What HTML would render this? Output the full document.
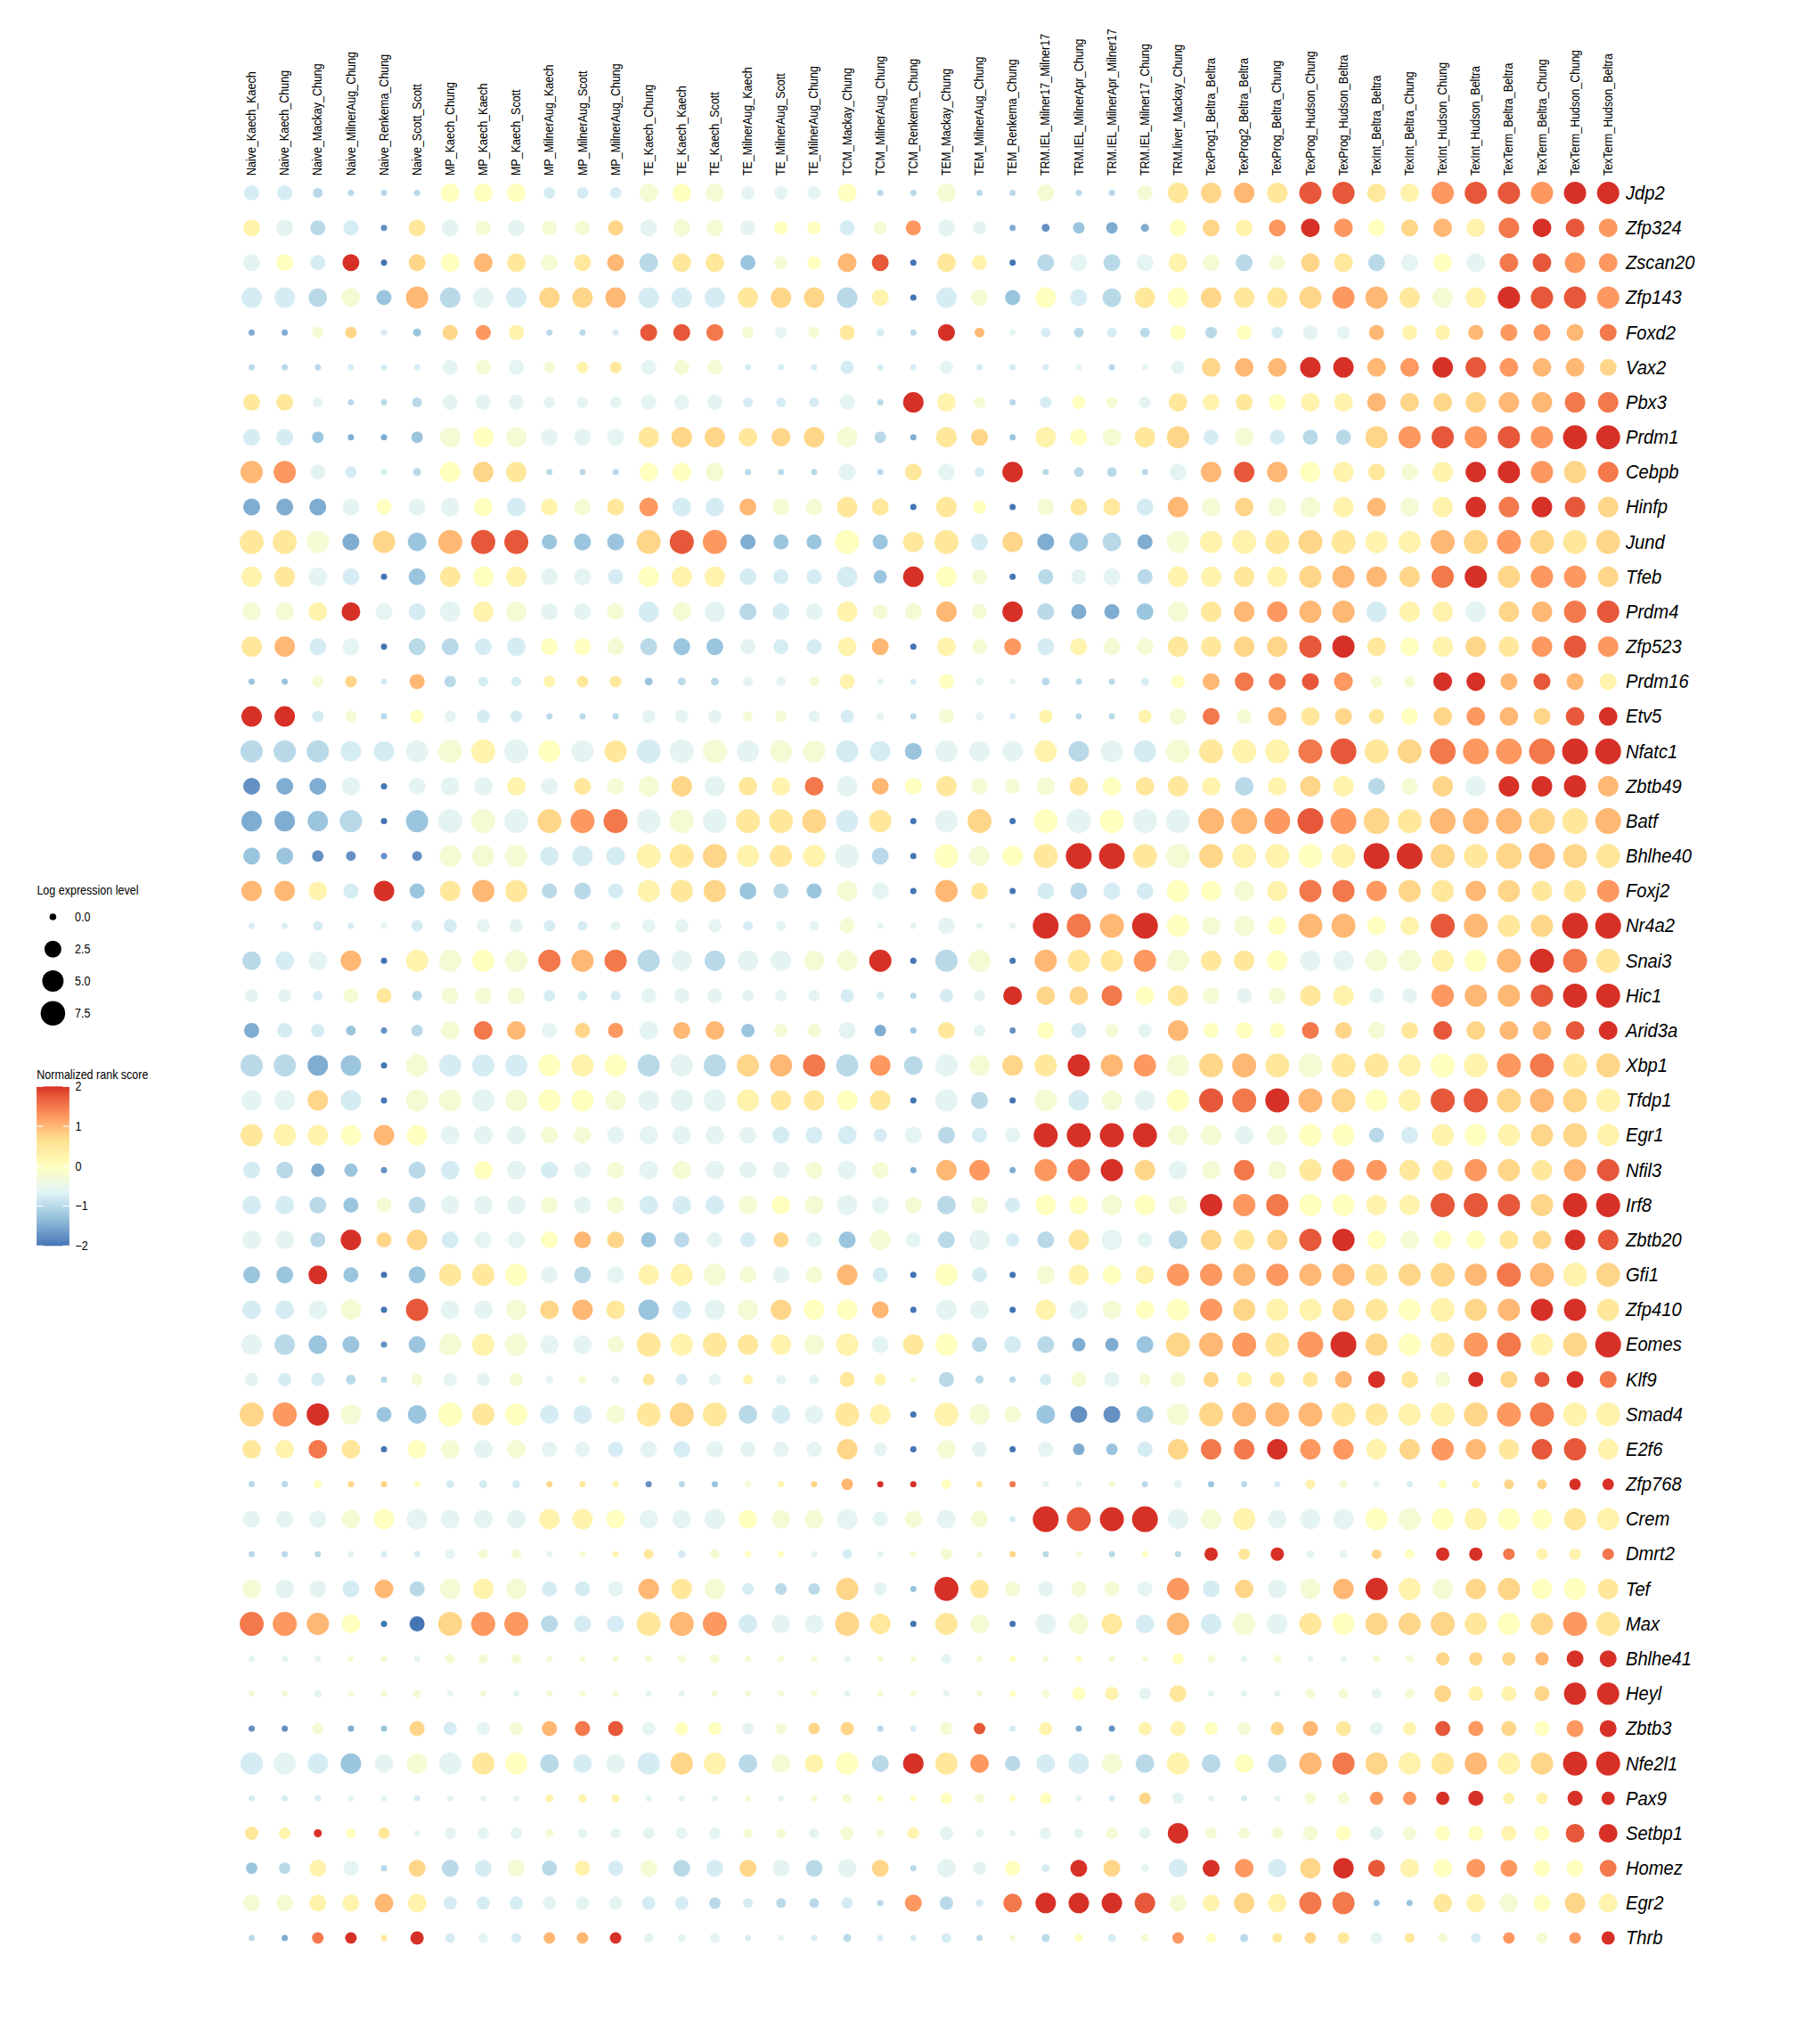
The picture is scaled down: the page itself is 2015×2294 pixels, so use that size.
<!DOCTYPE html><html><head><meta charset="utf-8"><style>html,body{margin:0;padding:0;background:#fff;overflow:hidden;}svg{display:block;}</style></head><body><svg width="2015" height="2294" viewBox="0 0 2015 2294">
<rect width="2015" height="2294" fill="#FFFFFF"/>
<g font-family="&quot;Liberation Sans&quot;, sans-serif" font-size="14" fill="#000">
<text transform="translate(287.10,197.1) rotate(-90) scale(0.895,1)">Naive_Kaech_Kaech</text>
<text transform="translate(324.24,197.1) rotate(-90) scale(0.895,1)">Naive_Kaech_Chung</text>
<text transform="translate(361.38,197.1) rotate(-90) scale(0.895,1)">Naive_Mackay_Chung</text>
<text transform="translate(398.52,197.1) rotate(-90) scale(0.895,1)">Naive_MilnerAug_Chung</text>
<text transform="translate(435.66,197.1) rotate(-90) scale(0.895,1)">Naive_Renkema_Chung</text>
<text transform="translate(472.80,197.1) rotate(-90) scale(0.895,1)">Naive_Scott_Scott</text>
<text transform="translate(509.94,197.1) rotate(-90) scale(0.895,1)">MP_Kaech_Chung</text>
<text transform="translate(547.08,197.1) rotate(-90) scale(0.895,1)">MP_Kaech_Kaech</text>
<text transform="translate(584.22,197.1) rotate(-90) scale(0.895,1)">MP_Kaech_Scott</text>
<text transform="translate(621.36,197.1) rotate(-90) scale(0.895,1)">MP_MilnerAug_Kaech</text>
<text transform="translate(658.50,197.1) rotate(-90) scale(0.895,1)">MP_MilnerAug_Scott</text>
<text transform="translate(695.64,197.1) rotate(-90) scale(0.895,1)">MP_MilnerAug_Chung</text>
<text transform="translate(732.78,197.1) rotate(-90) scale(0.895,1)">TE_Kaech_Chung</text>
<text transform="translate(769.92,197.1) rotate(-90) scale(0.895,1)">TE_Kaech_Kaech</text>
<text transform="translate(807.06,197.1) rotate(-90) scale(0.895,1)">TE_Kaech_Scott</text>
<text transform="translate(844.20,197.1) rotate(-90) scale(0.895,1)">TE_MilnerAug_Kaech</text>
<text transform="translate(881.34,197.1) rotate(-90) scale(0.895,1)">TE_MilnerAug_Scott</text>
<text transform="translate(918.48,197.1) rotate(-90) scale(0.895,1)">TE_MilnerAug_Chung</text>
<text transform="translate(955.62,197.1) rotate(-90) scale(0.895,1)">TCM_Mackay_Chung</text>
<text transform="translate(992.76,197.1) rotate(-90) scale(0.895,1)">TCM_MilnerAug_Chung</text>
<text transform="translate(1029.90,197.1) rotate(-90) scale(0.895,1)">TCM_Renkema_Chung</text>
<text transform="translate(1067.04,197.1) rotate(-90) scale(0.895,1)">TEM_Mackay_Chung</text>
<text transform="translate(1104.18,197.1) rotate(-90) scale(0.895,1)">TEM_MilnerAug_Chung</text>
<text transform="translate(1141.32,197.1) rotate(-90) scale(0.895,1)">TEM_Renkema_Chung</text>
<text transform="translate(1178.46,197.1) rotate(-90) scale(0.895,1)">TRM.IEL_Milner17_Milner17</text>
<text transform="translate(1215.60,197.1) rotate(-90) scale(0.895,1)">TRM.IEL_MilnerApr_Chung</text>
<text transform="translate(1252.74,197.1) rotate(-90) scale(0.895,1)">TRM.IEL_MilnerApr_Milner17</text>
<text transform="translate(1289.88,197.1) rotate(-90) scale(0.895,1)">TRM.IEL_Milner17_Chung</text>
<text transform="translate(1327.02,197.1) rotate(-90) scale(0.895,1)">TRM.liver_Mackay_Chung</text>
<text transform="translate(1364.16,197.1) rotate(-90) scale(0.895,1)">TexProg1_Beltra_Beltra</text>
<text transform="translate(1401.30,197.1) rotate(-90) scale(0.895,1)">TexProg2_Beltra_Beltra</text>
<text transform="translate(1438.44,197.1) rotate(-90) scale(0.895,1)">TexProg_Beltra_Chung</text>
<text transform="translate(1475.58,197.1) rotate(-90) scale(0.895,1)">TexProg_Hudson_Chung</text>
<text transform="translate(1512.72,197.1) rotate(-90) scale(0.895,1)">TexProg_Hudson_Beltra</text>
<text transform="translate(1549.86,197.1) rotate(-90) scale(0.895,1)">TexInt_Beltra_Beltra</text>
<text transform="translate(1587.00,197.1) rotate(-90) scale(0.895,1)">TexInt_Beltra_Chung</text>
<text transform="translate(1624.14,197.1) rotate(-90) scale(0.895,1)">TexInt_Hudson_Chung</text>
<text transform="translate(1661.28,197.1) rotate(-90) scale(0.895,1)">TexInt_Hudson_Beltra</text>
<text transform="translate(1698.42,197.1) rotate(-90) scale(0.895,1)">TexTerm_Beltra_Beltra</text>
<text transform="translate(1735.56,197.1) rotate(-90) scale(0.895,1)">TexTerm_Beltra_Chung</text>
<text transform="translate(1772.70,197.1) rotate(-90) scale(0.895,1)">TexTerm_Hudson_Chung</text>
<text transform="translate(1809.84,197.1) rotate(-90) scale(0.895,1)">TexTerm_Hudson_Beltra</text>
</g>
<circle cx="282.50" cy="216.50" r="8.50" fill="#D6ECF4"/>
<circle cx="319.64" cy="216.50" r="8.50" fill="#D6ECF4"/>
<circle cx="356.78" cy="216.50" r="5.50" fill="#B9D9E9"/>
<circle cx="393.92" cy="216.50" r="3.50" fill="#B9D9E9"/>
<circle cx="431.06" cy="216.50" r="3.50" fill="#B9D9E9"/>
<circle cx="468.20" cy="216.50" r="3.50" fill="#B9D9E9"/>
<circle cx="505.34" cy="216.50" r="10.50" fill="#FFFFBF"/>
<circle cx="542.48" cy="216.50" r="10.50" fill="#FFFFBF"/>
<circle cx="579.62" cy="216.50" r="10.50" fill="#FFFFBF"/>
<circle cx="616.76" cy="216.50" r="6.50" fill="#D6ECF4"/>
<circle cx="653.90" cy="216.50" r="6.50" fill="#D6ECF4"/>
<circle cx="691.04" cy="216.50" r="6.50" fill="#D6ECF4"/>
<circle cx="728.18" cy="216.50" r="10.50" fill="#F5FAD5"/>
<circle cx="765.32" cy="216.50" r="10.50" fill="#FFFFBF"/>
<circle cx="802.46" cy="216.50" r="10.50" fill="#F5FAD5"/>
<circle cx="839.60" cy="216.50" r="7.50" fill="#E4F4F2"/>
<circle cx="876.74" cy="216.50" r="7.50" fill="#E4F4F2"/>
<circle cx="913.88" cy="216.50" r="7.50" fill="#E4F4F2"/>
<circle cx="951.02" cy="216.50" r="10.50" fill="#FFFFBF"/>
<circle cx="988.16" cy="216.50" r="3.50" fill="#B9D9E9"/>
<circle cx="1025.30" cy="216.50" r="3.50" fill="#B9D9E9"/>
<circle cx="1062.44" cy="216.50" r="10.50" fill="#F5FAD5"/>
<circle cx="1099.58" cy="216.50" r="3.50" fill="#B9D9E9"/>
<circle cx="1136.72" cy="216.50" r="3.50" fill="#B9D9E9"/>
<circle cx="1173.86" cy="216.50" r="9.50" fill="#F5FAD5"/>
<circle cx="1211.00" cy="216.50" r="3.50" fill="#B9D9E9"/>
<circle cx="1248.14" cy="216.50" r="3.50" fill="#B9D9E9"/>
<circle cx="1285.28" cy="216.50" r="8.50" fill="#F5FAD5"/>
<circle cx="1322.42" cy="216.50" r="11.50" fill="#FFE89C"/>
<circle cx="1359.56" cy="216.50" r="11.50" fill="#FFD689"/>
<circle cx="1396.70" cy="216.50" r="11.50" fill="#FFB774"/>
<circle cx="1433.84" cy="216.50" r="11.50" fill="#FFE89C"/>
<circle cx="1470.98" cy="216.50" r="12.50" fill="#E65839"/>
<circle cx="1508.12" cy="216.50" r="12.50" fill="#E65839"/>
<circle cx="1545.26" cy="216.50" r="10.50" fill="#FFE89C"/>
<circle cx="1582.40" cy="216.50" r="10.50" fill="#FFF3AD"/>
<circle cx="1619.54" cy="216.50" r="12.50" fill="#FD9860"/>
<circle cx="1656.68" cy="216.50" r="12.50" fill="#E65839"/>
<circle cx="1693.82" cy="216.50" r="12.50" fill="#E65839"/>
<circle cx="1730.96" cy="216.50" r="12.50" fill="#FD9860"/>
<circle cx="1768.10" cy="216.50" r="12.50" fill="#D73027"/>
<circle cx="1805.24" cy="216.50" r="12.50" fill="#D73027"/>
<circle cx="282.50" cy="255.67" r="9.50" fill="#FFF3AD"/>
<circle cx="319.64" cy="255.67" r="9.50" fill="#E4F4F2"/>
<circle cx="356.78" cy="255.67" r="8.50" fill="#B9D9E9"/>
<circle cx="393.92" cy="255.67" r="8.50" fill="#D6ECF4"/>
<circle cx="431.06" cy="255.67" r="3.50" fill="#6490C3"/>
<circle cx="468.20" cy="255.67" r="9.50" fill="#FFE89C"/>
<circle cx="505.34" cy="255.67" r="9.50" fill="#E4F4F2"/>
<circle cx="542.48" cy="255.67" r="8.50" fill="#F5FAD5"/>
<circle cx="579.62" cy="255.67" r="9.50" fill="#E4F4F2"/>
<circle cx="616.76" cy="255.67" r="8.50" fill="#F5FAD5"/>
<circle cx="653.90" cy="255.67" r="8.50" fill="#F5FAD5"/>
<circle cx="691.04" cy="255.67" r="8.50" fill="#FFD689"/>
<circle cx="728.18" cy="255.67" r="9.50" fill="#E4F4F2"/>
<circle cx="765.32" cy="255.67" r="9.50" fill="#F5FAD5"/>
<circle cx="802.46" cy="255.67" r="9.50" fill="#F5FAD5"/>
<circle cx="839.60" cy="255.67" r="8.50" fill="#E4F4F2"/>
<circle cx="876.74" cy="255.67" r="7.50" fill="#FFFFBF"/>
<circle cx="913.88" cy="255.67" r="7.50" fill="#FFFFBF"/>
<circle cx="951.02" cy="255.67" r="8.50" fill="#D6ECF4"/>
<circle cx="988.16" cy="255.67" r="7.50" fill="#F5FAD5"/>
<circle cx="1025.30" cy="255.67" r="8.50" fill="#FD9860"/>
<circle cx="1062.44" cy="255.67" r="9.50" fill="#E4F4F2"/>
<circle cx="1099.58" cy="255.67" r="7.50" fill="#E4F4F2"/>
<circle cx="1136.72" cy="255.67" r="3.50" fill="#7FACD1"/>
<circle cx="1173.86" cy="255.67" r="4.50" fill="#6490C3"/>
<circle cx="1211.00" cy="255.67" r="6.50" fill="#9BC5DF"/>
<circle cx="1248.14" cy="255.67" r="6.50" fill="#7FACD1"/>
<circle cx="1285.28" cy="255.67" r="4.50" fill="#7FACD1"/>
<circle cx="1322.42" cy="255.67" r="9.50" fill="#FFFFBF"/>
<circle cx="1359.56" cy="255.67" r="9.50" fill="#FFD689"/>
<circle cx="1396.70" cy="255.67" r="9.50" fill="#FFF3AD"/>
<circle cx="1433.84" cy="255.67" r="9.50" fill="#FD9860"/>
<circle cx="1470.98" cy="255.67" r="10.50" fill="#D73027"/>
<circle cx="1508.12" cy="255.67" r="10.50" fill="#FD9860"/>
<circle cx="1545.26" cy="255.67" r="9.50" fill="#FFFFBF"/>
<circle cx="1582.40" cy="255.67" r="9.50" fill="#FFD689"/>
<circle cx="1619.54" cy="255.67" r="10.50" fill="#FFB774"/>
<circle cx="1656.68" cy="255.67" r="10.50" fill="#FFF3AD"/>
<circle cx="1693.82" cy="255.67" r="11.50" fill="#F3784C"/>
<circle cx="1730.96" cy="255.67" r="10.50" fill="#D73027"/>
<circle cx="1768.10" cy="255.67" r="10.50" fill="#E65839"/>
<circle cx="1805.24" cy="255.67" r="10.50" fill="#FD9860"/>
<circle cx="282.50" cy="294.84" r="9.50" fill="#E4F4F2"/>
<circle cx="319.64" cy="294.84" r="9.50" fill="#FFFFBF"/>
<circle cx="356.78" cy="294.84" r="8.50" fill="#D6ECF4"/>
<circle cx="393.92" cy="294.84" r="9.50" fill="#D73027"/>
<circle cx="431.06" cy="294.84" r="3.50" fill="#4575B4"/>
<circle cx="468.20" cy="294.84" r="9.50" fill="#FFD689"/>
<circle cx="505.34" cy="294.84" r="10.50" fill="#FFFFBF"/>
<circle cx="542.48" cy="294.84" r="10.50" fill="#FFB774"/>
<circle cx="579.62" cy="294.84" r="10.50" fill="#FFE89C"/>
<circle cx="616.76" cy="294.84" r="9.50" fill="#F5FAD5"/>
<circle cx="653.90" cy="294.84" r="9.50" fill="#FFE89C"/>
<circle cx="691.04" cy="294.84" r="9.50" fill="#FFB774"/>
<circle cx="728.18" cy="294.84" r="10.50" fill="#B9D9E9"/>
<circle cx="765.32" cy="294.84" r="10.50" fill="#FFE89C"/>
<circle cx="802.46" cy="294.84" r="10.50" fill="#FFE89C"/>
<circle cx="839.60" cy="294.84" r="8.50" fill="#9BC5DF"/>
<circle cx="876.74" cy="294.84" r="7.50" fill="#F5FAD5"/>
<circle cx="913.88" cy="294.84" r="7.50" fill="#FFFFBF"/>
<circle cx="951.02" cy="294.84" r="10.50" fill="#FFB774"/>
<circle cx="988.16" cy="294.84" r="9.50" fill="#E65839"/>
<circle cx="1025.30" cy="294.84" r="3.50" fill="#4575B4"/>
<circle cx="1062.44" cy="294.84" r="10.50" fill="#FFE89C"/>
<circle cx="1099.58" cy="294.84" r="8.50" fill="#FFF3AD"/>
<circle cx="1136.72" cy="294.84" r="3.50" fill="#4575B4"/>
<circle cx="1173.86" cy="294.84" r="9.50" fill="#B9D9E9"/>
<circle cx="1211.00" cy="294.84" r="9.50" fill="#E4F4F2"/>
<circle cx="1248.14" cy="294.84" r="9.50" fill="#B9D9E9"/>
<circle cx="1285.28" cy="294.84" r="9.50" fill="#E4F4F2"/>
<circle cx="1322.42" cy="294.84" r="10.50" fill="#FFF3AD"/>
<circle cx="1359.56" cy="294.84" r="9.50" fill="#F5FAD5"/>
<circle cx="1396.70" cy="294.84" r="9.50" fill="#B9D9E9"/>
<circle cx="1433.84" cy="294.84" r="8.50" fill="#F5FAD5"/>
<circle cx="1470.98" cy="294.84" r="10.50" fill="#FFD689"/>
<circle cx="1508.12" cy="294.84" r="10.50" fill="#FFE89C"/>
<circle cx="1545.26" cy="294.84" r="9.50" fill="#B9D9E9"/>
<circle cx="1582.40" cy="294.84" r="9.50" fill="#E4F4F2"/>
<circle cx="1619.54" cy="294.84" r="10.50" fill="#FFFFBF"/>
<circle cx="1656.68" cy="294.84" r="10.50" fill="#E4F4F2"/>
<circle cx="1693.82" cy="294.84" r="10.50" fill="#F3784C"/>
<circle cx="1730.96" cy="294.84" r="10.50" fill="#E65839"/>
<circle cx="1768.10" cy="294.84" r="11.50" fill="#FD9860"/>
<circle cx="1805.24" cy="294.84" r="10.50" fill="#FD9860"/>
<circle cx="282.50" cy="334.01" r="11.50" fill="#D6ECF4"/>
<circle cx="319.64" cy="334.01" r="11.50" fill="#D6ECF4"/>
<circle cx="356.78" cy="334.01" r="10.50" fill="#B9D9E9"/>
<circle cx="393.92" cy="334.01" r="10.50" fill="#F5FAD5"/>
<circle cx="431.06" cy="334.01" r="8.50" fill="#9BC5DF"/>
<circle cx="468.20" cy="334.01" r="12.50" fill="#FFB774"/>
<circle cx="505.34" cy="334.01" r="11.50" fill="#B9D9E9"/>
<circle cx="542.48" cy="334.01" r="11.50" fill="#E4F4F2"/>
<circle cx="579.62" cy="334.01" r="11.50" fill="#D6ECF4"/>
<circle cx="616.76" cy="334.01" r="11.50" fill="#FFD689"/>
<circle cx="653.90" cy="334.01" r="11.50" fill="#FFD689"/>
<circle cx="691.04" cy="334.01" r="11.50" fill="#FFB774"/>
<circle cx="728.18" cy="334.01" r="11.50" fill="#D6ECF4"/>
<circle cx="765.32" cy="334.01" r="11.50" fill="#D6ECF4"/>
<circle cx="802.46" cy="334.01" r="11.50" fill="#D6ECF4"/>
<circle cx="839.60" cy="334.01" r="11.50" fill="#FFE89C"/>
<circle cx="876.74" cy="334.01" r="11.50" fill="#FFD689"/>
<circle cx="913.88" cy="334.01" r="11.50" fill="#FFD689"/>
<circle cx="951.02" cy="334.01" r="11.50" fill="#B9D9E9"/>
<circle cx="988.16" cy="334.01" r="9.50" fill="#FFF3AD"/>
<circle cx="1025.30" cy="334.01" r="3.50" fill="#4575B4"/>
<circle cx="1062.44" cy="334.01" r="11.50" fill="#D6ECF4"/>
<circle cx="1099.58" cy="334.01" r="9.50" fill="#F5FAD5"/>
<circle cx="1136.72" cy="334.01" r="8.50" fill="#9BC5DF"/>
<circle cx="1173.86" cy="334.01" r="11.50" fill="#FFFFBF"/>
<circle cx="1211.00" cy="334.01" r="9.50" fill="#D6ECF4"/>
<circle cx="1248.14" cy="334.01" r="10.50" fill="#B9D9E9"/>
<circle cx="1285.28" cy="334.01" r="11.50" fill="#FFE89C"/>
<circle cx="1322.42" cy="334.01" r="11.50" fill="#FFFFBF"/>
<circle cx="1359.56" cy="334.01" r="11.50" fill="#FFD689"/>
<circle cx="1396.70" cy="334.01" r="11.50" fill="#FFE89C"/>
<circle cx="1433.84" cy="334.01" r="11.50" fill="#FFE89C"/>
<circle cx="1470.98" cy="334.01" r="12.50" fill="#FFD689"/>
<circle cx="1508.12" cy="334.01" r="12.50" fill="#FD9860"/>
<circle cx="1545.26" cy="334.01" r="12.50" fill="#FFB774"/>
<circle cx="1582.40" cy="334.01" r="11.50" fill="#FFE89C"/>
<circle cx="1619.54" cy="334.01" r="11.50" fill="#F5FAD5"/>
<circle cx="1656.68" cy="334.01" r="11.50" fill="#FFF3AD"/>
<circle cx="1693.82" cy="334.01" r="12.50" fill="#D73027"/>
<circle cx="1730.96" cy="334.01" r="12.50" fill="#E65839"/>
<circle cx="1768.10" cy="334.01" r="12.50" fill="#E65839"/>
<circle cx="1805.24" cy="334.01" r="12.50" fill="#FD9860"/>
<circle cx="282.50" cy="373.18" r="3.50" fill="#7FACD1"/>
<circle cx="319.64" cy="373.18" r="3.50" fill="#7FACD1"/>
<circle cx="356.78" cy="373.18" r="6.50" fill="#F5FAD5"/>
<circle cx="393.92" cy="373.18" r="6.50" fill="#FFD689"/>
<circle cx="431.06" cy="373.18" r="3.50" fill="#D6ECF4"/>
<circle cx="468.20" cy="373.18" r="4.50" fill="#9BC5DF"/>
<circle cx="505.34" cy="373.18" r="8.50" fill="#FFD689"/>
<circle cx="542.48" cy="373.18" r="8.50" fill="#FD9860"/>
<circle cx="579.62" cy="373.18" r="8.50" fill="#FFF3AD"/>
<circle cx="616.76" cy="373.18" r="3.50" fill="#B9D9E9"/>
<circle cx="653.90" cy="373.18" r="3.50" fill="#B9D9E9"/>
<circle cx="691.04" cy="373.18" r="3.50" fill="#D6ECF4"/>
<circle cx="728.18" cy="373.18" r="9.50" fill="#E65839"/>
<circle cx="765.32" cy="373.18" r="9.50" fill="#E65839"/>
<circle cx="802.46" cy="373.18" r="9.50" fill="#F3784C"/>
<circle cx="839.60" cy="373.18" r="6.50" fill="#F5FAD5"/>
<circle cx="876.74" cy="373.18" r="6.50" fill="#E4F4F2"/>
<circle cx="913.88" cy="373.18" r="6.50" fill="#F5FAD5"/>
<circle cx="951.02" cy="373.18" r="8.50" fill="#FFE89C"/>
<circle cx="988.16" cy="373.18" r="4.50" fill="#D6ECF4"/>
<circle cx="1025.30" cy="373.18" r="3.50" fill="#B9D9E9"/>
<circle cx="1062.44" cy="373.18" r="9.50" fill="#D73027"/>
<circle cx="1099.58" cy="373.18" r="5.50" fill="#FFB774"/>
<circle cx="1136.72" cy="373.18" r="3.50" fill="#E4F4F2"/>
<circle cx="1173.86" cy="373.18" r="5.50" fill="#D6ECF4"/>
<circle cx="1211.00" cy="373.18" r="5.50" fill="#B9D9E9"/>
<circle cx="1248.14" cy="373.18" r="5.50" fill="#D6ECF4"/>
<circle cx="1285.28" cy="373.18" r="5.50" fill="#B9D9E9"/>
<circle cx="1322.42" cy="373.18" r="8.50" fill="#FFFFBF"/>
<circle cx="1359.56" cy="373.18" r="6.50" fill="#B9D9E9"/>
<circle cx="1396.70" cy="373.18" r="8.50" fill="#FFFFBF"/>
<circle cx="1433.84" cy="373.18" r="6.50" fill="#D6ECF4"/>
<circle cx="1470.98" cy="373.18" r="8.50" fill="#E4F4F2"/>
<circle cx="1508.12" cy="373.18" r="7.50" fill="#E4F4F2"/>
<circle cx="1545.26" cy="373.18" r="8.50" fill="#FFB774"/>
<circle cx="1582.40" cy="373.18" r="8.50" fill="#FFF3AD"/>
<circle cx="1619.54" cy="373.18" r="8.50" fill="#FFF3AD"/>
<circle cx="1656.68" cy="373.18" r="8.50" fill="#FFB774"/>
<circle cx="1693.82" cy="373.18" r="9.50" fill="#FD9860"/>
<circle cx="1730.96" cy="373.18" r="9.50" fill="#FD9860"/>
<circle cx="1768.10" cy="373.18" r="9.50" fill="#FFB774"/>
<circle cx="1805.24" cy="373.18" r="9.50" fill="#F3784C"/>
<circle cx="282.50" cy="412.35" r="3.50" fill="#B9D9E9"/>
<circle cx="319.64" cy="412.35" r="3.50" fill="#B9D9E9"/>
<circle cx="356.78" cy="412.35" r="3.50" fill="#B9D9E9"/>
<circle cx="393.92" cy="412.35" r="3.50" fill="#D6ECF4"/>
<circle cx="431.06" cy="412.35" r="3.50" fill="#D6ECF4"/>
<circle cx="468.20" cy="412.35" r="3.50" fill="#D6ECF4"/>
<circle cx="505.34" cy="412.35" r="8.50" fill="#E4F4F2"/>
<circle cx="542.48" cy="412.35" r="8.50" fill="#F5FAD5"/>
<circle cx="579.62" cy="412.35" r="8.50" fill="#E4F4F2"/>
<circle cx="616.76" cy="412.35" r="6.50" fill="#F5FAD5"/>
<circle cx="653.90" cy="412.35" r="6.50" fill="#FFF3AD"/>
<circle cx="691.04" cy="412.35" r="6.50" fill="#FFE89C"/>
<circle cx="728.18" cy="412.35" r="8.50" fill="#E4F4F2"/>
<circle cx="765.32" cy="412.35" r="8.50" fill="#F5FAD5"/>
<circle cx="802.46" cy="412.35" r="8.50" fill="#F5FAD5"/>
<circle cx="839.60" cy="412.35" r="3.50" fill="#D6ECF4"/>
<circle cx="876.74" cy="412.35" r="3.50" fill="#D6ECF4"/>
<circle cx="913.88" cy="412.35" r="3.50" fill="#D6ECF4"/>
<circle cx="951.02" cy="412.35" r="7.50" fill="#D6ECF4"/>
<circle cx="988.16" cy="412.35" r="3.50" fill="#D6ECF4"/>
<circle cx="1025.30" cy="412.35" r="3.50" fill="#D6ECF4"/>
<circle cx="1062.44" cy="412.35" r="7.50" fill="#E4F4F2"/>
<circle cx="1099.58" cy="412.35" r="3.50" fill="#D6ECF4"/>
<circle cx="1136.72" cy="412.35" r="3.50" fill="#D6ECF4"/>
<circle cx="1173.86" cy="412.35" r="3.50" fill="#D6ECF4"/>
<circle cx="1211.00" cy="412.35" r="3.50" fill="#E4F4F2"/>
<circle cx="1248.14" cy="412.35" r="3.50" fill="#B9D9E9"/>
<circle cx="1285.28" cy="412.35" r="3.50" fill="#E4F4F2"/>
<circle cx="1322.42" cy="412.35" r="7.50" fill="#E4F4F2"/>
<circle cx="1359.56" cy="412.35" r="10.50" fill="#FFD689"/>
<circle cx="1396.70" cy="412.35" r="10.50" fill="#FFB774"/>
<circle cx="1433.84" cy="412.35" r="10.50" fill="#FFB774"/>
<circle cx="1470.98" cy="412.35" r="11.50" fill="#D73027"/>
<circle cx="1508.12" cy="412.35" r="11.50" fill="#D73027"/>
<circle cx="1545.26" cy="412.35" r="10.50" fill="#FFB774"/>
<circle cx="1582.40" cy="412.35" r="10.50" fill="#FD9860"/>
<circle cx="1619.54" cy="412.35" r="11.50" fill="#D73027"/>
<circle cx="1656.68" cy="412.35" r="11.50" fill="#E65839"/>
<circle cx="1693.82" cy="412.35" r="10.50" fill="#FD9860"/>
<circle cx="1730.96" cy="412.35" r="10.50" fill="#FFB774"/>
<circle cx="1768.10" cy="412.35" r="10.50" fill="#FFB774"/>
<circle cx="1805.24" cy="412.35" r="9.50" fill="#FFD689"/>
<circle cx="282.50" cy="451.52" r="9.50" fill="#FFE89C"/>
<circle cx="319.64" cy="451.52" r="9.50" fill="#FFE89C"/>
<circle cx="356.78" cy="451.52" r="5.50" fill="#E4F4F2"/>
<circle cx="393.92" cy="451.52" r="3.50" fill="#B9D9E9"/>
<circle cx="431.06" cy="451.52" r="3.50" fill="#B9D9E9"/>
<circle cx="468.20" cy="451.52" r="5.50" fill="#B9D9E9"/>
<circle cx="505.34" cy="451.52" r="8.50" fill="#E4F4F2"/>
<circle cx="542.48" cy="451.52" r="8.50" fill="#E4F4F2"/>
<circle cx="579.62" cy="451.52" r="8.50" fill="#E4F4F2"/>
<circle cx="616.76" cy="451.52" r="6.50" fill="#E4F4F2"/>
<circle cx="653.90" cy="451.52" r="6.50" fill="#E4F4F2"/>
<circle cx="691.04" cy="451.52" r="6.50" fill="#E4F4F2"/>
<circle cx="728.18" cy="451.52" r="8.50" fill="#E4F4F2"/>
<circle cx="765.32" cy="451.52" r="8.50" fill="#E4F4F2"/>
<circle cx="802.46" cy="451.52" r="8.50" fill="#E4F4F2"/>
<circle cx="839.60" cy="451.52" r="5.50" fill="#D6ECF4"/>
<circle cx="876.74" cy="451.52" r="5.50" fill="#D6ECF4"/>
<circle cx="913.88" cy="451.52" r="5.50" fill="#D6ECF4"/>
<circle cx="951.02" cy="451.52" r="8.50" fill="#E4F4F2"/>
<circle cx="988.16" cy="451.52" r="3.50" fill="#B9D9E9"/>
<circle cx="1025.30" cy="451.52" r="11.50" fill="#D73027"/>
<circle cx="1062.44" cy="451.52" r="10.50" fill="#FFF3AD"/>
<circle cx="1099.58" cy="451.52" r="6.50" fill="#F5FAD5"/>
<circle cx="1136.72" cy="451.52" r="3.50" fill="#B9D9E9"/>
<circle cx="1173.86" cy="451.52" r="6.50" fill="#D6ECF4"/>
<circle cx="1211.00" cy="451.52" r="7.50" fill="#FFFFBF"/>
<circle cx="1248.14" cy="451.52" r="6.50" fill="#F5FAD5"/>
<circle cx="1285.28" cy="451.52" r="6.50" fill="#E4F4F2"/>
<circle cx="1322.42" cy="451.52" r="10.50" fill="#FFE89C"/>
<circle cx="1359.56" cy="451.52" r="9.50" fill="#FFF3AD"/>
<circle cx="1396.70" cy="451.52" r="9.50" fill="#FFE89C"/>
<circle cx="1433.84" cy="451.52" r="9.50" fill="#FFFFBF"/>
<circle cx="1470.98" cy="451.52" r="10.50" fill="#FFF3AD"/>
<circle cx="1508.12" cy="451.52" r="10.50" fill="#FFF3AD"/>
<circle cx="1545.26" cy="451.52" r="10.50" fill="#FFB774"/>
<circle cx="1582.40" cy="451.52" r="10.50" fill="#FFD689"/>
<circle cx="1619.54" cy="451.52" r="10.50" fill="#FFD689"/>
<circle cx="1656.68" cy="451.52" r="11.50" fill="#FFD689"/>
<circle cx="1693.82" cy="451.52" r="11.50" fill="#FFB774"/>
<circle cx="1730.96" cy="451.52" r="11.50" fill="#FFB774"/>
<circle cx="1768.10" cy="451.52" r="11.50" fill="#F3784C"/>
<circle cx="1805.24" cy="451.52" r="11.50" fill="#F3784C"/>
<circle cx="282.50" cy="490.69" r="9.50" fill="#D6ECF4"/>
<circle cx="319.64" cy="490.69" r="9.50" fill="#D6ECF4"/>
<circle cx="356.78" cy="490.69" r="6.50" fill="#9BC5DF"/>
<circle cx="393.92" cy="490.69" r="3.50" fill="#7FACD1"/>
<circle cx="431.06" cy="490.69" r="3.50" fill="#7FACD1"/>
<circle cx="468.20" cy="490.69" r="6.50" fill="#9BC5DF"/>
<circle cx="505.34" cy="490.69" r="11.50" fill="#F5FAD5"/>
<circle cx="542.48" cy="490.69" r="11.50" fill="#FFFFBF"/>
<circle cx="579.62" cy="490.69" r="11.50" fill="#F5FAD5"/>
<circle cx="616.76" cy="490.69" r="9.50" fill="#E4F4F2"/>
<circle cx="653.90" cy="490.69" r="9.50" fill="#E4F4F2"/>
<circle cx="691.04" cy="490.69" r="9.50" fill="#E4F4F2"/>
<circle cx="728.18" cy="490.69" r="11.50" fill="#FFE89C"/>
<circle cx="765.32" cy="490.69" r="11.50" fill="#FFD689"/>
<circle cx="802.46" cy="490.69" r="11.50" fill="#FFD689"/>
<circle cx="839.60" cy="490.69" r="10.50" fill="#FFE89C"/>
<circle cx="876.74" cy="490.69" r="10.50" fill="#FFD689"/>
<circle cx="913.88" cy="490.69" r="11.50" fill="#FFD689"/>
<circle cx="951.02" cy="490.69" r="11.50" fill="#F5FAD5"/>
<circle cx="988.16" cy="490.69" r="6.50" fill="#B9D9E9"/>
<circle cx="1025.30" cy="490.69" r="3.50" fill="#7FACD1"/>
<circle cx="1062.44" cy="490.69" r="11.50" fill="#FFE89C"/>
<circle cx="1099.58" cy="490.69" r="9.50" fill="#FFD689"/>
<circle cx="1136.72" cy="490.69" r="3.50" fill="#9BC5DF"/>
<circle cx="1173.86" cy="490.69" r="11.50" fill="#FFF3AD"/>
<circle cx="1211.00" cy="490.69" r="9.50" fill="#FFFFBF"/>
<circle cx="1248.14" cy="490.69" r="10.50" fill="#F5FAD5"/>
<circle cx="1285.28" cy="490.69" r="11.50" fill="#FFE89C"/>
<circle cx="1322.42" cy="490.69" r="12.50" fill="#FFD689"/>
<circle cx="1359.56" cy="490.69" r="8.50" fill="#D6ECF4"/>
<circle cx="1396.70" cy="490.69" r="10.50" fill="#F5FAD5"/>
<circle cx="1433.84" cy="490.69" r="8.50" fill="#D6ECF4"/>
<circle cx="1470.98" cy="490.69" r="8.50" fill="#B9D9E9"/>
<circle cx="1508.12" cy="490.69" r="8.50" fill="#B9D9E9"/>
<circle cx="1545.26" cy="490.69" r="12.50" fill="#FFD689"/>
<circle cx="1582.40" cy="490.69" r="12.50" fill="#FD9860"/>
<circle cx="1619.54" cy="490.69" r="12.50" fill="#E65839"/>
<circle cx="1656.68" cy="490.69" r="12.50" fill="#FD9860"/>
<circle cx="1693.82" cy="490.69" r="12.50" fill="#E65839"/>
<circle cx="1730.96" cy="490.69" r="12.50" fill="#FD9860"/>
<circle cx="1768.10" cy="490.69" r="13.50" fill="#D73027"/>
<circle cx="1805.24" cy="490.69" r="13.50" fill="#D73027"/>
<circle cx="282.50" cy="529.86" r="12.50" fill="#FFB774"/>
<circle cx="319.64" cy="529.86" r="12.50" fill="#FD9860"/>
<circle cx="356.78" cy="529.86" r="8.50" fill="#E4F4F2"/>
<circle cx="393.92" cy="529.86" r="6.50" fill="#D6ECF4"/>
<circle cx="431.06" cy="529.86" r="3.50" fill="#D6ECF4"/>
<circle cx="468.20" cy="529.86" r="4.50" fill="#B9D9E9"/>
<circle cx="505.34" cy="529.86" r="11.50" fill="#FFFFBF"/>
<circle cx="542.48" cy="529.86" r="11.50" fill="#FFD689"/>
<circle cx="579.62" cy="529.86" r="11.50" fill="#FFE89C"/>
<circle cx="616.76" cy="529.86" r="3.50" fill="#B9D9E9"/>
<circle cx="653.90" cy="529.86" r="3.50" fill="#B9D9E9"/>
<circle cx="691.04" cy="529.86" r="3.50" fill="#B9D9E9"/>
<circle cx="728.18" cy="529.86" r="10.50" fill="#FFFFBF"/>
<circle cx="765.32" cy="529.86" r="10.50" fill="#FFFFBF"/>
<circle cx="802.46" cy="529.86" r="10.50" fill="#F5FAD5"/>
<circle cx="839.60" cy="529.86" r="3.50" fill="#B9D9E9"/>
<circle cx="876.74" cy="529.86" r="3.50" fill="#B9D9E9"/>
<circle cx="913.88" cy="529.86" r="3.50" fill="#B9D9E9"/>
<circle cx="951.02" cy="529.86" r="9.50" fill="#E4F4F2"/>
<circle cx="988.16" cy="529.86" r="3.50" fill="#B9D9E9"/>
<circle cx="1025.30" cy="529.86" r="9.50" fill="#FFE89C"/>
<circle cx="1062.44" cy="529.86" r="9.50" fill="#E4F4F2"/>
<circle cx="1099.58" cy="529.86" r="5.50" fill="#D6ECF4"/>
<circle cx="1136.72" cy="529.86" r="11.50" fill="#D73027"/>
<circle cx="1173.86" cy="529.86" r="3.50" fill="#B9D9E9"/>
<circle cx="1211.00" cy="529.86" r="5.50" fill="#B9D9E9"/>
<circle cx="1248.14" cy="529.86" r="5.50" fill="#B9D9E9"/>
<circle cx="1285.28" cy="529.86" r="3.50" fill="#B9D9E9"/>
<circle cx="1322.42" cy="529.86" r="9.50" fill="#E4F4F2"/>
<circle cx="1359.56" cy="529.86" r="11.50" fill="#FFB774"/>
<circle cx="1396.70" cy="529.86" r="11.50" fill="#E65839"/>
<circle cx="1433.84" cy="529.86" r="11.50" fill="#FFB774"/>
<circle cx="1470.98" cy="529.86" r="11.50" fill="#FFFFBF"/>
<circle cx="1508.12" cy="529.86" r="11.50" fill="#FFF3AD"/>
<circle cx="1545.26" cy="529.86" r="9.50" fill="#FFE89C"/>
<circle cx="1582.40" cy="529.86" r="9.50" fill="#F5FAD5"/>
<circle cx="1619.54" cy="529.86" r="11.50" fill="#FFF3AD"/>
<circle cx="1656.68" cy="529.86" r="11.50" fill="#D73027"/>
<circle cx="1693.82" cy="529.86" r="12.50" fill="#D73027"/>
<circle cx="1730.96" cy="529.86" r="12.50" fill="#FD9860"/>
<circle cx="1768.10" cy="529.86" r="12.50" fill="#FFD689"/>
<circle cx="1805.24" cy="529.86" r="11.50" fill="#F3784C"/>
<circle cx="282.50" cy="569.03" r="9.50" fill="#7FACD1"/>
<circle cx="319.64" cy="569.03" r="9.50" fill="#7FACD1"/>
<circle cx="356.78" cy="569.03" r="9.50" fill="#7FACD1"/>
<circle cx="393.92" cy="569.03" r="9.50" fill="#E4F4F2"/>
<circle cx="431.06" cy="569.03" r="8.50" fill="#FFFFBF"/>
<circle cx="468.20" cy="569.03" r="9.50" fill="#E4F4F2"/>
<circle cx="505.34" cy="569.03" r="10.50" fill="#E4F4F2"/>
<circle cx="542.48" cy="569.03" r="10.50" fill="#FFFFBF"/>
<circle cx="579.62" cy="569.03" r="10.50" fill="#D6ECF4"/>
<circle cx="616.76" cy="569.03" r="9.50" fill="#FFF3AD"/>
<circle cx="653.90" cy="569.03" r="9.50" fill="#F5FAD5"/>
<circle cx="691.04" cy="569.03" r="9.50" fill="#FFE89C"/>
<circle cx="728.18" cy="569.03" r="10.50" fill="#FD9860"/>
<circle cx="765.32" cy="569.03" r="10.50" fill="#D6ECF4"/>
<circle cx="802.46" cy="569.03" r="10.50" fill="#D6ECF4"/>
<circle cx="839.60" cy="569.03" r="9.50" fill="#FFB774"/>
<circle cx="876.74" cy="569.03" r="9.50" fill="#F5FAD5"/>
<circle cx="913.88" cy="569.03" r="9.50" fill="#F5FAD5"/>
<circle cx="951.02" cy="569.03" r="11.50" fill="#FFE89C"/>
<circle cx="988.16" cy="569.03" r="9.50" fill="#FFE89C"/>
<circle cx="1025.30" cy="569.03" r="3.50" fill="#4575B4"/>
<circle cx="1062.44" cy="569.03" r="11.50" fill="#FFE89C"/>
<circle cx="1099.58" cy="569.03" r="7.50" fill="#FFFFBF"/>
<circle cx="1136.72" cy="569.03" r="3.50" fill="#4575B4"/>
<circle cx="1173.86" cy="569.03" r="9.50" fill="#F5FAD5"/>
<circle cx="1211.00" cy="569.03" r="9.50" fill="#FFE89C"/>
<circle cx="1248.14" cy="569.03" r="9.50" fill="#FFE89C"/>
<circle cx="1285.28" cy="569.03" r="9.50" fill="#D6ECF4"/>
<circle cx="1322.42" cy="569.03" r="11.50" fill="#FFB774"/>
<circle cx="1359.56" cy="569.03" r="10.50" fill="#F5FAD5"/>
<circle cx="1396.70" cy="569.03" r="10.50" fill="#FFD689"/>
<circle cx="1433.84" cy="569.03" r="10.50" fill="#F5FAD5"/>
<circle cx="1470.98" cy="569.03" r="11.50" fill="#F5FAD5"/>
<circle cx="1508.12" cy="569.03" r="11.50" fill="#FFF3AD"/>
<circle cx="1545.26" cy="569.03" r="10.50" fill="#FFB774"/>
<circle cx="1582.40" cy="569.03" r="10.50" fill="#F5FAD5"/>
<circle cx="1619.54" cy="569.03" r="11.50" fill="#FFF3AD"/>
<circle cx="1656.68" cy="569.03" r="11.50" fill="#D73027"/>
<circle cx="1693.82" cy="569.03" r="11.50" fill="#F3784C"/>
<circle cx="1730.96" cy="569.03" r="11.50" fill="#D73027"/>
<circle cx="1768.10" cy="569.03" r="11.50" fill="#E65839"/>
<circle cx="1805.24" cy="569.03" r="11.50" fill="#FFD689"/>
<circle cx="282.50" cy="608.20" r="13.50" fill="#FFE89C"/>
<circle cx="319.64" cy="608.20" r="13.50" fill="#FFE89C"/>
<circle cx="356.78" cy="608.20" r="12.50" fill="#F5FAD5"/>
<circle cx="393.92" cy="608.20" r="9.50" fill="#7FACD1"/>
<circle cx="431.06" cy="608.20" r="12.50" fill="#FFD689"/>
<circle cx="468.20" cy="608.20" r="10.50" fill="#9BC5DF"/>
<circle cx="505.34" cy="608.20" r="13.50" fill="#FFB774"/>
<circle cx="542.48" cy="608.20" r="13.50" fill="#E65839"/>
<circle cx="579.62" cy="608.20" r="13.50" fill="#E65839"/>
<circle cx="616.76" cy="608.20" r="8.50" fill="#9BC5DF"/>
<circle cx="653.90" cy="608.20" r="9.50" fill="#9BC5DF"/>
<circle cx="691.04" cy="608.20" r="9.50" fill="#9BC5DF"/>
<circle cx="728.18" cy="608.20" r="13.50" fill="#FFD689"/>
<circle cx="765.32" cy="608.20" r="13.50" fill="#E65839"/>
<circle cx="802.46" cy="608.20" r="13.50" fill="#FD9860"/>
<circle cx="839.60" cy="608.20" r="8.50" fill="#7FACD1"/>
<circle cx="876.74" cy="608.20" r="8.50" fill="#9BC5DF"/>
<circle cx="913.88" cy="608.20" r="8.50" fill="#9BC5DF"/>
<circle cx="951.02" cy="608.20" r="13.50" fill="#FFFFBF"/>
<circle cx="988.16" cy="608.20" r="8.50" fill="#9BC5DF"/>
<circle cx="1025.30" cy="608.20" r="11.50" fill="#FFE89C"/>
<circle cx="1062.44" cy="608.20" r="13.50" fill="#FFE89C"/>
<circle cx="1099.58" cy="608.20" r="9.50" fill="#D6ECF4"/>
<circle cx="1136.72" cy="608.20" r="11.50" fill="#FFD689"/>
<circle cx="1173.86" cy="608.20" r="9.50" fill="#7FACD1"/>
<circle cx="1211.00" cy="608.20" r="10.50" fill="#9BC5DF"/>
<circle cx="1248.14" cy="608.20" r="10.50" fill="#B9D9E9"/>
<circle cx="1285.28" cy="608.20" r="8.50" fill="#7FACD1"/>
<circle cx="1322.42" cy="608.20" r="12.50" fill="#F5FAD5"/>
<circle cx="1359.56" cy="608.20" r="12.50" fill="#FFF3AD"/>
<circle cx="1396.70" cy="608.20" r="13.50" fill="#FFF3AD"/>
<circle cx="1433.84" cy="608.20" r="13.50" fill="#FFE89C"/>
<circle cx="1470.98" cy="608.20" r="13.50" fill="#FFD689"/>
<circle cx="1508.12" cy="608.20" r="13.50" fill="#FFE89C"/>
<circle cx="1545.26" cy="608.20" r="12.50" fill="#FFF3AD"/>
<circle cx="1582.40" cy="608.20" r="12.50" fill="#FFF3AD"/>
<circle cx="1619.54" cy="608.20" r="13.50" fill="#FFB774"/>
<circle cx="1656.68" cy="608.20" r="13.50" fill="#FFD689"/>
<circle cx="1693.82" cy="608.20" r="13.50" fill="#FD9860"/>
<circle cx="1730.96" cy="608.20" r="13.50" fill="#FFD689"/>
<circle cx="1768.10" cy="608.20" r="13.50" fill="#FFE89C"/>
<circle cx="1805.24" cy="608.20" r="13.50" fill="#FFD689"/>
<circle cx="282.50" cy="647.37" r="11.50" fill="#FFF3AD"/>
<circle cx="319.64" cy="647.37" r="11.50" fill="#FFE89C"/>
<circle cx="356.78" cy="647.37" r="10.50" fill="#E4F4F2"/>
<circle cx="393.92" cy="647.37" r="9.50" fill="#D6ECF4"/>
<circle cx="431.06" cy="647.37" r="3.50" fill="#4575B4"/>
<circle cx="468.20" cy="647.37" r="9.50" fill="#9BC5DF"/>
<circle cx="505.34" cy="647.37" r="11.50" fill="#FFE89C"/>
<circle cx="542.48" cy="647.37" r="11.50" fill="#FFFFBF"/>
<circle cx="579.62" cy="647.37" r="11.50" fill="#FFF3AD"/>
<circle cx="616.76" cy="647.37" r="9.50" fill="#E4F4F2"/>
<circle cx="653.90" cy="647.37" r="9.50" fill="#E4F4F2"/>
<circle cx="691.04" cy="647.37" r="8.50" fill="#D6ECF4"/>
<circle cx="728.18" cy="647.37" r="11.50" fill="#FFFFBF"/>
<circle cx="765.32" cy="647.37" r="11.50" fill="#FFF3AD"/>
<circle cx="802.46" cy="647.37" r="11.50" fill="#FFF3AD"/>
<circle cx="839.60" cy="647.37" r="9.50" fill="#D6ECF4"/>
<circle cx="876.74" cy="647.37" r="8.50" fill="#D6ECF4"/>
<circle cx="913.88" cy="647.37" r="8.50" fill="#D6ECF4"/>
<circle cx="951.02" cy="647.37" r="11.50" fill="#D6ECF4"/>
<circle cx="988.16" cy="647.37" r="7.50" fill="#9BC5DF"/>
<circle cx="1025.30" cy="647.37" r="11.50" fill="#D73027"/>
<circle cx="1062.44" cy="647.37" r="11.50" fill="#FFFFBF"/>
<circle cx="1099.58" cy="647.37" r="8.50" fill="#F5FAD5"/>
<circle cx="1136.72" cy="647.37" r="3.50" fill="#4575B4"/>
<circle cx="1173.86" cy="647.37" r="8.50" fill="#B9D9E9"/>
<circle cx="1211.00" cy="647.37" r="8.50" fill="#E4F4F2"/>
<circle cx="1248.14" cy="647.37" r="9.50" fill="#E4F4F2"/>
<circle cx="1285.28" cy="647.37" r="8.50" fill="#B9D9E9"/>
<circle cx="1322.42" cy="647.37" r="11.50" fill="#FFF3AD"/>
<circle cx="1359.56" cy="647.37" r="11.50" fill="#FFF3AD"/>
<circle cx="1396.70" cy="647.37" r="11.50" fill="#FFE89C"/>
<circle cx="1433.84" cy="647.37" r="11.50" fill="#FFF3AD"/>
<circle cx="1470.98" cy="647.37" r="12.50" fill="#FFD689"/>
<circle cx="1508.12" cy="647.37" r="12.50" fill="#FFB774"/>
<circle cx="1545.26" cy="647.37" r="11.50" fill="#FFB774"/>
<circle cx="1582.40" cy="647.37" r="11.50" fill="#FFD689"/>
<circle cx="1619.54" cy="647.37" r="12.50" fill="#F3784C"/>
<circle cx="1656.68" cy="647.37" r="12.50" fill="#D73027"/>
<circle cx="1693.82" cy="647.37" r="12.50" fill="#FFD689"/>
<circle cx="1730.96" cy="647.37" r="12.50" fill="#FD9860"/>
<circle cx="1768.10" cy="647.37" r="12.50" fill="#FD9860"/>
<circle cx="1805.24" cy="647.37" r="11.50" fill="#FFD689"/>
<circle cx="282.50" cy="686.54" r="10.50" fill="#F5FAD5"/>
<circle cx="319.64" cy="686.54" r="10.50" fill="#F5FAD5"/>
<circle cx="356.78" cy="686.54" r="10.50" fill="#FFF3AD"/>
<circle cx="393.92" cy="686.54" r="10.50" fill="#D73027"/>
<circle cx="431.06" cy="686.54" r="9.50" fill="#E4F4F2"/>
<circle cx="468.20" cy="686.54" r="9.50" fill="#D6ECF4"/>
<circle cx="505.34" cy="686.54" r="11.50" fill="#E4F4F2"/>
<circle cx="542.48" cy="686.54" r="11.50" fill="#FFF3AD"/>
<circle cx="579.62" cy="686.54" r="11.50" fill="#F5FAD5"/>
<circle cx="616.76" cy="686.54" r="9.50" fill="#E4F4F2"/>
<circle cx="653.90" cy="686.54" r="9.50" fill="#E4F4F2"/>
<circle cx="691.04" cy="686.54" r="9.50" fill="#F5FAD5"/>
<circle cx="728.18" cy="686.54" r="11.50" fill="#D6ECF4"/>
<circle cx="765.32" cy="686.54" r="10.50" fill="#F5FAD5"/>
<circle cx="802.46" cy="686.54" r="11.50" fill="#E4F4F2"/>
<circle cx="839.60" cy="686.54" r="9.50" fill="#B9D9E9"/>
<circle cx="876.74" cy="686.54" r="9.50" fill="#D6ECF4"/>
<circle cx="913.88" cy="686.54" r="9.50" fill="#E4F4F2"/>
<circle cx="951.02" cy="686.54" r="11.50" fill="#FFF3AD"/>
<circle cx="988.16" cy="686.54" r="8.50" fill="#F5FAD5"/>
<circle cx="1025.30" cy="686.54" r="9.50" fill="#F5FAD5"/>
<circle cx="1062.44" cy="686.54" r="11.50" fill="#FFB774"/>
<circle cx="1099.58" cy="686.54" r="8.50" fill="#F5FAD5"/>
<circle cx="1136.72" cy="686.54" r="11.50" fill="#D73027"/>
<circle cx="1173.86" cy="686.54" r="9.50" fill="#B9D9E9"/>
<circle cx="1211.00" cy="686.54" r="8.50" fill="#7FACD1"/>
<circle cx="1248.14" cy="686.54" r="8.50" fill="#7FACD1"/>
<circle cx="1285.28" cy="686.54" r="9.50" fill="#9BC5DF"/>
<circle cx="1322.42" cy="686.54" r="11.50" fill="#F5FAD5"/>
<circle cx="1359.56" cy="686.54" r="11.50" fill="#FFE89C"/>
<circle cx="1396.70" cy="686.54" r="11.50" fill="#FFB774"/>
<circle cx="1433.84" cy="686.54" r="11.50" fill="#FD9860"/>
<circle cx="1470.98" cy="686.54" r="12.50" fill="#FFB774"/>
<circle cx="1508.12" cy="686.54" r="12.50" fill="#FFB774"/>
<circle cx="1545.26" cy="686.54" r="11.50" fill="#D6ECF4"/>
<circle cx="1582.40" cy="686.54" r="11.50" fill="#FFF3AD"/>
<circle cx="1619.54" cy="686.54" r="11.50" fill="#FFF3AD"/>
<circle cx="1656.68" cy="686.54" r="11.50" fill="#E4F4F2"/>
<circle cx="1693.82" cy="686.54" r="11.50" fill="#FFD689"/>
<circle cx="1730.96" cy="686.54" r="11.50" fill="#FFB774"/>
<circle cx="1768.10" cy="686.54" r="12.50" fill="#F3784C"/>
<circle cx="1805.24" cy="686.54" r="12.50" fill="#E65839"/>
<circle cx="282.50" cy="725.71" r="11.50" fill="#FFE89C"/>
<circle cx="319.64" cy="725.71" r="11.50" fill="#FFB774"/>
<circle cx="356.78" cy="725.71" r="9.50" fill="#D6ECF4"/>
<circle cx="393.92" cy="725.71" r="9.50" fill="#E4F4F2"/>
<circle cx="431.06" cy="725.71" r="3.50" fill="#4575B4"/>
<circle cx="468.20" cy="725.71" r="9.50" fill="#B9D9E9"/>
<circle cx="505.34" cy="725.71" r="9.50" fill="#B9D9E9"/>
<circle cx="542.48" cy="725.71" r="9.50" fill="#D6ECF4"/>
<circle cx="579.62" cy="725.71" r="10.50" fill="#D6ECF4"/>
<circle cx="616.76" cy="725.71" r="9.50" fill="#FFFFBF"/>
<circle cx="653.90" cy="725.71" r="9.50" fill="#FFFFBF"/>
<circle cx="691.04" cy="725.71" r="9.50" fill="#F5FAD5"/>
<circle cx="728.18" cy="725.71" r="9.50" fill="#B9D9E9"/>
<circle cx="765.32" cy="725.71" r="9.50" fill="#9BC5DF"/>
<circle cx="802.46" cy="725.71" r="9.50" fill="#9BC5DF"/>
<circle cx="839.60" cy="725.71" r="8.50" fill="#E4F4F2"/>
<circle cx="876.74" cy="725.71" r="8.50" fill="#D6ECF4"/>
<circle cx="913.88" cy="725.71" r="8.50" fill="#D6ECF4"/>
<circle cx="951.02" cy="725.71" r="10.50" fill="#FFF3AD"/>
<circle cx="988.16" cy="725.71" r="9.50" fill="#FFB774"/>
<circle cx="1025.30" cy="725.71" r="3.50" fill="#4575B4"/>
<circle cx="1062.44" cy="725.71" r="10.50" fill="#FFF3AD"/>
<circle cx="1099.58" cy="725.71" r="8.50" fill="#F5FAD5"/>
<circle cx="1136.72" cy="725.71" r="9.50" fill="#FD9860"/>
<circle cx="1173.86" cy="725.71" r="9.50" fill="#D6ECF4"/>
<circle cx="1211.00" cy="725.71" r="9.50" fill="#FFF3AD"/>
<circle cx="1248.14" cy="725.71" r="9.50" fill="#F5FAD5"/>
<circle cx="1285.28" cy="725.71" r="9.50" fill="#F5FAD5"/>
<circle cx="1322.42" cy="725.71" r="11.50" fill="#FFE89C"/>
<circle cx="1359.56" cy="725.71" r="11.50" fill="#FFE89C"/>
<circle cx="1396.70" cy="725.71" r="11.50" fill="#FFD689"/>
<circle cx="1433.84" cy="725.71" r="11.50" fill="#FFD689"/>
<circle cx="1470.98" cy="725.71" r="12.50" fill="#E65839"/>
<circle cx="1508.12" cy="725.71" r="12.50" fill="#D73027"/>
<circle cx="1545.26" cy="725.71" r="10.50" fill="#FFE89C"/>
<circle cx="1582.40" cy="725.71" r="10.50" fill="#FFFFBF"/>
<circle cx="1619.54" cy="725.71" r="11.50" fill="#FFF3AD"/>
<circle cx="1656.68" cy="725.71" r="11.50" fill="#FFD689"/>
<circle cx="1693.82" cy="725.71" r="11.50" fill="#FFE89C"/>
<circle cx="1730.96" cy="725.71" r="11.50" fill="#FD9860"/>
<circle cx="1768.10" cy="725.71" r="12.50" fill="#E65839"/>
<circle cx="1805.24" cy="725.71" r="11.50" fill="#FD9860"/>
<circle cx="282.50" cy="764.88" r="3.50" fill="#9BC5DF"/>
<circle cx="319.64" cy="764.88" r="3.50" fill="#9BC5DF"/>
<circle cx="356.78" cy="764.88" r="6.50" fill="#F5FAD5"/>
<circle cx="393.92" cy="764.88" r="6.50" fill="#FFD689"/>
<circle cx="431.06" cy="764.88" r="3.50" fill="#D6ECF4"/>
<circle cx="468.20" cy="764.88" r="8.50" fill="#FFB774"/>
<circle cx="505.34" cy="764.88" r="6.50" fill="#B9D9E9"/>
<circle cx="542.48" cy="764.88" r="5.50" fill="#D6ECF4"/>
<circle cx="579.62" cy="764.88" r="5.50" fill="#D6ECF4"/>
<circle cx="616.76" cy="764.88" r="6.50" fill="#FFF3AD"/>
<circle cx="653.90" cy="764.88" r="6.50" fill="#FFE89C"/>
<circle cx="691.04" cy="764.88" r="6.50" fill="#FFE89C"/>
<circle cx="728.18" cy="764.88" r="4.50" fill="#9BC5DF"/>
<circle cx="765.32" cy="764.88" r="4.50" fill="#B9D9E9"/>
<circle cx="802.46" cy="764.88" r="4.50" fill="#B9D9E9"/>
<circle cx="839.60" cy="764.88" r="5.50" fill="#E4F4F2"/>
<circle cx="876.74" cy="764.88" r="5.50" fill="#E4F4F2"/>
<circle cx="913.88" cy="764.88" r="5.50" fill="#F5FAD5"/>
<circle cx="951.02" cy="764.88" r="8.50" fill="#FFF3AD"/>
<circle cx="988.16" cy="764.88" r="3.50" fill="#E4F4F2"/>
<circle cx="1025.30" cy="764.88" r="3.50" fill="#D6ECF4"/>
<circle cx="1062.44" cy="764.88" r="8.50" fill="#FFFFBF"/>
<circle cx="1099.58" cy="764.88" r="4.50" fill="#E4F4F2"/>
<circle cx="1136.72" cy="764.88" r="3.50" fill="#E4F4F2"/>
<circle cx="1173.86" cy="764.88" r="4.50" fill="#B9D9E9"/>
<circle cx="1211.00" cy="764.88" r="3.50" fill="#B9D9E9"/>
<circle cx="1248.14" cy="764.88" r="3.50" fill="#B9D9E9"/>
<circle cx="1285.28" cy="764.88" r="4.50" fill="#D6ECF4"/>
<circle cx="1322.42" cy="764.88" r="7.50" fill="#FFFFBF"/>
<circle cx="1359.56" cy="764.88" r="9.50" fill="#FFB774"/>
<circle cx="1396.70" cy="764.88" r="10.50" fill="#F3784C"/>
<circle cx="1433.84" cy="764.88" r="9.50" fill="#F3784C"/>
<circle cx="1470.98" cy="764.88" r="9.50" fill="#E65839"/>
<circle cx="1508.12" cy="764.88" r="10.50" fill="#FD9860"/>
<circle cx="1545.26" cy="764.88" r="6.50" fill="#F5FAD5"/>
<circle cx="1582.40" cy="764.88" r="6.50" fill="#F5FAD5"/>
<circle cx="1619.54" cy="764.88" r="10.50" fill="#D73027"/>
<circle cx="1656.68" cy="764.88" r="10.50" fill="#D73027"/>
<circle cx="1693.82" cy="764.88" r="9.50" fill="#FFB774"/>
<circle cx="1730.96" cy="764.88" r="9.50" fill="#E65839"/>
<circle cx="1768.10" cy="764.88" r="9.50" fill="#FFB774"/>
<circle cx="1805.24" cy="764.88" r="9.50" fill="#FFF3AD"/>
<circle cx="282.50" cy="804.05" r="11.50" fill="#D73027"/>
<circle cx="319.64" cy="804.05" r="11.50" fill="#D73027"/>
<circle cx="356.78" cy="804.05" r="6.50" fill="#D6ECF4"/>
<circle cx="393.92" cy="804.05" r="6.50" fill="#F5FAD5"/>
<circle cx="431.06" cy="804.05" r="3.50" fill="#B9D9E9"/>
<circle cx="468.20" cy="804.05" r="7.50" fill="#FFFFBF"/>
<circle cx="505.34" cy="804.05" r="6.50" fill="#E4F4F2"/>
<circle cx="542.48" cy="804.05" r="7.50" fill="#D6ECF4"/>
<circle cx="579.62" cy="804.05" r="6.50" fill="#D6ECF4"/>
<circle cx="616.76" cy="804.05" r="3.50" fill="#B9D9E9"/>
<circle cx="653.90" cy="804.05" r="3.50" fill="#B9D9E9"/>
<circle cx="691.04" cy="804.05" r="3.50" fill="#B9D9E9"/>
<circle cx="728.18" cy="804.05" r="7.50" fill="#E4F4F2"/>
<circle cx="765.32" cy="804.05" r="7.50" fill="#E4F4F2"/>
<circle cx="802.46" cy="804.05" r="7.50" fill="#E4F4F2"/>
<circle cx="839.60" cy="804.05" r="5.50" fill="#F5FAD5"/>
<circle cx="876.74" cy="804.05" r="6.50" fill="#F5FAD5"/>
<circle cx="913.88" cy="804.05" r="6.50" fill="#E4F4F2"/>
<circle cx="951.02" cy="804.05" r="7.50" fill="#D6ECF4"/>
<circle cx="988.16" cy="804.05" r="4.50" fill="#E4F4F2"/>
<circle cx="1025.30" cy="804.05" r="3.50" fill="#B9D9E9"/>
<circle cx="1062.44" cy="804.05" r="8.50" fill="#F5FAD5"/>
<circle cx="1099.58" cy="804.05" r="4.50" fill="#E4F4F2"/>
<circle cx="1136.72" cy="804.05" r="3.50" fill="#D6ECF4"/>
<circle cx="1173.86" cy="804.05" r="7.50" fill="#FFF3AD"/>
<circle cx="1211.00" cy="804.05" r="3.50" fill="#B9D9E9"/>
<circle cx="1248.14" cy="804.05" r="3.50" fill="#B9D9E9"/>
<circle cx="1285.28" cy="804.05" r="7.50" fill="#FFF3AD"/>
<circle cx="1322.42" cy="804.05" r="9.50" fill="#F5FAD5"/>
<circle cx="1359.56" cy="804.05" r="9.50" fill="#F3784C"/>
<circle cx="1396.70" cy="804.05" r="8.50" fill="#F5FAD5"/>
<circle cx="1433.84" cy="804.05" r="10.50" fill="#FFB774"/>
<circle cx="1470.98" cy="804.05" r="10.50" fill="#FFE89C"/>
<circle cx="1508.12" cy="804.05" r="9.50" fill="#FFD689"/>
<circle cx="1545.26" cy="804.05" r="8.50" fill="#FFE89C"/>
<circle cx="1582.40" cy="804.05" r="9.50" fill="#FFFFBF"/>
<circle cx="1619.54" cy="804.05" r="10.50" fill="#FFD689"/>
<circle cx="1656.68" cy="804.05" r="10.50" fill="#FD9860"/>
<circle cx="1693.82" cy="804.05" r="10.50" fill="#FFB774"/>
<circle cx="1730.96" cy="804.05" r="9.50" fill="#FFD689"/>
<circle cx="1768.10" cy="804.05" r="10.50" fill="#E65839"/>
<circle cx="1805.24" cy="804.05" r="10.50" fill="#D73027"/>
<circle cx="282.50" cy="843.22" r="12.50" fill="#B9D9E9"/>
<circle cx="319.64" cy="843.22" r="12.50" fill="#B9D9E9"/>
<circle cx="356.78" cy="843.22" r="12.50" fill="#B9D9E9"/>
<circle cx="393.92" cy="843.22" r="11.50" fill="#D6ECF4"/>
<circle cx="431.06" cy="843.22" r="11.50" fill="#D6ECF4"/>
<circle cx="468.20" cy="843.22" r="12.50" fill="#E4F4F2"/>
<circle cx="505.34" cy="843.22" r="13.50" fill="#F5FAD5"/>
<circle cx="542.48" cy="843.22" r="13.50" fill="#FFF3AD"/>
<circle cx="579.62" cy="843.22" r="13.50" fill="#E4F4F2"/>
<circle cx="616.76" cy="843.22" r="12.50" fill="#FFFFBF"/>
<circle cx="653.90" cy="843.22" r="12.50" fill="#E4F4F2"/>
<circle cx="691.04" cy="843.22" r="12.50" fill="#FFE89C"/>
<circle cx="728.18" cy="843.22" r="13.50" fill="#D6ECF4"/>
<circle cx="765.32" cy="843.22" r="13.50" fill="#E4F4F2"/>
<circle cx="802.46" cy="843.22" r="13.50" fill="#F5FAD5"/>
<circle cx="839.60" cy="843.22" r="12.50" fill="#E4F4F2"/>
<circle cx="876.74" cy="843.22" r="12.50" fill="#F5FAD5"/>
<circle cx="913.88" cy="843.22" r="12.50" fill="#F5FAD5"/>
<circle cx="951.02" cy="843.22" r="12.50" fill="#D6ECF4"/>
<circle cx="988.16" cy="843.22" r="11.50" fill="#D6ECF4"/>
<circle cx="1025.30" cy="843.22" r="9.50" fill="#9BC5DF"/>
<circle cx="1062.44" cy="843.22" r="12.50" fill="#E4F4F2"/>
<circle cx="1099.58" cy="843.22" r="11.50" fill="#E4F4F2"/>
<circle cx="1136.72" cy="843.22" r="11.50" fill="#E4F4F2"/>
<circle cx="1173.86" cy="843.22" r="12.50" fill="#FFF3AD"/>
<circle cx="1211.00" cy="843.22" r="11.50" fill="#B9D9E9"/>
<circle cx="1248.14" cy="843.22" r="12.50" fill="#E4F4F2"/>
<circle cx="1285.28" cy="843.22" r="12.50" fill="#D6ECF4"/>
<circle cx="1322.42" cy="843.22" r="13.50" fill="#F5FAD5"/>
<circle cx="1359.56" cy="843.22" r="13.50" fill="#FFE89C"/>
<circle cx="1396.70" cy="843.22" r="13.50" fill="#FFF3AD"/>
<circle cx="1433.84" cy="843.22" r="13.50" fill="#FFF3AD"/>
<circle cx="1470.98" cy="843.22" r="13.50" fill="#F3784C"/>
<circle cx="1508.12" cy="843.22" r="14.50" fill="#E65839"/>
<circle cx="1545.26" cy="843.22" r="13.50" fill="#FFE89C"/>
<circle cx="1582.40" cy="843.22" r="13.50" fill="#FFD689"/>
<circle cx="1619.54" cy="843.22" r="14.50" fill="#F3784C"/>
<circle cx="1656.68" cy="843.22" r="14.50" fill="#FD9860"/>
<circle cx="1693.82" cy="843.22" r="14.50" fill="#FD9860"/>
<circle cx="1730.96" cy="843.22" r="14.50" fill="#F3784C"/>
<circle cx="1768.10" cy="843.22" r="14.50" fill="#D73027"/>
<circle cx="1805.24" cy="843.22" r="14.50" fill="#D73027"/>
<circle cx="282.50" cy="882.39" r="9.50" fill="#6490C3"/>
<circle cx="319.64" cy="882.39" r="9.50" fill="#7FACD1"/>
<circle cx="356.78" cy="882.39" r="9.50" fill="#7FACD1"/>
<circle cx="393.92" cy="882.39" r="10.50" fill="#E4F4F2"/>
<circle cx="431.06" cy="882.39" r="3.50" fill="#4575B4"/>
<circle cx="468.20" cy="882.39" r="9.50" fill="#E4F4F2"/>
<circle cx="505.34" cy="882.39" r="10.50" fill="#E4F4F2"/>
<circle cx="542.48" cy="882.39" r="10.50" fill="#E4F4F2"/>
<circle cx="579.62" cy="882.39" r="10.50" fill="#FFF3AD"/>
<circle cx="616.76" cy="882.39" r="9.50" fill="#E4F4F2"/>
<circle cx="653.90" cy="882.39" r="9.50" fill="#FFE89C"/>
<circle cx="691.04" cy="882.39" r="9.50" fill="#F5FAD5"/>
<circle cx="728.18" cy="882.39" r="11.50" fill="#F5FAD5"/>
<circle cx="765.32" cy="882.39" r="11.50" fill="#FFD689"/>
<circle cx="802.46" cy="882.39" r="11.50" fill="#E4F4F2"/>
<circle cx="839.60" cy="882.39" r="10.50" fill="#FFE89C"/>
<circle cx="876.74" cy="882.39" r="10.50" fill="#FFF3AD"/>
<circle cx="913.88" cy="882.39" r="10.50" fill="#F3784C"/>
<circle cx="951.02" cy="882.39" r="11.50" fill="#E4F4F2"/>
<circle cx="988.16" cy="882.39" r="9.50" fill="#FFB774"/>
<circle cx="1025.30" cy="882.39" r="9.50" fill="#FFFFBF"/>
<circle cx="1062.44" cy="882.39" r="11.50" fill="#FFE89C"/>
<circle cx="1099.58" cy="882.39" r="9.50" fill="#F5FAD5"/>
<circle cx="1136.72" cy="882.39" r="8.50" fill="#F5FAD5"/>
<circle cx="1173.86" cy="882.39" r="10.50" fill="#F5FAD5"/>
<circle cx="1211.00" cy="882.39" r="10.50" fill="#FFE89C"/>
<circle cx="1248.14" cy="882.39" r="10.50" fill="#FFFFBF"/>
<circle cx="1285.28" cy="882.39" r="10.50" fill="#FFE89C"/>
<circle cx="1322.42" cy="882.39" r="11.50" fill="#FFE89C"/>
<circle cx="1359.56" cy="882.39" r="10.50" fill="#FFF3AD"/>
<circle cx="1396.70" cy="882.39" r="10.50" fill="#B9D9E9"/>
<circle cx="1433.84" cy="882.39" r="10.50" fill="#FFF3AD"/>
<circle cx="1470.98" cy="882.39" r="11.50" fill="#FFD689"/>
<circle cx="1508.12" cy="882.39" r="11.50" fill="#FFF3AD"/>
<circle cx="1545.26" cy="882.39" r="9.50" fill="#B9D9E9"/>
<circle cx="1582.40" cy="882.39" r="9.50" fill="#F5FAD5"/>
<circle cx="1619.54" cy="882.39" r="11.50" fill="#FFD689"/>
<circle cx="1656.68" cy="882.39" r="11.50" fill="#E4F4F2"/>
<circle cx="1693.82" cy="882.39" r="11.50" fill="#D73027"/>
<circle cx="1730.96" cy="882.39" r="11.50" fill="#D73027"/>
<circle cx="1768.10" cy="882.39" r="12.50" fill="#D73027"/>
<circle cx="1805.24" cy="882.39" r="11.50" fill="#FFB774"/>
<circle cx="282.50" cy="921.56" r="11.50" fill="#7FACD1"/>
<circle cx="319.64" cy="921.56" r="11.50" fill="#7FACD1"/>
<circle cx="356.78" cy="921.56" r="11.50" fill="#9BC5DF"/>
<circle cx="393.92" cy="921.56" r="12.50" fill="#B9D9E9"/>
<circle cx="431.06" cy="921.56" r="3.50" fill="#4575B4"/>
<circle cx="468.20" cy="921.56" r="12.50" fill="#9BC5DF"/>
<circle cx="505.34" cy="921.56" r="13.50" fill="#E4F4F2"/>
<circle cx="542.48" cy="921.56" r="13.50" fill="#F5FAD5"/>
<circle cx="579.62" cy="921.56" r="13.50" fill="#E4F4F2"/>
<circle cx="616.76" cy="921.56" r="13.50" fill="#FFD689"/>
<circle cx="653.90" cy="921.56" r="13.50" fill="#FD9860"/>
<circle cx="691.04" cy="921.56" r="13.50" fill="#F3784C"/>
<circle cx="728.18" cy="921.56" r="13.50" fill="#E4F4F2"/>
<circle cx="765.32" cy="921.56" r="13.50" fill="#F5FAD5"/>
<circle cx="802.46" cy="921.56" r="13.50" fill="#E4F4F2"/>
<circle cx="839.60" cy="921.56" r="13.50" fill="#FFE89C"/>
<circle cx="876.74" cy="921.56" r="13.50" fill="#FFE89C"/>
<circle cx="913.88" cy="921.56" r="13.50" fill="#FFD689"/>
<circle cx="951.02" cy="921.56" r="12.50" fill="#D6ECF4"/>
<circle cx="988.16" cy="921.56" r="12.50" fill="#FFE89C"/>
<circle cx="1025.30" cy="921.56" r="3.50" fill="#4575B4"/>
<circle cx="1062.44" cy="921.56" r="12.50" fill="#E4F4F2"/>
<circle cx="1099.58" cy="921.56" r="13.50" fill="#FFD689"/>
<circle cx="1136.72" cy="921.56" r="3.50" fill="#4575B4"/>
<circle cx="1173.86" cy="921.56" r="13.50" fill="#FFFFBF"/>
<circle cx="1211.00" cy="921.56" r="13.50" fill="#E4F4F2"/>
<circle cx="1248.14" cy="921.56" r="13.50" fill="#FFFFBF"/>
<circle cx="1285.28" cy="921.56" r="13.50" fill="#E4F4F2"/>
<circle cx="1322.42" cy="921.56" r="13.50" fill="#E4F4F2"/>
<circle cx="1359.56" cy="921.56" r="14.50" fill="#FFB774"/>
<circle cx="1396.70" cy="921.56" r="14.50" fill="#FFB774"/>
<circle cx="1433.84" cy="921.56" r="14.50" fill="#FD9860"/>
<circle cx="1470.98" cy="921.56" r="14.50" fill="#E65839"/>
<circle cx="1508.12" cy="921.56" r="14.50" fill="#FD9860"/>
<circle cx="1545.26" cy="921.56" r="14.50" fill="#FFD689"/>
<circle cx="1582.40" cy="921.56" r="13.50" fill="#FFE89C"/>
<circle cx="1619.54" cy="921.56" r="14.50" fill="#FFB774"/>
<circle cx="1656.68" cy="921.56" r="14.50" fill="#FFB774"/>
<circle cx="1693.82" cy="921.56" r="14.50" fill="#FFB774"/>
<circle cx="1730.96" cy="921.56" r="14.50" fill="#FFD689"/>
<circle cx="1768.10" cy="921.56" r="14.50" fill="#FFE89C"/>
<circle cx="1805.24" cy="921.56" r="14.50" fill="#FFB774"/>
<circle cx="282.50" cy="960.73" r="9.50" fill="#9BC5DF"/>
<circle cx="319.64" cy="960.73" r="9.50" fill="#9BC5DF"/>
<circle cx="356.78" cy="960.73" r="6.50" fill="#6490C3"/>
<circle cx="393.92" cy="960.73" r="5.50" fill="#6490C3"/>
<circle cx="431.06" cy="960.73" r="3.50" fill="#6490C3"/>
<circle cx="468.20" cy="960.73" r="5.50" fill="#6490C3"/>
<circle cx="505.34" cy="960.73" r="12.50" fill="#F5FAD5"/>
<circle cx="542.48" cy="960.73" r="12.50" fill="#F5FAD5"/>
<circle cx="579.62" cy="960.73" r="12.50" fill="#F5FAD5"/>
<circle cx="616.76" cy="960.73" r="10.50" fill="#D6ECF4"/>
<circle cx="653.90" cy="960.73" r="11.50" fill="#D6ECF4"/>
<circle cx="691.04" cy="960.73" r="10.50" fill="#D6ECF4"/>
<circle cx="728.18" cy="960.73" r="13.50" fill="#FFF3AD"/>
<circle cx="765.32" cy="960.73" r="13.50" fill="#FFE89C"/>
<circle cx="802.46" cy="960.73" r="13.50" fill="#FFD689"/>
<circle cx="839.60" cy="960.73" r="12.50" fill="#FFF3AD"/>
<circle cx="876.74" cy="960.73" r="12.50" fill="#FFE89C"/>
<circle cx="913.88" cy="960.73" r="12.50" fill="#FFF3AD"/>
<circle cx="951.02" cy="960.73" r="13.50" fill="#E4F4F2"/>
<circle cx="988.16" cy="960.73" r="9.50" fill="#B9D9E9"/>
<circle cx="1025.30" cy="960.73" r="3.50" fill="#4575B4"/>
<circle cx="1062.44" cy="960.73" r="13.50" fill="#FFFFBF"/>
<circle cx="1099.58" cy="960.73" r="11.50" fill="#F5FAD5"/>
<circle cx="1136.72" cy="960.73" r="11.50" fill="#FFFFBF"/>
<circle cx="1173.86" cy="960.73" r="13.50" fill="#FFE89C"/>
<circle cx="1211.00" cy="960.73" r="14.50" fill="#D73027"/>
<circle cx="1248.14" cy="960.73" r="14.50" fill="#D73027"/>
<circle cx="1285.28" cy="960.73" r="13.50" fill="#FFE89C"/>
<circle cx="1322.42" cy="960.73" r="13.50" fill="#F5FAD5"/>
<circle cx="1359.56" cy="960.73" r="13.50" fill="#FFD689"/>
<circle cx="1396.70" cy="960.73" r="13.50" fill="#FFF3AD"/>
<circle cx="1433.84" cy="960.73" r="13.50" fill="#FFF3AD"/>
<circle cx="1470.98" cy="960.73" r="13.50" fill="#FFFFBF"/>
<circle cx="1508.12" cy="960.73" r="13.50" fill="#FFF3AD"/>
<circle cx="1545.26" cy="960.73" r="14.50" fill="#D73027"/>
<circle cx="1582.40" cy="960.73" r="14.50" fill="#D73027"/>
<circle cx="1619.54" cy="960.73" r="13.50" fill="#FFD689"/>
<circle cx="1656.68" cy="960.73" r="13.50" fill="#FFE89C"/>
<circle cx="1693.82" cy="960.73" r="14.50" fill="#FFD689"/>
<circle cx="1730.96" cy="960.73" r="14.50" fill="#FFB774"/>
<circle cx="1768.10" cy="960.73" r="13.50" fill="#FFD689"/>
<circle cx="1805.24" cy="960.73" r="13.50" fill="#FFE89C"/>
<circle cx="282.50" cy="999.90" r="11.50" fill="#FFB774"/>
<circle cx="319.64" cy="999.90" r="11.50" fill="#FFB774"/>
<circle cx="356.78" cy="999.90" r="10.50" fill="#FFF3AD"/>
<circle cx="393.92" cy="999.90" r="8.50" fill="#D6ECF4"/>
<circle cx="431.06" cy="999.90" r="11.50" fill="#D73027"/>
<circle cx="468.20" cy="999.90" r="8.50" fill="#9BC5DF"/>
<circle cx="505.34" cy="999.90" r="11.50" fill="#FFE89C"/>
<circle cx="542.48" cy="999.90" r="12.50" fill="#FFB774"/>
<circle cx="579.62" cy="999.90" r="12.50" fill="#FFE89C"/>
<circle cx="616.76" cy="999.90" r="8.50" fill="#B9D9E9"/>
<circle cx="653.90" cy="999.90" r="9.50" fill="#B9D9E9"/>
<circle cx="691.04" cy="999.90" r="8.50" fill="#D6ECF4"/>
<circle cx="728.18" cy="999.90" r="12.50" fill="#FFF3AD"/>
<circle cx="765.32" cy="999.90" r="12.50" fill="#FFE89C"/>
<circle cx="802.46" cy="999.90" r="12.50" fill="#FFD689"/>
<circle cx="839.60" cy="999.90" r="9.50" fill="#9BC5DF"/>
<circle cx="876.74" cy="999.90" r="8.50" fill="#B9D9E9"/>
<circle cx="913.88" cy="999.90" r="8.50" fill="#9BC5DF"/>
<circle cx="951.02" cy="999.90" r="11.50" fill="#F5FAD5"/>
<circle cx="988.16" cy="999.90" r="9.50" fill="#E4F4F2"/>
<circle cx="1025.30" cy="999.90" r="3.50" fill="#4575B4"/>
<circle cx="1062.44" cy="999.90" r="12.50" fill="#FFB774"/>
<circle cx="1099.58" cy="999.90" r="9.50" fill="#FFE89C"/>
<circle cx="1136.72" cy="999.90" r="3.50" fill="#4575B4"/>
<circle cx="1173.86" cy="999.90" r="9.50" fill="#D6ECF4"/>
<circle cx="1211.00" cy="999.90" r="9.50" fill="#B9D9E9"/>
<circle cx="1248.14" cy="999.90" r="9.50" fill="#D6ECF4"/>
<circle cx="1285.28" cy="999.90" r="9.50" fill="#D6ECF4"/>
<circle cx="1322.42" cy="999.90" r="12.50" fill="#FFFFBF"/>
<circle cx="1359.56" cy="999.90" r="11.50" fill="#FFFFBF"/>
<circle cx="1396.70" cy="999.90" r="11.50" fill="#F5FAD5"/>
<circle cx="1433.84" cy="999.90" r="11.50" fill="#FFF3AD"/>
<circle cx="1470.98" cy="999.90" r="12.50" fill="#F3784C"/>
<circle cx="1508.12" cy="999.90" r="12.50" fill="#F3784C"/>
<circle cx="1545.26" cy="999.90" r="11.50" fill="#FD9860"/>
<circle cx="1582.40" cy="999.90" r="12.50" fill="#FFD689"/>
<circle cx="1619.54" cy="999.90" r="12.50" fill="#FFE89C"/>
<circle cx="1656.68" cy="999.90" r="11.50" fill="#FFB774"/>
<circle cx="1693.82" cy="999.90" r="12.50" fill="#FFD689"/>
<circle cx="1730.96" cy="999.90" r="11.50" fill="#FFE89C"/>
<circle cx="1768.10" cy="999.90" r="12.50" fill="#FFE89C"/>
<circle cx="1805.24" cy="999.90" r="12.50" fill="#FD9860"/>
<circle cx="282.50" cy="1039.07" r="3.50" fill="#D6ECF4"/>
<circle cx="319.64" cy="1039.07" r="3.50" fill="#D6ECF4"/>
<circle cx="356.78" cy="1039.07" r="5.50" fill="#D6ECF4"/>
<circle cx="393.92" cy="1039.07" r="3.50" fill="#D6ECF4"/>
<circle cx="431.06" cy="1039.07" r="3.50" fill="#E4F4F2"/>
<circle cx="468.20" cy="1039.07" r="6.50" fill="#D6ECF4"/>
<circle cx="505.34" cy="1039.07" r="7.50" fill="#D6ECF4"/>
<circle cx="542.48" cy="1039.07" r="7.50" fill="#E4F4F2"/>
<circle cx="579.62" cy="1039.07" r="7.50" fill="#E4F4F2"/>
<circle cx="616.76" cy="1039.07" r="6.50" fill="#D6ECF4"/>
<circle cx="653.90" cy="1039.07" r="5.50" fill="#D6ECF4"/>
<circle cx="691.04" cy="1039.07" r="5.50" fill="#E4F4F2"/>
<circle cx="728.18" cy="1039.07" r="7.50" fill="#E4F4F2"/>
<circle cx="765.32" cy="1039.07" r="7.50" fill="#E4F4F2"/>
<circle cx="802.46" cy="1039.07" r="7.50" fill="#E4F4F2"/>
<circle cx="839.60" cy="1039.07" r="5.50" fill="#D6ECF4"/>
<circle cx="876.74" cy="1039.07" r="5.50" fill="#E4F4F2"/>
<circle cx="913.88" cy="1039.07" r="5.50" fill="#E4F4F2"/>
<circle cx="951.02" cy="1039.07" r="8.50" fill="#F5FAD5"/>
<circle cx="988.16" cy="1039.07" r="3.50" fill="#E4F4F2"/>
<circle cx="1025.30" cy="1039.07" r="3.50" fill="#E4F4F2"/>
<circle cx="1062.44" cy="1039.07" r="9.50" fill="#E4F4F2"/>
<circle cx="1099.58" cy="1039.07" r="3.50" fill="#E4F4F2"/>
<circle cx="1136.72" cy="1039.07" r="3.50" fill="#E4F4F2"/>
<circle cx="1173.86" cy="1039.07" r="14.50" fill="#D73027"/>
<circle cx="1211.00" cy="1039.07" r="13.50" fill="#F3784C"/>
<circle cx="1248.14" cy="1039.07" r="13.50" fill="#FFB774"/>
<circle cx="1285.28" cy="1039.07" r="14.50" fill="#D73027"/>
<circle cx="1322.42" cy="1039.07" r="12.50" fill="#FFFFBF"/>
<circle cx="1359.56" cy="1039.07" r="10.50" fill="#F5FAD5"/>
<circle cx="1396.70" cy="1039.07" r="11.50" fill="#F5FAD5"/>
<circle cx="1433.84" cy="1039.07" r="10.50" fill="#FFFFBF"/>
<circle cx="1470.98" cy="1039.07" r="13.50" fill="#FFB774"/>
<circle cx="1508.12" cy="1039.07" r="13.50" fill="#FFB774"/>
<circle cx="1545.26" cy="1039.07" r="10.50" fill="#FFFFBF"/>
<circle cx="1582.40" cy="1039.07" r="10.50" fill="#FFF3AD"/>
<circle cx="1619.54" cy="1039.07" r="13.50" fill="#E65839"/>
<circle cx="1656.68" cy="1039.07" r="13.50" fill="#FFB774"/>
<circle cx="1693.82" cy="1039.07" r="12.50" fill="#FFE89C"/>
<circle cx="1730.96" cy="1039.07" r="12.50" fill="#FFD689"/>
<circle cx="1768.10" cy="1039.07" r="14.50" fill="#D73027"/>
<circle cx="1805.24" cy="1039.07" r="14.50" fill="#D73027"/>
<circle cx="282.50" cy="1078.24" r="10.50" fill="#B9D9E9"/>
<circle cx="319.64" cy="1078.24" r="10.50" fill="#D6ECF4"/>
<circle cx="356.78" cy="1078.24" r="10.50" fill="#E4F4F2"/>
<circle cx="393.92" cy="1078.24" r="11.50" fill="#FFB774"/>
<circle cx="431.06" cy="1078.24" r="3.50" fill="#4575B4"/>
<circle cx="468.20" cy="1078.24" r="12.50" fill="#FFF3AD"/>
<circle cx="505.34" cy="1078.24" r="12.50" fill="#F5FAD5"/>
<circle cx="542.48" cy="1078.24" r="12.50" fill="#FFFFBF"/>
<circle cx="579.62" cy="1078.24" r="12.50" fill="#F5FAD5"/>
<circle cx="616.76" cy="1078.24" r="12.50" fill="#F3784C"/>
<circle cx="653.90" cy="1078.24" r="12.50" fill="#FFB774"/>
<circle cx="691.04" cy="1078.24" r="12.50" fill="#F3784C"/>
<circle cx="728.18" cy="1078.24" r="12.50" fill="#B9D9E9"/>
<circle cx="765.32" cy="1078.24" r="11.50" fill="#E4F4F2"/>
<circle cx="802.46" cy="1078.24" r="11.50" fill="#B9D9E9"/>
<circle cx="839.60" cy="1078.24" r="11.50" fill="#E4F4F2"/>
<circle cx="876.74" cy="1078.24" r="11.50" fill="#E4F4F2"/>
<circle cx="913.88" cy="1078.24" r="11.50" fill="#F5FAD5"/>
<circle cx="951.02" cy="1078.24" r="11.50" fill="#F5FAD5"/>
<circle cx="988.16" cy="1078.24" r="12.50" fill="#D73027"/>
<circle cx="1025.30" cy="1078.24" r="3.50" fill="#4575B4"/>
<circle cx="1062.44" cy="1078.24" r="12.50" fill="#B9D9E9"/>
<circle cx="1099.58" cy="1078.24" r="12.50" fill="#F5FAD5"/>
<circle cx="1136.72" cy="1078.24" r="3.50" fill="#4575B4"/>
<circle cx="1173.86" cy="1078.24" r="12.50" fill="#FFB774"/>
<circle cx="1211.00" cy="1078.24" r="12.50" fill="#FFE89C"/>
<circle cx="1248.14" cy="1078.24" r="12.50" fill="#FFE89C"/>
<circle cx="1285.28" cy="1078.24" r="12.50" fill="#FD9860"/>
<circle cx="1322.42" cy="1078.24" r="12.50" fill="#F5FAD5"/>
<circle cx="1359.56" cy="1078.24" r="11.50" fill="#FFE89C"/>
<circle cx="1396.70" cy="1078.24" r="11.50" fill="#FFE89C"/>
<circle cx="1433.84" cy="1078.24" r="11.50" fill="#FFFFBF"/>
<circle cx="1470.98" cy="1078.24" r="11.50" fill="#E4F4F2"/>
<circle cx="1508.12" cy="1078.24" r="11.50" fill="#E4F4F2"/>
<circle cx="1545.26" cy="1078.24" r="12.50" fill="#F5FAD5"/>
<circle cx="1582.40" cy="1078.24" r="12.50" fill="#F5FAD5"/>
<circle cx="1619.54" cy="1078.24" r="12.50" fill="#FFF3AD"/>
<circle cx="1656.68" cy="1078.24" r="12.50" fill="#FFFFBF"/>
<circle cx="1693.82" cy="1078.24" r="13.50" fill="#FFB774"/>
<circle cx="1730.96" cy="1078.24" r="13.50" fill="#D73027"/>
<circle cx="1768.10" cy="1078.24" r="13.50" fill="#F3784C"/>
<circle cx="1805.24" cy="1078.24" r="13.50" fill="#FFE89C"/>
<circle cx="282.50" cy="1117.41" r="7.50" fill="#E4F4F2"/>
<circle cx="319.64" cy="1117.41" r="7.50" fill="#E4F4F2"/>
<circle cx="356.78" cy="1117.41" r="5.50" fill="#D6ECF4"/>
<circle cx="393.92" cy="1117.41" r="8.50" fill="#F5FAD5"/>
<circle cx="431.06" cy="1117.41" r="8.50" fill="#FFE89C"/>
<circle cx="468.20" cy="1117.41" r="5.50" fill="#B9D9E9"/>
<circle cx="505.34" cy="1117.41" r="9.50" fill="#F5FAD5"/>
<circle cx="542.48" cy="1117.41" r="9.50" fill="#F5FAD5"/>
<circle cx="579.62" cy="1117.41" r="9.50" fill="#F5FAD5"/>
<circle cx="616.76" cy="1117.41" r="6.50" fill="#D6ECF4"/>
<circle cx="653.90" cy="1117.41" r="5.50" fill="#D6ECF4"/>
<circle cx="691.04" cy="1117.41" r="5.50" fill="#D6ECF4"/>
<circle cx="728.18" cy="1117.41" r="8.50" fill="#E4F4F2"/>
<circle cx="765.32" cy="1117.41" r="8.50" fill="#E4F4F2"/>
<circle cx="802.46" cy="1117.41" r="8.50" fill="#E4F4F2"/>
<circle cx="839.60" cy="1117.41" r="6.50" fill="#E4F4F2"/>
<circle cx="876.74" cy="1117.41" r="6.50" fill="#E4F4F2"/>
<circle cx="913.88" cy="1117.41" r="6.50" fill="#E4F4F2"/>
<circle cx="951.02" cy="1117.41" r="7.50" fill="#D6ECF4"/>
<circle cx="988.16" cy="1117.41" r="4.50" fill="#D6ECF4"/>
<circle cx="1025.30" cy="1117.41" r="3.50" fill="#B9D9E9"/>
<circle cx="1062.44" cy="1117.41" r="7.50" fill="#D6ECF4"/>
<circle cx="1099.58" cy="1117.41" r="6.50" fill="#E4F4F2"/>
<circle cx="1136.72" cy="1117.41" r="10.50" fill="#D73027"/>
<circle cx="1173.86" cy="1117.41" r="10.50" fill="#FFD689"/>
<circle cx="1211.00" cy="1117.41" r="10.50" fill="#FFD689"/>
<circle cx="1248.14" cy="1117.41" r="11.50" fill="#F3784C"/>
<circle cx="1285.28" cy="1117.41" r="10.50" fill="#FFFFBF"/>
<circle cx="1322.42" cy="1117.41" r="11.50" fill="#FFE89C"/>
<circle cx="1359.56" cy="1117.41" r="9.50" fill="#F5FAD5"/>
<circle cx="1396.70" cy="1117.41" r="8.50" fill="#E4F4F2"/>
<circle cx="1433.84" cy="1117.41" r="9.50" fill="#F5FAD5"/>
<circle cx="1470.98" cy="1117.41" r="11.50" fill="#FFE89C"/>
<circle cx="1508.12" cy="1117.41" r="11.50" fill="#FFF3AD"/>
<circle cx="1545.26" cy="1117.41" r="8.50" fill="#E4F4F2"/>
<circle cx="1582.40" cy="1117.41" r="8.50" fill="#E4F4F2"/>
<circle cx="1619.54" cy="1117.41" r="12.50" fill="#FD9860"/>
<circle cx="1656.68" cy="1117.41" r="12.50" fill="#FFB774"/>
<circle cx="1693.82" cy="1117.41" r="12.50" fill="#FFB774"/>
<circle cx="1730.96" cy="1117.41" r="12.50" fill="#E65839"/>
<circle cx="1768.10" cy="1117.41" r="13.50" fill="#D73027"/>
<circle cx="1805.24" cy="1117.41" r="13.50" fill="#D73027"/>
<circle cx="282.50" cy="1156.58" r="8.50" fill="#7FACD1"/>
<circle cx="319.64" cy="1156.58" r="8.50" fill="#D6ECF4"/>
<circle cx="356.78" cy="1156.58" r="7.50" fill="#D6ECF4"/>
<circle cx="393.92" cy="1156.58" r="5.50" fill="#9BC5DF"/>
<circle cx="431.06" cy="1156.58" r="3.50" fill="#6490C3"/>
<circle cx="468.20" cy="1156.58" r="6.50" fill="#B9D9E9"/>
<circle cx="505.34" cy="1156.58" r="10.50" fill="#F5FAD5"/>
<circle cx="542.48" cy="1156.58" r="10.50" fill="#F3784C"/>
<circle cx="579.62" cy="1156.58" r="10.50" fill="#FFB774"/>
<circle cx="616.76" cy="1156.58" r="8.50" fill="#E4F4F2"/>
<circle cx="653.90" cy="1156.58" r="8.50" fill="#FFD689"/>
<circle cx="691.04" cy="1156.58" r="8.50" fill="#FD9860"/>
<circle cx="728.18" cy="1156.58" r="10.50" fill="#E4F4F2"/>
<circle cx="765.32" cy="1156.58" r="9.50" fill="#FFB774"/>
<circle cx="802.46" cy="1156.58" r="10.50" fill="#FFB774"/>
<circle cx="839.60" cy="1156.58" r="7.50" fill="#9BC5DF"/>
<circle cx="876.74" cy="1156.58" r="7.50" fill="#F5FAD5"/>
<circle cx="913.88" cy="1156.58" r="7.50" fill="#F5FAD5"/>
<circle cx="951.02" cy="1156.58" r="9.50" fill="#E4F4F2"/>
<circle cx="988.16" cy="1156.58" r="6.50" fill="#7FACD1"/>
<circle cx="1025.30" cy="1156.58" r="3.50" fill="#9BC5DF"/>
<circle cx="1062.44" cy="1156.58" r="9.50" fill="#FFE89C"/>
<circle cx="1099.58" cy="1156.58" r="6.50" fill="#E4F4F2"/>
<circle cx="1136.72" cy="1156.58" r="3.50" fill="#6490C3"/>
<circle cx="1173.86" cy="1156.58" r="9.50" fill="#FFFFBF"/>
<circle cx="1211.00" cy="1156.58" r="8.50" fill="#D6ECF4"/>
<circle cx="1248.14" cy="1156.58" r="7.50" fill="#F5FAD5"/>
<circle cx="1285.28" cy="1156.58" r="7.50" fill="#E4F4F2"/>
<circle cx="1322.42" cy="1156.58" r="11.50" fill="#FFB774"/>
<circle cx="1359.56" cy="1156.58" r="8.50" fill="#FFFFBF"/>
<circle cx="1396.70" cy="1156.58" r="9.50" fill="#FFFFBF"/>
<circle cx="1433.84" cy="1156.58" r="8.50" fill="#FFFFBF"/>
<circle cx="1470.98" cy="1156.58" r="9.50" fill="#F3784C"/>
<circle cx="1508.12" cy="1156.58" r="9.50" fill="#FFD689"/>
<circle cx="1545.26" cy="1156.58" r="9.50" fill="#F5FAD5"/>
<circle cx="1582.40" cy="1156.58" r="9.50" fill="#FFE89C"/>
<circle cx="1619.54" cy="1156.58" r="10.50" fill="#E65839"/>
<circle cx="1656.68" cy="1156.58" r="10.50" fill="#FFD689"/>
<circle cx="1693.82" cy="1156.58" r="10.50" fill="#FFB774"/>
<circle cx="1730.96" cy="1156.58" r="10.50" fill="#FFB774"/>
<circle cx="1768.10" cy="1156.58" r="10.50" fill="#E65839"/>
<circle cx="1805.24" cy="1156.58" r="10.50" fill="#D73027"/>
<circle cx="282.50" cy="1195.75" r="12.50" fill="#B9D9E9"/>
<circle cx="319.64" cy="1195.75" r="12.50" fill="#B9D9E9"/>
<circle cx="356.78" cy="1195.75" r="11.50" fill="#7FACD1"/>
<circle cx="393.92" cy="1195.75" r="11.50" fill="#9BC5DF"/>
<circle cx="431.06" cy="1195.75" r="3.50" fill="#4575B4"/>
<circle cx="468.20" cy="1195.75" r="12.50" fill="#F5FAD5"/>
<circle cx="505.34" cy="1195.75" r="12.50" fill="#D6ECF4"/>
<circle cx="542.48" cy="1195.75" r="12.50" fill="#D6ECF4"/>
<circle cx="579.62" cy="1195.75" r="12.50" fill="#D6ECF4"/>
<circle cx="616.76" cy="1195.75" r="12.50" fill="#FFFFBF"/>
<circle cx="653.90" cy="1195.75" r="12.50" fill="#FFF3AD"/>
<circle cx="691.04" cy="1195.75" r="12.50" fill="#FFFFBF"/>
<circle cx="728.18" cy="1195.75" r="12.50" fill="#B9D9E9"/>
<circle cx="765.32" cy="1195.75" r="12.50" fill="#E4F4F2"/>
<circle cx="802.46" cy="1195.75" r="12.50" fill="#B9D9E9"/>
<circle cx="839.60" cy="1195.75" r="12.50" fill="#FFD689"/>
<circle cx="876.74" cy="1195.75" r="12.50" fill="#FFB774"/>
<circle cx="913.88" cy="1195.75" r="12.50" fill="#F3784C"/>
<circle cx="951.02" cy="1195.75" r="12.50" fill="#B9D9E9"/>
<circle cx="988.16" cy="1195.75" r="11.50" fill="#FD9860"/>
<circle cx="1025.30" cy="1195.75" r="10.50" fill="#B9D9E9"/>
<circle cx="1062.44" cy="1195.75" r="12.50" fill="#E4F4F2"/>
<circle cx="1099.58" cy="1195.75" r="11.50" fill="#F5FAD5"/>
<circle cx="1136.72" cy="1195.75" r="11.50" fill="#FFD689"/>
<circle cx="1173.86" cy="1195.75" r="12.50" fill="#FFE89C"/>
<circle cx="1211.00" cy="1195.75" r="12.50" fill="#D73027"/>
<circle cx="1248.14" cy="1195.75" r="12.50" fill="#FFB774"/>
<circle cx="1285.28" cy="1195.75" r="12.50" fill="#FD9860"/>
<circle cx="1322.42" cy="1195.75" r="12.50" fill="#F5FAD5"/>
<circle cx="1359.56" cy="1195.75" r="13.50" fill="#FFD689"/>
<circle cx="1396.70" cy="1195.75" r="13.50" fill="#FFB774"/>
<circle cx="1433.84" cy="1195.75" r="13.50" fill="#FFE89C"/>
<circle cx="1470.98" cy="1195.75" r="13.50" fill="#F5FAD5"/>
<circle cx="1508.12" cy="1195.75" r="13.50" fill="#FFE89C"/>
<circle cx="1545.26" cy="1195.75" r="13.50" fill="#FFE89C"/>
<circle cx="1582.40" cy="1195.75" r="12.50" fill="#FFF3AD"/>
<circle cx="1619.54" cy="1195.75" r="13.50" fill="#FFFFBF"/>
<circle cx="1656.68" cy="1195.75" r="13.50" fill="#FFF3AD"/>
<circle cx="1693.82" cy="1195.75" r="13.50" fill="#FD9860"/>
<circle cx="1730.96" cy="1195.75" r="13.50" fill="#F3784C"/>
<circle cx="1768.10" cy="1195.75" r="13.50" fill="#FFE89C"/>
<circle cx="1805.24" cy="1195.75" r="13.50" fill="#FFD689"/>
<circle cx="282.50" cy="1234.92" r="11.50" fill="#E4F4F2"/>
<circle cx="319.64" cy="1234.92" r="11.50" fill="#E4F4F2"/>
<circle cx="356.78" cy="1234.92" r="11.50" fill="#FFD689"/>
<circle cx="393.92" cy="1234.92" r="11.50" fill="#D6ECF4"/>
<circle cx="431.06" cy="1234.92" r="3.50" fill="#4575B4"/>
<circle cx="468.20" cy="1234.92" r="12.50" fill="#F5FAD5"/>
<circle cx="505.34" cy="1234.92" r="12.50" fill="#F5FAD5"/>
<circle cx="542.48" cy="1234.92" r="12.50" fill="#E4F4F2"/>
<circle cx="579.62" cy="1234.92" r="12.50" fill="#F5FAD5"/>
<circle cx="616.76" cy="1234.92" r="12.50" fill="#FFFFBF"/>
<circle cx="653.90" cy="1234.92" r="12.50" fill="#FFFFBF"/>
<circle cx="691.04" cy="1234.92" r="11.50" fill="#F5FAD5"/>
<circle cx="728.18" cy="1234.92" r="11.50" fill="#E4F4F2"/>
<circle cx="765.32" cy="1234.92" r="12.50" fill="#E4F4F2"/>
<circle cx="802.46" cy="1234.92" r="12.50" fill="#E4F4F2"/>
<circle cx="839.60" cy="1234.92" r="12.50" fill="#FFF3AD"/>
<circle cx="876.74" cy="1234.92" r="11.50" fill="#FFE89C"/>
<circle cx="913.88" cy="1234.92" r="11.50" fill="#FFE89C"/>
<circle cx="951.02" cy="1234.92" r="11.50" fill="#FFFFBF"/>
<circle cx="988.16" cy="1234.92" r="11.50" fill="#FFE89C"/>
<circle cx="1025.30" cy="1234.92" r="3.50" fill="#4575B4"/>
<circle cx="1062.44" cy="1234.92" r="12.50" fill="#E4F4F2"/>
<circle cx="1099.58" cy="1234.92" r="9.50" fill="#B9D9E9"/>
<circle cx="1136.72" cy="1234.92" r="3.50" fill="#4575B4"/>
<circle cx="1173.86" cy="1234.92" r="12.50" fill="#F5FAD5"/>
<circle cx="1211.00" cy="1234.92" r="11.50" fill="#D6ECF4"/>
<circle cx="1248.14" cy="1234.92" r="11.50" fill="#F5FAD5"/>
<circle cx="1285.28" cy="1234.92" r="11.50" fill="#E4F4F2"/>
<circle cx="1322.42" cy="1234.92" r="12.50" fill="#FFFFBF"/>
<circle cx="1359.56" cy="1234.92" r="13.50" fill="#E65839"/>
<circle cx="1396.70" cy="1234.92" r="13.50" fill="#F3784C"/>
<circle cx="1433.84" cy="1234.92" r="13.50" fill="#D73027"/>
<circle cx="1470.98" cy="1234.92" r="13.50" fill="#FFB774"/>
<circle cx="1508.12" cy="1234.92" r="13.50" fill="#FFD689"/>
<circle cx="1545.26" cy="1234.92" r="12.50" fill="#FFFFBF"/>
<circle cx="1582.40" cy="1234.92" r="12.50" fill="#FFF3AD"/>
<circle cx="1619.54" cy="1234.92" r="13.50" fill="#E65839"/>
<circle cx="1656.68" cy="1234.92" r="13.50" fill="#E65839"/>
<circle cx="1693.82" cy="1234.92" r="13.50" fill="#FFD689"/>
<circle cx="1730.96" cy="1234.92" r="13.50" fill="#FFB774"/>
<circle cx="1768.10" cy="1234.92" r="13.50" fill="#FFD689"/>
<circle cx="1805.24" cy="1234.92" r="13.50" fill="#FFF3AD"/>
<circle cx="282.50" cy="1274.09" r="12.50" fill="#FFE89C"/>
<circle cx="319.64" cy="1274.09" r="12.50" fill="#FFF3AD"/>
<circle cx="356.78" cy="1274.09" r="11.50" fill="#FFF3AD"/>
<circle cx="393.92" cy="1274.09" r="11.50" fill="#FFFFBF"/>
<circle cx="431.06" cy="1274.09" r="11.50" fill="#FFB774"/>
<circle cx="468.20" cy="1274.09" r="11.50" fill="#FFFFBF"/>
<circle cx="505.34" cy="1274.09" r="10.50" fill="#E4F4F2"/>
<circle cx="542.48" cy="1274.09" r="10.50" fill="#E4F4F2"/>
<circle cx="579.62" cy="1274.09" r="10.50" fill="#E4F4F2"/>
<circle cx="616.76" cy="1274.09" r="9.50" fill="#F5FAD5"/>
<circle cx="653.90" cy="1274.09" r="9.50" fill="#F5FAD5"/>
<circle cx="691.04" cy="1274.09" r="9.50" fill="#E4F4F2"/>
<circle cx="728.18" cy="1274.09" r="10.50" fill="#E4F4F2"/>
<circle cx="765.32" cy="1274.09" r="10.50" fill="#E4F4F2"/>
<circle cx="802.46" cy="1274.09" r="10.50" fill="#E4F4F2"/>
<circle cx="839.60" cy="1274.09" r="9.50" fill="#E4F4F2"/>
<circle cx="876.74" cy="1274.09" r="9.50" fill="#D6ECF4"/>
<circle cx="913.88" cy="1274.09" r="9.50" fill="#D6ECF4"/>
<circle cx="951.02" cy="1274.09" r="10.50" fill="#D6ECF4"/>
<circle cx="988.16" cy="1274.09" r="7.50" fill="#D6ECF4"/>
<circle cx="1025.30" cy="1274.09" r="9.50" fill="#E4F4F2"/>
<circle cx="1062.44" cy="1274.09" r="9.50" fill="#B9D9E9"/>
<circle cx="1099.58" cy="1274.09" r="8.50" fill="#D6ECF4"/>
<circle cx="1136.72" cy="1274.09" r="8.50" fill="#E4F4F2"/>
<circle cx="1173.86" cy="1274.09" r="13.50" fill="#D73027"/>
<circle cx="1211.00" cy="1274.09" r="13.50" fill="#D73027"/>
<circle cx="1248.14" cy="1274.09" r="13.50" fill="#D73027"/>
<circle cx="1285.28" cy="1274.09" r="13.50" fill="#D73027"/>
<circle cx="1322.42" cy="1274.09" r="11.50" fill="#F5FAD5"/>
<circle cx="1359.56" cy="1274.09" r="11.50" fill="#F5FAD5"/>
<circle cx="1396.70" cy="1274.09" r="10.50" fill="#E4F4F2"/>
<circle cx="1433.84" cy="1274.09" r="11.50" fill="#F5FAD5"/>
<circle cx="1470.98" cy="1274.09" r="12.50" fill="#FFFFBF"/>
<circle cx="1508.12" cy="1274.09" r="12.50" fill="#FFFFBF"/>
<circle cx="1545.26" cy="1274.09" r="8.50" fill="#B9D9E9"/>
<circle cx="1582.40" cy="1274.09" r="9.50" fill="#D6ECF4"/>
<circle cx="1619.54" cy="1274.09" r="12.50" fill="#FFF3AD"/>
<circle cx="1656.68" cy="1274.09" r="12.50" fill="#FFFFBF"/>
<circle cx="1693.82" cy="1274.09" r="12.50" fill="#FFF3AD"/>
<circle cx="1730.96" cy="1274.09" r="12.50" fill="#FFD689"/>
<circle cx="1768.10" cy="1274.09" r="13.50" fill="#FFD689"/>
<circle cx="1805.24" cy="1274.09" r="12.50" fill="#FFF3AD"/>
<circle cx="282.50" cy="1313.26" r="9.50" fill="#D6ECF4"/>
<circle cx="319.64" cy="1313.26" r="9.50" fill="#B9D9E9"/>
<circle cx="356.78" cy="1313.26" r="7.50" fill="#7FACD1"/>
<circle cx="393.92" cy="1313.26" r="7.50" fill="#9BC5DF"/>
<circle cx="431.06" cy="1313.26" r="3.50" fill="#6490C3"/>
<circle cx="468.20" cy="1313.26" r="9.50" fill="#B9D9E9"/>
<circle cx="505.34" cy="1313.26" r="10.50" fill="#D6ECF4"/>
<circle cx="542.48" cy="1313.26" r="10.50" fill="#FFFFBF"/>
<circle cx="579.62" cy="1313.26" r="10.50" fill="#E4F4F2"/>
<circle cx="616.76" cy="1313.26" r="9.50" fill="#D6ECF4"/>
<circle cx="653.90" cy="1313.26" r="9.50" fill="#E4F4F2"/>
<circle cx="691.04" cy="1313.26" r="9.50" fill="#F5FAD5"/>
<circle cx="728.18" cy="1313.26" r="10.50" fill="#E4F4F2"/>
<circle cx="765.32" cy="1313.26" r="10.50" fill="#F5FAD5"/>
<circle cx="802.46" cy="1313.26" r="10.50" fill="#E4F4F2"/>
<circle cx="839.60" cy="1313.26" r="9.50" fill="#E4F4F2"/>
<circle cx="876.74" cy="1313.26" r="9.50" fill="#E4F4F2"/>
<circle cx="913.88" cy="1313.26" r="9.50" fill="#F5FAD5"/>
<circle cx="951.02" cy="1313.26" r="10.50" fill="#E4F4F2"/>
<circle cx="988.16" cy="1313.26" r="9.50" fill="#F5FAD5"/>
<circle cx="1025.30" cy="1313.26" r="3.50" fill="#7FACD1"/>
<circle cx="1062.44" cy="1313.26" r="11.50" fill="#FFB774"/>
<circle cx="1099.58" cy="1313.26" r="11.50" fill="#FD9860"/>
<circle cx="1136.72" cy="1313.26" r="3.50" fill="#7FACD1"/>
<circle cx="1173.86" cy="1313.26" r="12.50" fill="#FD9860"/>
<circle cx="1211.00" cy="1313.26" r="12.50" fill="#F3784C"/>
<circle cx="1248.14" cy="1313.26" r="12.50" fill="#D73027"/>
<circle cx="1285.28" cy="1313.26" r="11.50" fill="#FFD689"/>
<circle cx="1322.42" cy="1313.26" r="10.50" fill="#E4F4F2"/>
<circle cx="1359.56" cy="1313.26" r="10.50" fill="#F5FAD5"/>
<circle cx="1396.70" cy="1313.26" r="11.50" fill="#F3784C"/>
<circle cx="1433.84" cy="1313.26" r="10.50" fill="#F5FAD5"/>
<circle cx="1470.98" cy="1313.26" r="12.50" fill="#FFE89C"/>
<circle cx="1508.12" cy="1313.26" r="12.50" fill="#FD9860"/>
<circle cx="1545.26" cy="1313.26" r="11.50" fill="#FD9860"/>
<circle cx="1582.40" cy="1313.26" r="11.50" fill="#FFE89C"/>
<circle cx="1619.54" cy="1313.26" r="11.50" fill="#FFE89C"/>
<circle cx="1656.68" cy="1313.26" r="12.50" fill="#FD9860"/>
<circle cx="1693.82" cy="1313.26" r="12.50" fill="#FFD689"/>
<circle cx="1730.96" cy="1313.26" r="11.50" fill="#FFE89C"/>
<circle cx="1768.10" cy="1313.26" r="12.50" fill="#FFB774"/>
<circle cx="1805.24" cy="1313.26" r="12.50" fill="#E65839"/>
<circle cx="282.50" cy="1352.43" r="10.50" fill="#D6ECF4"/>
<circle cx="319.64" cy="1352.43" r="10.50" fill="#D6ECF4"/>
<circle cx="356.78" cy="1352.43" r="9.50" fill="#B9D9E9"/>
<circle cx="393.92" cy="1352.43" r="8.50" fill="#9BC5DF"/>
<circle cx="431.06" cy="1352.43" r="8.50" fill="#F5FAD5"/>
<circle cx="468.20" cy="1352.43" r="9.50" fill="#B9D9E9"/>
<circle cx="505.34" cy="1352.43" r="10.50" fill="#E4F4F2"/>
<circle cx="542.48" cy="1352.43" r="10.50" fill="#E4F4F2"/>
<circle cx="579.62" cy="1352.43" r="10.50" fill="#E4F4F2"/>
<circle cx="616.76" cy="1352.43" r="9.50" fill="#F5FAD5"/>
<circle cx="653.90" cy="1352.43" r="9.50" fill="#E4F4F2"/>
<circle cx="691.04" cy="1352.43" r="9.50" fill="#F5FAD5"/>
<circle cx="728.18" cy="1352.43" r="10.50" fill="#D6ECF4"/>
<circle cx="765.32" cy="1352.43" r="10.50" fill="#D6ECF4"/>
<circle cx="802.46" cy="1352.43" r="10.50" fill="#D6ECF4"/>
<circle cx="839.60" cy="1352.43" r="10.50" fill="#F5FAD5"/>
<circle cx="876.74" cy="1352.43" r="10.50" fill="#FFFFBF"/>
<circle cx="913.88" cy="1352.43" r="10.50" fill="#F5FAD5"/>
<circle cx="951.02" cy="1352.43" r="11.50" fill="#E4F4F2"/>
<circle cx="988.16" cy="1352.43" r="9.50" fill="#E4F4F2"/>
<circle cx="1025.30" cy="1352.43" r="9.50" fill="#F5FAD5"/>
<circle cx="1062.44" cy="1352.43" r="10.50" fill="#B9D9E9"/>
<circle cx="1099.58" cy="1352.43" r="9.50" fill="#F5FAD5"/>
<circle cx="1136.72" cy="1352.43" r="8.50" fill="#D6ECF4"/>
<circle cx="1173.86" cy="1352.43" r="11.50" fill="#FFFFBF"/>
<circle cx="1211.00" cy="1352.43" r="10.50" fill="#FFFFBF"/>
<circle cx="1248.14" cy="1352.43" r="11.50" fill="#F5FAD5"/>
<circle cx="1285.28" cy="1352.43" r="11.50" fill="#FFFFBF"/>
<circle cx="1322.42" cy="1352.43" r="10.50" fill="#F5FAD5"/>
<circle cx="1359.56" cy="1352.43" r="12.50" fill="#D73027"/>
<circle cx="1396.70" cy="1352.43" r="12.50" fill="#FD9860"/>
<circle cx="1433.84" cy="1352.43" r="12.50" fill="#F3784C"/>
<circle cx="1470.98" cy="1352.43" r="12.50" fill="#FFFFBF"/>
<circle cx="1508.12" cy="1352.43" r="12.50" fill="#FFFFBF"/>
<circle cx="1545.26" cy="1352.43" r="11.50" fill="#FFF3AD"/>
<circle cx="1582.40" cy="1352.43" r="11.50" fill="#FFF3AD"/>
<circle cx="1619.54" cy="1352.43" r="13.50" fill="#E65839"/>
<circle cx="1656.68" cy="1352.43" r="13.50" fill="#E65839"/>
<circle cx="1693.82" cy="1352.43" r="12.50" fill="#E65839"/>
<circle cx="1730.96" cy="1352.43" r="12.50" fill="#FFD689"/>
<circle cx="1768.10" cy="1352.43" r="13.50" fill="#D73027"/>
<circle cx="1805.24" cy="1352.43" r="13.50" fill="#D73027"/>
<circle cx="282.50" cy="1391.60" r="10.50" fill="#E4F4F2"/>
<circle cx="319.64" cy="1391.60" r="10.50" fill="#E4F4F2"/>
<circle cx="356.78" cy="1391.60" r="8.50" fill="#B9D9E9"/>
<circle cx="393.92" cy="1391.60" r="11.50" fill="#D73027"/>
<circle cx="431.06" cy="1391.60" r="8.50" fill="#FFD689"/>
<circle cx="468.20" cy="1391.60" r="11.50" fill="#FFD689"/>
<circle cx="505.34" cy="1391.60" r="9.50" fill="#D6ECF4"/>
<circle cx="542.48" cy="1391.60" r="9.50" fill="#E4F4F2"/>
<circle cx="579.62" cy="1391.60" r="9.50" fill="#E4F4F2"/>
<circle cx="616.76" cy="1391.60" r="9.50" fill="#FFFFBF"/>
<circle cx="653.90" cy="1391.60" r="9.50" fill="#FFB774"/>
<circle cx="691.04" cy="1391.60" r="9.50" fill="#FFD689"/>
<circle cx="728.18" cy="1391.60" r="8.50" fill="#9BC5DF"/>
<circle cx="765.32" cy="1391.60" r="8.50" fill="#B9D9E9"/>
<circle cx="802.46" cy="1391.60" r="8.50" fill="#E4F4F2"/>
<circle cx="839.60" cy="1391.60" r="8.50" fill="#D6ECF4"/>
<circle cx="876.74" cy="1391.60" r="8.50" fill="#FFD689"/>
<circle cx="913.88" cy="1391.60" r="8.50" fill="#E4F4F2"/>
<circle cx="951.02" cy="1391.60" r="9.50" fill="#9BC5DF"/>
<circle cx="988.16" cy="1391.60" r="11.50" fill="#F5FAD5"/>
<circle cx="1025.30" cy="1391.60" r="8.50" fill="#E4F4F2"/>
<circle cx="1062.44" cy="1391.60" r="9.50" fill="#B9D9E9"/>
<circle cx="1099.58" cy="1391.60" r="11.50" fill="#E4F4F2"/>
<circle cx="1136.72" cy="1391.60" r="7.50" fill="#D6ECF4"/>
<circle cx="1173.86" cy="1391.60" r="9.50" fill="#B9D9E9"/>
<circle cx="1211.00" cy="1391.60" r="11.50" fill="#FFE89C"/>
<circle cx="1248.14" cy="1391.60" r="11.50" fill="#E4F4F2"/>
<circle cx="1285.28" cy="1391.60" r="8.50" fill="#E4F4F2"/>
<circle cx="1322.42" cy="1391.60" r="10.50" fill="#B9D9E9"/>
<circle cx="1359.56" cy="1391.60" r="11.50" fill="#FFD689"/>
<circle cx="1396.70" cy="1391.60" r="11.50" fill="#FFE89C"/>
<circle cx="1433.84" cy="1391.60" r="11.50" fill="#FFD689"/>
<circle cx="1470.98" cy="1391.60" r="12.50" fill="#E65839"/>
<circle cx="1508.12" cy="1391.60" r="12.50" fill="#D73027"/>
<circle cx="1545.26" cy="1391.60" r="10.50" fill="#FFFFBF"/>
<circle cx="1582.40" cy="1391.60" r="10.50" fill="#F5FAD5"/>
<circle cx="1619.54" cy="1391.60" r="10.50" fill="#FFFFBF"/>
<circle cx="1656.68" cy="1391.60" r="10.50" fill="#FFFFBF"/>
<circle cx="1693.82" cy="1391.60" r="10.50" fill="#FFE89C"/>
<circle cx="1730.96" cy="1391.60" r="10.50" fill="#FFD689"/>
<circle cx="1768.10" cy="1391.60" r="11.50" fill="#D73027"/>
<circle cx="1805.24" cy="1391.60" r="11.50" fill="#E65839"/>
<circle cx="282.50" cy="1430.77" r="9.50" fill="#9BC5DF"/>
<circle cx="319.64" cy="1430.77" r="9.50" fill="#9BC5DF"/>
<circle cx="356.78" cy="1430.77" r="10.50" fill="#D73027"/>
<circle cx="393.92" cy="1430.77" r="8.50" fill="#9BC5DF"/>
<circle cx="431.06" cy="1430.77" r="3.50" fill="#4575B4"/>
<circle cx="468.20" cy="1430.77" r="9.50" fill="#9BC5DF"/>
<circle cx="505.34" cy="1430.77" r="12.50" fill="#FFE89C"/>
<circle cx="542.48" cy="1430.77" r="12.50" fill="#FFE89C"/>
<circle cx="579.62" cy="1430.77" r="12.50" fill="#FFFFBF"/>
<circle cx="616.76" cy="1430.77" r="9.50" fill="#E4F4F2"/>
<circle cx="653.90" cy="1430.77" r="9.50" fill="#B9D9E9"/>
<circle cx="691.04" cy="1430.77" r="9.50" fill="#E4F4F2"/>
<circle cx="728.18" cy="1430.77" r="11.50" fill="#FFF3AD"/>
<circle cx="765.32" cy="1430.77" r="12.50" fill="#FFF3AD"/>
<circle cx="802.46" cy="1430.77" r="12.50" fill="#F5FAD5"/>
<circle cx="839.60" cy="1430.77" r="9.50" fill="#F5FAD5"/>
<circle cx="876.74" cy="1430.77" r="9.50" fill="#E4F4F2"/>
<circle cx="913.88" cy="1430.77" r="9.50" fill="#F5FAD5"/>
<circle cx="951.02" cy="1430.77" r="11.50" fill="#FFB774"/>
<circle cx="988.16" cy="1430.77" r="8.50" fill="#D6ECF4"/>
<circle cx="1025.30" cy="1430.77" r="3.50" fill="#4575B4"/>
<circle cx="1062.44" cy="1430.77" r="12.50" fill="#FFFFBF"/>
<circle cx="1099.58" cy="1430.77" r="8.50" fill="#D6ECF4"/>
<circle cx="1136.72" cy="1430.77" r="3.50" fill="#4575B4"/>
<circle cx="1173.86" cy="1430.77" r="10.50" fill="#F5FAD5"/>
<circle cx="1211.00" cy="1430.77" r="11.50" fill="#FFF3AD"/>
<circle cx="1248.14" cy="1430.77" r="10.50" fill="#FFFFBF"/>
<circle cx="1285.28" cy="1430.77" r="10.50" fill="#FFF3AD"/>
<circle cx="1322.42" cy="1430.77" r="12.50" fill="#FD9860"/>
<circle cx="1359.56" cy="1430.77" r="12.50" fill="#FD9860"/>
<circle cx="1396.70" cy="1430.77" r="12.50" fill="#FFB774"/>
<circle cx="1433.84" cy="1430.77" r="12.50" fill="#FD9860"/>
<circle cx="1470.98" cy="1430.77" r="12.50" fill="#FFB774"/>
<circle cx="1508.12" cy="1430.77" r="12.50" fill="#FFB774"/>
<circle cx="1545.26" cy="1430.77" r="12.50" fill="#FFE89C"/>
<circle cx="1582.40" cy="1430.77" r="12.50" fill="#FFD689"/>
<circle cx="1619.54" cy="1430.77" r="13.50" fill="#FFD689"/>
<circle cx="1656.68" cy="1430.77" r="12.50" fill="#FFB774"/>
<circle cx="1693.82" cy="1430.77" r="13.50" fill="#F3784C"/>
<circle cx="1730.96" cy="1430.77" r="13.50" fill="#FFB774"/>
<circle cx="1768.10" cy="1430.77" r="13.50" fill="#FFF3AD"/>
<circle cx="1805.24" cy="1430.77" r="13.50" fill="#FFD689"/>
<circle cx="282.50" cy="1469.94" r="10.50" fill="#D6ECF4"/>
<circle cx="319.64" cy="1469.94" r="10.50" fill="#D6ECF4"/>
<circle cx="356.78" cy="1469.94" r="10.50" fill="#E4F4F2"/>
<circle cx="393.92" cy="1469.94" r="11.50" fill="#F5FAD5"/>
<circle cx="431.06" cy="1469.94" r="3.50" fill="#4575B4"/>
<circle cx="468.20" cy="1469.94" r="12.50" fill="#E65839"/>
<circle cx="505.34" cy="1469.94" r="10.50" fill="#E4F4F2"/>
<circle cx="542.48" cy="1469.94" r="10.50" fill="#E4F4F2"/>
<circle cx="579.62" cy="1469.94" r="11.50" fill="#F5FAD5"/>
<circle cx="616.76" cy="1469.94" r="10.50" fill="#FFD689"/>
<circle cx="653.90" cy="1469.94" r="11.50" fill="#FFB774"/>
<circle cx="691.04" cy="1469.94" r="10.50" fill="#FFE89C"/>
<circle cx="728.18" cy="1469.94" r="11.50" fill="#9BC5DF"/>
<circle cx="765.32" cy="1469.94" r="10.50" fill="#D6ECF4"/>
<circle cx="802.46" cy="1469.94" r="11.50" fill="#E4F4F2"/>
<circle cx="839.60" cy="1469.94" r="11.50" fill="#F5FAD5"/>
<circle cx="876.74" cy="1469.94" r="11.50" fill="#FFD689"/>
<circle cx="913.88" cy="1469.94" r="11.50" fill="#FFFFBF"/>
<circle cx="951.02" cy="1469.94" r="11.50" fill="#FFFFBF"/>
<circle cx="988.16" cy="1469.94" r="9.50" fill="#FFB774"/>
<circle cx="1025.30" cy="1469.94" r="3.50" fill="#4575B4"/>
<circle cx="1062.44" cy="1469.94" r="11.50" fill="#E4F4F2"/>
<circle cx="1099.58" cy="1469.94" r="10.50" fill="#E4F4F2"/>
<circle cx="1136.72" cy="1469.94" r="3.50" fill="#4575B4"/>
<circle cx="1173.86" cy="1469.94" r="11.50" fill="#FFF3AD"/>
<circle cx="1211.00" cy="1469.94" r="10.50" fill="#E4F4F2"/>
<circle cx="1248.14" cy="1469.94" r="10.50" fill="#F5FAD5"/>
<circle cx="1285.28" cy="1469.94" r="10.50" fill="#FFFFBF"/>
<circle cx="1322.42" cy="1469.94" r="12.50" fill="#FFFFBF"/>
<circle cx="1359.56" cy="1469.94" r="12.50" fill="#FD9860"/>
<circle cx="1396.70" cy="1469.94" r="12.50" fill="#FFD689"/>
<circle cx="1433.84" cy="1469.94" r="12.50" fill="#FFF3AD"/>
<circle cx="1470.98" cy="1469.94" r="12.50" fill="#FFF3AD"/>
<circle cx="1508.12" cy="1469.94" r="12.50" fill="#FFD689"/>
<circle cx="1545.26" cy="1469.94" r="12.50" fill="#FFE89C"/>
<circle cx="1582.40" cy="1469.94" r="12.50" fill="#FFFFBF"/>
<circle cx="1619.54" cy="1469.94" r="13.50" fill="#FFF3AD"/>
<circle cx="1656.68" cy="1469.94" r="12.50" fill="#FFD689"/>
<circle cx="1693.82" cy="1469.94" r="12.50" fill="#FFB774"/>
<circle cx="1730.96" cy="1469.94" r="12.50" fill="#D73027"/>
<circle cx="1768.10" cy="1469.94" r="12.50" fill="#D73027"/>
<circle cx="1805.24" cy="1469.94" r="12.50" fill="#FFE89C"/>
<circle cx="282.50" cy="1509.11" r="11.50" fill="#E4F4F2"/>
<circle cx="319.64" cy="1509.11" r="11.50" fill="#B9D9E9"/>
<circle cx="356.78" cy="1509.11" r="10.50" fill="#9BC5DF"/>
<circle cx="393.92" cy="1509.11" r="9.50" fill="#9BC5DF"/>
<circle cx="431.06" cy="1509.11" r="3.50" fill="#6490C3"/>
<circle cx="468.20" cy="1509.11" r="9.50" fill="#9BC5DF"/>
<circle cx="505.34" cy="1509.11" r="12.50" fill="#F5FAD5"/>
<circle cx="542.48" cy="1509.11" r="12.50" fill="#FFF3AD"/>
<circle cx="579.62" cy="1509.11" r="12.50" fill="#F5FAD5"/>
<circle cx="616.76" cy="1509.11" r="10.50" fill="#E4F4F2"/>
<circle cx="653.90" cy="1509.11" r="10.50" fill="#E4F4F2"/>
<circle cx="691.04" cy="1509.11" r="9.50" fill="#F5FAD5"/>
<circle cx="728.18" cy="1509.11" r="13.50" fill="#FFE89C"/>
<circle cx="765.32" cy="1509.11" r="12.50" fill="#FFF3AD"/>
<circle cx="802.46" cy="1509.11" r="13.50" fill="#FFE89C"/>
<circle cx="839.60" cy="1509.11" r="11.50" fill="#FFE89C"/>
<circle cx="876.74" cy="1509.11" r="11.50" fill="#FFF3AD"/>
<circle cx="913.88" cy="1509.11" r="11.50" fill="#F5FAD5"/>
<circle cx="951.02" cy="1509.11" r="12.50" fill="#FFF3AD"/>
<circle cx="988.16" cy="1509.11" r="9.50" fill="#E4F4F2"/>
<circle cx="1025.30" cy="1509.11" r="11.50" fill="#FFE89C"/>
<circle cx="1062.44" cy="1509.11" r="12.50" fill="#FFFFBF"/>
<circle cx="1099.58" cy="1509.11" r="8.50" fill="#B9D9E9"/>
<circle cx="1136.72" cy="1509.11" r="9.50" fill="#D6ECF4"/>
<circle cx="1173.86" cy="1509.11" r="9.50" fill="#B9D9E9"/>
<circle cx="1211.00" cy="1509.11" r="7.50" fill="#7FACD1"/>
<circle cx="1248.14" cy="1509.11" r="7.50" fill="#7FACD1"/>
<circle cx="1285.28" cy="1509.11" r="9.50" fill="#9BC5DF"/>
<circle cx="1322.42" cy="1509.11" r="13.50" fill="#FFD689"/>
<circle cx="1359.56" cy="1509.11" r="13.50" fill="#FFB774"/>
<circle cx="1396.70" cy="1509.11" r="13.50" fill="#FD9860"/>
<circle cx="1433.84" cy="1509.11" r="13.50" fill="#FFE89C"/>
<circle cx="1470.98" cy="1509.11" r="14.50" fill="#FD9860"/>
<circle cx="1508.12" cy="1509.11" r="14.50" fill="#D73027"/>
<circle cx="1545.26" cy="1509.11" r="12.50" fill="#FFD689"/>
<circle cx="1582.40" cy="1509.11" r="12.50" fill="#FFFFBF"/>
<circle cx="1619.54" cy="1509.11" r="13.50" fill="#FFE89C"/>
<circle cx="1656.68" cy="1509.11" r="13.50" fill="#FD9860"/>
<circle cx="1693.82" cy="1509.11" r="13.50" fill="#F3784C"/>
<circle cx="1730.96" cy="1509.11" r="12.50" fill="#FFF3AD"/>
<circle cx="1768.10" cy="1509.11" r="13.50" fill="#FFD689"/>
<circle cx="1805.24" cy="1509.11" r="14.50" fill="#D73027"/>
<circle cx="282.50" cy="1548.28" r="7.50" fill="#E4F4F2"/>
<circle cx="319.64" cy="1548.28" r="7.50" fill="#D6ECF4"/>
<circle cx="356.78" cy="1548.28" r="7.50" fill="#D6ECF4"/>
<circle cx="393.92" cy="1548.28" r="5.50" fill="#B9D9E9"/>
<circle cx="431.06" cy="1548.28" r="3.50" fill="#B9D9E9"/>
<circle cx="468.20" cy="1548.28" r="6.50" fill="#F5FAD5"/>
<circle cx="505.34" cy="1548.28" r="7.50" fill="#E4F4F2"/>
<circle cx="542.48" cy="1548.28" r="7.50" fill="#E4F4F2"/>
<circle cx="579.62" cy="1548.28" r="7.50" fill="#F5FAD5"/>
<circle cx="616.76" cy="1548.28" r="4.50" fill="#E4F4F2"/>
<circle cx="653.90" cy="1548.28" r="4.50" fill="#F5FAD5"/>
<circle cx="691.04" cy="1548.28" r="4.50" fill="#E4F4F2"/>
<circle cx="728.18" cy="1548.28" r="6.50" fill="#FFE89C"/>
<circle cx="765.32" cy="1548.28" r="6.50" fill="#D6ECF4"/>
<circle cx="802.46" cy="1548.28" r="6.50" fill="#E4F4F2"/>
<circle cx="839.60" cy="1548.28" r="5.50" fill="#FFF3AD"/>
<circle cx="876.74" cy="1548.28" r="5.50" fill="#E4F4F2"/>
<circle cx="913.88" cy="1548.28" r="5.50" fill="#E4F4F2"/>
<circle cx="951.02" cy="1548.28" r="8.50" fill="#FFE89C"/>
<circle cx="988.16" cy="1548.28" r="6.50" fill="#FFF3AD"/>
<circle cx="1025.30" cy="1548.28" r="3.50" fill="#F5FAD5"/>
<circle cx="1062.44" cy="1548.28" r="8.50" fill="#B9D9E9"/>
<circle cx="1099.58" cy="1548.28" r="4.50" fill="#B9D9E9"/>
<circle cx="1136.72" cy="1548.28" r="3.50" fill="#B9D9E9"/>
<circle cx="1173.86" cy="1548.28" r="6.50" fill="#D6ECF4"/>
<circle cx="1211.00" cy="1548.28" r="8.50" fill="#F5FAD5"/>
<circle cx="1248.14" cy="1548.28" r="8.50" fill="#E4F4F2"/>
<circle cx="1285.28" cy="1548.28" r="6.50" fill="#F5FAD5"/>
<circle cx="1322.42" cy="1548.28" r="8.50" fill="#F5FAD5"/>
<circle cx="1359.56" cy="1548.28" r="8.50" fill="#FFD689"/>
<circle cx="1396.70" cy="1548.28" r="8.50" fill="#FFF3AD"/>
<circle cx="1433.84" cy="1548.28" r="8.50" fill="#FFE89C"/>
<circle cx="1470.98" cy="1548.28" r="8.50" fill="#FFE89C"/>
<circle cx="1508.12" cy="1548.28" r="9.50" fill="#FFB774"/>
<circle cx="1545.26" cy="1548.28" r="9.50" fill="#D73027"/>
<circle cx="1582.40" cy="1548.28" r="9.50" fill="#FFE89C"/>
<circle cx="1619.54" cy="1548.28" r="8.50" fill="#F5FAD5"/>
<circle cx="1656.68" cy="1548.28" r="8.50" fill="#D73027"/>
<circle cx="1693.82" cy="1548.28" r="9.50" fill="#FFD689"/>
<circle cx="1730.96" cy="1548.28" r="8.50" fill="#E65839"/>
<circle cx="1768.10" cy="1548.28" r="9.50" fill="#D73027"/>
<circle cx="1805.24" cy="1548.28" r="9.50" fill="#F3784C"/>
<circle cx="282.50" cy="1587.45" r="13.50" fill="#FFD689"/>
<circle cx="319.64" cy="1587.45" r="13.50" fill="#FD9860"/>
<circle cx="356.78" cy="1587.45" r="12.50" fill="#D73027"/>
<circle cx="393.92" cy="1587.45" r="11.50" fill="#F5FAD5"/>
<circle cx="431.06" cy="1587.45" r="8.50" fill="#9BC5DF"/>
<circle cx="468.20" cy="1587.45" r="10.50" fill="#9BC5DF"/>
<circle cx="505.34" cy="1587.45" r="13.50" fill="#FFFFBF"/>
<circle cx="542.48" cy="1587.45" r="12.50" fill="#FFE89C"/>
<circle cx="579.62" cy="1587.45" r="12.50" fill="#FFFFBF"/>
<circle cx="616.76" cy="1587.45" r="10.50" fill="#D6ECF4"/>
<circle cx="653.90" cy="1587.45" r="10.50" fill="#D6ECF4"/>
<circle cx="691.04" cy="1587.45" r="10.50" fill="#F5FAD5"/>
<circle cx="728.18" cy="1587.45" r="13.50" fill="#FFE89C"/>
<circle cx="765.32" cy="1587.45" r="13.50" fill="#FFD689"/>
<circle cx="802.46" cy="1587.45" r="13.50" fill="#FFE89C"/>
<circle cx="839.60" cy="1587.45" r="10.50" fill="#B9D9E9"/>
<circle cx="876.74" cy="1587.45" r="10.50" fill="#D6ECF4"/>
<circle cx="913.88" cy="1587.45" r="10.50" fill="#E4F4F2"/>
<circle cx="951.02" cy="1587.45" r="13.50" fill="#FFE89C"/>
<circle cx="988.16" cy="1587.45" r="11.50" fill="#FFF3AD"/>
<circle cx="1025.30" cy="1587.45" r="3.50" fill="#4575B4"/>
<circle cx="1062.44" cy="1587.45" r="13.50" fill="#FFF3AD"/>
<circle cx="1099.58" cy="1587.45" r="11.50" fill="#F5FAD5"/>
<circle cx="1136.72" cy="1587.45" r="9.50" fill="#F5FAD5"/>
<circle cx="1173.86" cy="1587.45" r="10.50" fill="#9BC5DF"/>
<circle cx="1211.00" cy="1587.45" r="9.50" fill="#6490C3"/>
<circle cx="1248.14" cy="1587.45" r="9.50" fill="#6490C3"/>
<circle cx="1285.28" cy="1587.45" r="9.50" fill="#9BC5DF"/>
<circle cx="1322.42" cy="1587.45" r="12.50" fill="#F5FAD5"/>
<circle cx="1359.56" cy="1587.45" r="13.50" fill="#FFD689"/>
<circle cx="1396.70" cy="1587.45" r="13.50" fill="#FFB774"/>
<circle cx="1433.84" cy="1587.45" r="13.50" fill="#FFB774"/>
<circle cx="1470.98" cy="1587.45" r="13.50" fill="#FFB774"/>
<circle cx="1508.12" cy="1587.45" r="13.50" fill="#FFE89C"/>
<circle cx="1545.26" cy="1587.45" r="12.50" fill="#FFE89C"/>
<circle cx="1582.40" cy="1587.45" r="12.50" fill="#FFF3AD"/>
<circle cx="1619.54" cy="1587.45" r="13.50" fill="#FFF3AD"/>
<circle cx="1656.68" cy="1587.45" r="13.50" fill="#FFD689"/>
<circle cx="1693.82" cy="1587.45" r="13.50" fill="#FD9860"/>
<circle cx="1730.96" cy="1587.45" r="13.50" fill="#F3784C"/>
<circle cx="1768.10" cy="1587.45" r="13.50" fill="#FFF3AD"/>
<circle cx="1805.24" cy="1587.45" r="13.50" fill="#FFF3AD"/>
<circle cx="282.50" cy="1626.62" r="10.50" fill="#FFE89C"/>
<circle cx="319.64" cy="1626.62" r="10.50" fill="#FFF3AD"/>
<circle cx="356.78" cy="1626.62" r="10.50" fill="#F3784C"/>
<circle cx="393.92" cy="1626.62" r="10.50" fill="#FFE89C"/>
<circle cx="431.06" cy="1626.62" r="3.50" fill="#4575B4"/>
<circle cx="468.20" cy="1626.62" r="10.50" fill="#FFFFBF"/>
<circle cx="505.34" cy="1626.62" r="10.50" fill="#F5FAD5"/>
<circle cx="542.48" cy="1626.62" r="10.50" fill="#E4F4F2"/>
<circle cx="579.62" cy="1626.62" r="10.50" fill="#F5FAD5"/>
<circle cx="616.76" cy="1626.62" r="8.50" fill="#E4F4F2"/>
<circle cx="653.90" cy="1626.62" r="8.50" fill="#E4F4F2"/>
<circle cx="691.04" cy="1626.62" r="8.50" fill="#D6ECF4"/>
<circle cx="728.18" cy="1626.62" r="9.50" fill="#E4F4F2"/>
<circle cx="765.32" cy="1626.62" r="9.50" fill="#D6ECF4"/>
<circle cx="802.46" cy="1626.62" r="9.50" fill="#E4F4F2"/>
<circle cx="839.60" cy="1626.62" r="8.50" fill="#E4F4F2"/>
<circle cx="876.74" cy="1626.62" r="8.50" fill="#E4F4F2"/>
<circle cx="913.88" cy="1626.62" r="8.50" fill="#E4F4F2"/>
<circle cx="951.02" cy="1626.62" r="11.50" fill="#FFD689"/>
<circle cx="988.16" cy="1626.62" r="7.50" fill="#E4F4F2"/>
<circle cx="1025.30" cy="1626.62" r="3.50" fill="#4575B4"/>
<circle cx="1062.44" cy="1626.62" r="10.50" fill="#F5FAD5"/>
<circle cx="1099.58" cy="1626.62" r="8.50" fill="#E4F4F2"/>
<circle cx="1136.72" cy="1626.62" r="3.50" fill="#4575B4"/>
<circle cx="1173.86" cy="1626.62" r="8.50" fill="#E4F4F2"/>
<circle cx="1211.00" cy="1626.62" r="6.50" fill="#7FACD1"/>
<circle cx="1248.14" cy="1626.62" r="6.50" fill="#9BC5DF"/>
<circle cx="1285.28" cy="1626.62" r="8.50" fill="#D6ECF4"/>
<circle cx="1322.42" cy="1626.62" r="11.50" fill="#FFD689"/>
<circle cx="1359.56" cy="1626.62" r="11.50" fill="#F3784C"/>
<circle cx="1396.70" cy="1626.62" r="11.50" fill="#F3784C"/>
<circle cx="1433.84" cy="1626.62" r="11.50" fill="#D73027"/>
<circle cx="1470.98" cy="1626.62" r="11.50" fill="#FD9860"/>
<circle cx="1508.12" cy="1626.62" r="11.50" fill="#FD9860"/>
<circle cx="1545.26" cy="1626.62" r="11.50" fill="#FFF3AD"/>
<circle cx="1582.40" cy="1626.62" r="11.50" fill="#FFD689"/>
<circle cx="1619.54" cy="1626.62" r="12.50" fill="#FD9860"/>
<circle cx="1656.68" cy="1626.62" r="11.50" fill="#FFB774"/>
<circle cx="1693.82" cy="1626.62" r="11.50" fill="#FFE89C"/>
<circle cx="1730.96" cy="1626.62" r="11.50" fill="#E65839"/>
<circle cx="1768.10" cy="1626.62" r="12.50" fill="#E65839"/>
<circle cx="1805.24" cy="1626.62" r="11.50" fill="#FFF3AD"/>
<circle cx="282.50" cy="1665.79" r="3.50" fill="#B9D9E9"/>
<circle cx="319.64" cy="1665.79" r="3.50" fill="#B9D9E9"/>
<circle cx="356.78" cy="1665.79" r="4.50" fill="#FFFFBF"/>
<circle cx="393.92" cy="1665.79" r="3.50" fill="#FFD689"/>
<circle cx="431.06" cy="1665.79" r="3.50" fill="#FFD689"/>
<circle cx="468.20" cy="1665.79" r="3.50" fill="#FFFFBF"/>
<circle cx="505.34" cy="1665.79" r="4.50" fill="#D6ECF4"/>
<circle cx="542.48" cy="1665.79" r="4.50" fill="#D6ECF4"/>
<circle cx="579.62" cy="1665.79" r="4.50" fill="#D6ECF4"/>
<circle cx="616.76" cy="1665.79" r="3.50" fill="#FFD689"/>
<circle cx="653.90" cy="1665.79" r="3.50" fill="#FFE89C"/>
<circle cx="691.04" cy="1665.79" r="3.50" fill="#FFF3AD"/>
<circle cx="728.18" cy="1665.79" r="3.50" fill="#6490C3"/>
<circle cx="765.32" cy="1665.79" r="3.50" fill="#B9D9E9"/>
<circle cx="802.46" cy="1665.79" r="3.50" fill="#9BC5DF"/>
<circle cx="839.60" cy="1665.79" r="3.50" fill="#F5FAD5"/>
<circle cx="876.74" cy="1665.79" r="3.50" fill="#FFF3AD"/>
<circle cx="913.88" cy="1665.79" r="3.50" fill="#FFD689"/>
<circle cx="951.02" cy="1665.79" r="6.50" fill="#FFB774"/>
<circle cx="988.16" cy="1665.79" r="3.50" fill="#D73027"/>
<circle cx="1025.30" cy="1665.79" r="3.50" fill="#D73027"/>
<circle cx="1062.44" cy="1665.79" r="5.50" fill="#FFFFBF"/>
<circle cx="1099.58" cy="1665.79" r="3.50" fill="#FFE89C"/>
<circle cx="1136.72" cy="1665.79" r="3.50" fill="#F3784C"/>
<circle cx="1173.86" cy="1665.79" r="3.50" fill="#E4F4F2"/>
<circle cx="1211.00" cy="1665.79" r="3.50" fill="#E4F4F2"/>
<circle cx="1248.14" cy="1665.79" r="3.50" fill="#F5FAD5"/>
<circle cx="1285.28" cy="1665.79" r="3.50" fill="#B9D9E9"/>
<circle cx="1322.42" cy="1665.79" r="4.50" fill="#E4F4F2"/>
<circle cx="1359.56" cy="1665.79" r="3.50" fill="#9BC5DF"/>
<circle cx="1396.70" cy="1665.79" r="3.50" fill="#B9D9E9"/>
<circle cx="1433.84" cy="1665.79" r="3.50" fill="#D6ECF4"/>
<circle cx="1470.98" cy="1665.79" r="5.50" fill="#FFF3AD"/>
<circle cx="1508.12" cy="1665.79" r="4.50" fill="#F5FAD5"/>
<circle cx="1545.26" cy="1665.79" r="3.50" fill="#E4F4F2"/>
<circle cx="1582.40" cy="1665.79" r="3.50" fill="#D6ECF4"/>
<circle cx="1619.54" cy="1665.79" r="4.50" fill="#FFFFBF"/>
<circle cx="1656.68" cy="1665.79" r="4.50" fill="#FFF3AD"/>
<circle cx="1693.82" cy="1665.79" r="5.50" fill="#FFD689"/>
<circle cx="1730.96" cy="1665.79" r="5.50" fill="#FFD689"/>
<circle cx="1768.10" cy="1665.79" r="6.50" fill="#D73027"/>
<circle cx="1805.24" cy="1665.79" r="6.50" fill="#D73027"/>
<circle cx="282.50" cy="1704.96" r="9.50" fill="#E4F4F2"/>
<circle cx="319.64" cy="1704.96" r="9.50" fill="#E4F4F2"/>
<circle cx="356.78" cy="1704.96" r="9.50" fill="#E4F4F2"/>
<circle cx="393.92" cy="1704.96" r="10.50" fill="#F5FAD5"/>
<circle cx="431.06" cy="1704.96" r="11.50" fill="#FFFFBF"/>
<circle cx="468.20" cy="1704.96" r="11.50" fill="#E4F4F2"/>
<circle cx="505.34" cy="1704.96" r="10.50" fill="#E4F4F2"/>
<circle cx="542.48" cy="1704.96" r="10.50" fill="#E4F4F2"/>
<circle cx="579.62" cy="1704.96" r="10.50" fill="#E4F4F2"/>
<circle cx="616.76" cy="1704.96" r="11.50" fill="#FFF3AD"/>
<circle cx="653.90" cy="1704.96" r="11.50" fill="#FFF3AD"/>
<circle cx="691.04" cy="1704.96" r="10.50" fill="#FFFFBF"/>
<circle cx="728.18" cy="1704.96" r="10.50" fill="#E4F4F2"/>
<circle cx="765.32" cy="1704.96" r="10.50" fill="#E4F4F2"/>
<circle cx="802.46" cy="1704.96" r="11.50" fill="#E4F4F2"/>
<circle cx="839.60" cy="1704.96" r="10.50" fill="#FFFFBF"/>
<circle cx="876.74" cy="1704.96" r="10.50" fill="#F5FAD5"/>
<circle cx="913.88" cy="1704.96" r="10.50" fill="#F5FAD5"/>
<circle cx="951.02" cy="1704.96" r="11.50" fill="#E4F4F2"/>
<circle cx="988.16" cy="1704.96" r="8.50" fill="#E4F4F2"/>
<circle cx="1025.30" cy="1704.96" r="9.50" fill="#F5FAD5"/>
<circle cx="1062.44" cy="1704.96" r="10.50" fill="#E4F4F2"/>
<circle cx="1099.58" cy="1704.96" r="9.50" fill="#F5FAD5"/>
<circle cx="1136.72" cy="1704.96" r="3.50" fill="#D6ECF4"/>
<circle cx="1173.86" cy="1704.96" r="14.50" fill="#D73027"/>
<circle cx="1211.00" cy="1704.96" r="13.50" fill="#E65839"/>
<circle cx="1248.14" cy="1704.96" r="13.50" fill="#D73027"/>
<circle cx="1285.28" cy="1704.96" r="14.50" fill="#D73027"/>
<circle cx="1322.42" cy="1704.96" r="11.50" fill="#E4F4F2"/>
<circle cx="1359.56" cy="1704.96" r="11.50" fill="#F5FAD5"/>
<circle cx="1396.70" cy="1704.96" r="12.50" fill="#FFF3AD"/>
<circle cx="1433.84" cy="1704.96" r="10.50" fill="#E4F4F2"/>
<circle cx="1470.98" cy="1704.96" r="11.50" fill="#E4F4F2"/>
<circle cx="1508.12" cy="1704.96" r="11.50" fill="#E4F4F2"/>
<circle cx="1545.26" cy="1704.96" r="12.50" fill="#FFFFBF"/>
<circle cx="1582.40" cy="1704.96" r="12.50" fill="#F5FAD5"/>
<circle cx="1619.54" cy="1704.96" r="12.50" fill="#FFFFBF"/>
<circle cx="1656.68" cy="1704.96" r="12.50" fill="#FFF3AD"/>
<circle cx="1693.82" cy="1704.96" r="12.50" fill="#FFFFBF"/>
<circle cx="1730.96" cy="1704.96" r="11.50" fill="#FFFFBF"/>
<circle cx="1768.10" cy="1704.96" r="12.50" fill="#FFE89C"/>
<circle cx="1805.24" cy="1704.96" r="12.50" fill="#FFF3AD"/>
<circle cx="282.50" cy="1744.13" r="3.50" fill="#B9D9E9"/>
<circle cx="319.64" cy="1744.13" r="3.50" fill="#B9D9E9"/>
<circle cx="356.78" cy="1744.13" r="3.50" fill="#B9D9E9"/>
<circle cx="393.92" cy="1744.13" r="3.50" fill="#E4F4F2"/>
<circle cx="431.06" cy="1744.13" r="3.50" fill="#D6ECF4"/>
<circle cx="468.20" cy="1744.13" r="3.50" fill="#D6ECF4"/>
<circle cx="505.34" cy="1744.13" r="5.50" fill="#E4F4F2"/>
<circle cx="542.48" cy="1744.13" r="5.50" fill="#F5FAD5"/>
<circle cx="579.62" cy="1744.13" r="5.50" fill="#F5FAD5"/>
<circle cx="616.76" cy="1744.13" r="3.50" fill="#E4F4F2"/>
<circle cx="653.90" cy="1744.13" r="3.50" fill="#F5FAD5"/>
<circle cx="691.04" cy="1744.13" r="3.50" fill="#FFF3AD"/>
<circle cx="728.18" cy="1744.13" r="5.50" fill="#FFE89C"/>
<circle cx="765.32" cy="1744.13" r="4.50" fill="#D6ECF4"/>
<circle cx="802.46" cy="1744.13" r="5.50" fill="#F5FAD5"/>
<circle cx="839.60" cy="1744.13" r="3.50" fill="#FFFFBF"/>
<circle cx="876.74" cy="1744.13" r="3.50" fill="#FFFFBF"/>
<circle cx="913.88" cy="1744.13" r="3.50" fill="#E4F4F2"/>
<circle cx="951.02" cy="1744.13" r="5.50" fill="#D6ECF4"/>
<circle cx="988.16" cy="1744.13" r="3.50" fill="#E4F4F2"/>
<circle cx="1025.30" cy="1744.13" r="3.50" fill="#F5FAD5"/>
<circle cx="1062.44" cy="1744.13" r="6.50" fill="#F5FAD5"/>
<circle cx="1099.58" cy="1744.13" r="3.50" fill="#F5FAD5"/>
<circle cx="1136.72" cy="1744.13" r="3.50" fill="#FFD689"/>
<circle cx="1173.86" cy="1744.13" r="3.50" fill="#B9D9E9"/>
<circle cx="1211.00" cy="1744.13" r="3.50" fill="#F5FAD5"/>
<circle cx="1248.14" cy="1744.13" r="3.50" fill="#B9D9E9"/>
<circle cx="1285.28" cy="1744.13" r="3.50" fill="#FFFFBF"/>
<circle cx="1322.42" cy="1744.13" r="3.50" fill="#B9D9E9"/>
<circle cx="1359.56" cy="1744.13" r="7.50" fill="#D73027"/>
<circle cx="1396.70" cy="1744.13" r="6.50" fill="#FFE89C"/>
<circle cx="1433.84" cy="1744.13" r="7.50" fill="#D73027"/>
<circle cx="1470.98" cy="1744.13" r="4.50" fill="#E4F4F2"/>
<circle cx="1508.12" cy="1744.13" r="4.50" fill="#E4F4F2"/>
<circle cx="1545.26" cy="1744.13" r="5.50" fill="#FFD689"/>
<circle cx="1582.40" cy="1744.13" r="5.50" fill="#FFFFBF"/>
<circle cx="1619.54" cy="1744.13" r="7.50" fill="#D73027"/>
<circle cx="1656.68" cy="1744.13" r="7.50" fill="#D73027"/>
<circle cx="1693.82" cy="1744.13" r="6.50" fill="#F3784C"/>
<circle cx="1730.96" cy="1744.13" r="6.50" fill="#FFF3AD"/>
<circle cx="1768.10" cy="1744.13" r="6.50" fill="#FFF3AD"/>
<circle cx="1805.24" cy="1744.13" r="6.50" fill="#F3784C"/>
<circle cx="282.50" cy="1783.30" r="10.50" fill="#F5FAD5"/>
<circle cx="319.64" cy="1783.30" r="10.50" fill="#E4F4F2"/>
<circle cx="356.78" cy="1783.30" r="9.50" fill="#E4F4F2"/>
<circle cx="393.92" cy="1783.30" r="9.50" fill="#D6ECF4"/>
<circle cx="431.06" cy="1783.30" r="10.50" fill="#FFB774"/>
<circle cx="468.20" cy="1783.30" r="8.50" fill="#B9D9E9"/>
<circle cx="505.34" cy="1783.30" r="11.50" fill="#F5FAD5"/>
<circle cx="542.48" cy="1783.30" r="11.50" fill="#FFF3AD"/>
<circle cx="579.62" cy="1783.30" r="11.50" fill="#F5FAD5"/>
<circle cx="616.76" cy="1783.30" r="8.50" fill="#D6ECF4"/>
<circle cx="653.90" cy="1783.30" r="8.50" fill="#D6ECF4"/>
<circle cx="691.04" cy="1783.30" r="8.50" fill="#E4F4F2"/>
<circle cx="728.18" cy="1783.30" r="11.50" fill="#FFB774"/>
<circle cx="765.32" cy="1783.30" r="11.50" fill="#FFE89C"/>
<circle cx="802.46" cy="1783.30" r="11.50" fill="#F5FAD5"/>
<circle cx="839.60" cy="1783.30" r="6.50" fill="#D6ECF4"/>
<circle cx="876.74" cy="1783.30" r="6.50" fill="#B9D9E9"/>
<circle cx="913.88" cy="1783.30" r="6.50" fill="#B9D9E9"/>
<circle cx="951.02" cy="1783.30" r="12.50" fill="#FFD689"/>
<circle cx="988.16" cy="1783.30" r="7.50" fill="#E4F4F2"/>
<circle cx="1025.30" cy="1783.30" r="3.50" fill="#9BC5DF"/>
<circle cx="1062.44" cy="1783.30" r="13.50" fill="#D73027"/>
<circle cx="1099.58" cy="1783.30" r="10.50" fill="#FFE89C"/>
<circle cx="1136.72" cy="1783.30" r="8.50" fill="#F5FAD5"/>
<circle cx="1173.86" cy="1783.30" r="8.50" fill="#E4F4F2"/>
<circle cx="1211.00" cy="1783.30" r="8.50" fill="#F5FAD5"/>
<circle cx="1248.14" cy="1783.30" r="8.50" fill="#F5FAD5"/>
<circle cx="1285.28" cy="1783.30" r="8.50" fill="#E4F4F2"/>
<circle cx="1322.42" cy="1783.30" r="12.50" fill="#FD9860"/>
<circle cx="1359.56" cy="1783.30" r="9.50" fill="#D6ECF4"/>
<circle cx="1396.70" cy="1783.30" r="10.50" fill="#FFD689"/>
<circle cx="1433.84" cy="1783.30" r="10.50" fill="#E4F4F2"/>
<circle cx="1470.98" cy="1783.30" r="11.50" fill="#F5FAD5"/>
<circle cx="1508.12" cy="1783.30" r="11.50" fill="#FFB774"/>
<circle cx="1545.26" cy="1783.30" r="12.50" fill="#D73027"/>
<circle cx="1582.40" cy="1783.30" r="12.50" fill="#FFF3AD"/>
<circle cx="1619.54" cy="1783.30" r="11.50" fill="#F5FAD5"/>
<circle cx="1656.68" cy="1783.30" r="11.50" fill="#FFD689"/>
<circle cx="1693.82" cy="1783.30" r="12.50" fill="#FFD689"/>
<circle cx="1730.96" cy="1783.30" r="11.50" fill="#FFFFBF"/>
<circle cx="1768.10" cy="1783.30" r="12.50" fill="#FFFFBF"/>
<circle cx="1805.24" cy="1783.30" r="11.50" fill="#FFE89C"/>
<circle cx="282.50" cy="1822.47" r="13.50" fill="#F3784C"/>
<circle cx="319.64" cy="1822.47" r="13.50" fill="#FD9860"/>
<circle cx="356.78" cy="1822.47" r="12.50" fill="#FFB774"/>
<circle cx="393.92" cy="1822.47" r="10.50" fill="#FFFFBF"/>
<circle cx="431.06" cy="1822.47" r="3.50" fill="#4575B4"/>
<circle cx="468.20" cy="1822.47" r="8.50" fill="#4575B4"/>
<circle cx="505.34" cy="1822.47" r="13.50" fill="#FFD689"/>
<circle cx="542.48" cy="1822.47" r="13.50" fill="#FD9860"/>
<circle cx="579.62" cy="1822.47" r="13.50" fill="#FD9860"/>
<circle cx="616.76" cy="1822.47" r="9.50" fill="#B9D9E9"/>
<circle cx="653.90" cy="1822.47" r="9.50" fill="#D6ECF4"/>
<circle cx="691.04" cy="1822.47" r="9.50" fill="#D6ECF4"/>
<circle cx="728.18" cy="1822.47" r="13.50" fill="#FFE89C"/>
<circle cx="765.32" cy="1822.47" r="13.50" fill="#FFB774"/>
<circle cx="802.46" cy="1822.47" r="13.50" fill="#FD9860"/>
<circle cx="839.60" cy="1822.47" r="10.50" fill="#D6ECF4"/>
<circle cx="876.74" cy="1822.47" r="10.50" fill="#E4F4F2"/>
<circle cx="913.88" cy="1822.47" r="10.50" fill="#E4F4F2"/>
<circle cx="951.02" cy="1822.47" r="13.50" fill="#FFD689"/>
<circle cx="988.16" cy="1822.47" r="11.50" fill="#FFE89C"/>
<circle cx="1025.30" cy="1822.47" r="3.50" fill="#4575B4"/>
<circle cx="1062.44" cy="1822.47" r="12.50" fill="#FFE89C"/>
<circle cx="1099.58" cy="1822.47" r="10.50" fill="#F5FAD5"/>
<circle cx="1136.72" cy="1822.47" r="3.50" fill="#4575B4"/>
<circle cx="1173.86" cy="1822.47" r="11.50" fill="#E4F4F2"/>
<circle cx="1211.00" cy="1822.47" r="11.50" fill="#F5FAD5"/>
<circle cx="1248.14" cy="1822.47" r="11.50" fill="#FFE89C"/>
<circle cx="1285.28" cy="1822.47" r="10.50" fill="#D6ECF4"/>
<circle cx="1322.42" cy="1822.47" r="12.50" fill="#FFB774"/>
<circle cx="1359.56" cy="1822.47" r="11.50" fill="#D6ECF4"/>
<circle cx="1396.70" cy="1822.47" r="12.50" fill="#F5FAD5"/>
<circle cx="1433.84" cy="1822.47" r="11.50" fill="#E4F4F2"/>
<circle cx="1470.98" cy="1822.47" r="12.50" fill="#FFE89C"/>
<circle cx="1508.12" cy="1822.47" r="12.50" fill="#FFFFBF"/>
<circle cx="1545.26" cy="1822.47" r="12.50" fill="#FFD689"/>
<circle cx="1582.40" cy="1822.47" r="12.50" fill="#FFD689"/>
<circle cx="1619.54" cy="1822.47" r="13.50" fill="#FFD689"/>
<circle cx="1656.68" cy="1822.47" r="12.50" fill="#FFE89C"/>
<circle cx="1693.82" cy="1822.47" r="12.50" fill="#FFFFBF"/>
<circle cx="1730.96" cy="1822.47" r="12.50" fill="#FFD689"/>
<circle cx="1768.10" cy="1822.47" r="13.50" fill="#FD9860"/>
<circle cx="1805.24" cy="1822.47" r="13.50" fill="#FFE89C"/>
<circle cx="282.50" cy="1861.64" r="3.50" fill="#E4F4F2"/>
<circle cx="319.64" cy="1861.64" r="3.50" fill="#E4F4F2"/>
<circle cx="356.78" cy="1861.64" r="3.50" fill="#E4F4F2"/>
<circle cx="393.92" cy="1861.64" r="3.50" fill="#F5FAD5"/>
<circle cx="431.06" cy="1861.64" r="3.50" fill="#F5FAD5"/>
<circle cx="468.20" cy="1861.64" r="3.50" fill="#E4F4F2"/>
<circle cx="505.34" cy="1861.64" r="5.50" fill="#F5FAD5"/>
<circle cx="542.48" cy="1861.64" r="5.50" fill="#F5FAD5"/>
<circle cx="579.62" cy="1861.64" r="5.50" fill="#F5FAD5"/>
<circle cx="616.76" cy="1861.64" r="3.50" fill="#F5FAD5"/>
<circle cx="653.90" cy="1861.64" r="3.50" fill="#F5FAD5"/>
<circle cx="691.04" cy="1861.64" r="3.50" fill="#F5FAD5"/>
<circle cx="728.18" cy="1861.64" r="4.50" fill="#F5FAD5"/>
<circle cx="765.32" cy="1861.64" r="4.50" fill="#F5FAD5"/>
<circle cx="802.46" cy="1861.64" r="5.50" fill="#F5FAD5"/>
<circle cx="839.60" cy="1861.64" r="3.50" fill="#F5FAD5"/>
<circle cx="876.74" cy="1861.64" r="3.50" fill="#F5FAD5"/>
<circle cx="913.88" cy="1861.64" r="3.50" fill="#F5FAD5"/>
<circle cx="951.02" cy="1861.64" r="3.50" fill="#E4F4F2"/>
<circle cx="988.16" cy="1861.64" r="3.50" fill="#F5FAD5"/>
<circle cx="1025.30" cy="1861.64" r="3.50" fill="#F5FAD5"/>
<circle cx="1062.44" cy="1861.64" r="5.50" fill="#E4F4F2"/>
<circle cx="1099.58" cy="1861.64" r="3.50" fill="#F5FAD5"/>
<circle cx="1136.72" cy="1861.64" r="3.50" fill="#FFFFBF"/>
<circle cx="1173.86" cy="1861.64" r="3.50" fill="#F5FAD5"/>
<circle cx="1211.00" cy="1861.64" r="3.50" fill="#FFFFBF"/>
<circle cx="1248.14" cy="1861.64" r="3.50" fill="#F5FAD5"/>
<circle cx="1285.28" cy="1861.64" r="3.50" fill="#F5FAD5"/>
<circle cx="1322.42" cy="1861.64" r="6.50" fill="#FFFFBF"/>
<circle cx="1359.56" cy="1861.64" r="4.50" fill="#F5FAD5"/>
<circle cx="1396.70" cy="1861.64" r="3.50" fill="#E4F4F2"/>
<circle cx="1433.84" cy="1861.64" r="4.50" fill="#F5FAD5"/>
<circle cx="1470.98" cy="1861.64" r="3.50" fill="#E4F4F2"/>
<circle cx="1508.12" cy="1861.64" r="3.50" fill="#E4F4F2"/>
<circle cx="1545.26" cy="1861.64" r="4.50" fill="#F5FAD5"/>
<circle cx="1582.40" cy="1861.64" r="4.50" fill="#F5FAD5"/>
<circle cx="1619.54" cy="1861.64" r="7.50" fill="#FFD689"/>
<circle cx="1656.68" cy="1861.64" r="7.50" fill="#FFD689"/>
<circle cx="1693.82" cy="1861.64" r="7.50" fill="#FFD689"/>
<circle cx="1730.96" cy="1861.64" r="7.50" fill="#FFB774"/>
<circle cx="1768.10" cy="1861.64" r="9.50" fill="#D73027"/>
<circle cx="1805.24" cy="1861.64" r="9.50" fill="#D73027"/>
<circle cx="282.50" cy="1900.81" r="3.50" fill="#F5FAD5"/>
<circle cx="319.64" cy="1900.81" r="3.50" fill="#F5FAD5"/>
<circle cx="356.78" cy="1900.81" r="4.50" fill="#E4F4F2"/>
<circle cx="393.92" cy="1900.81" r="3.50" fill="#F5FAD5"/>
<circle cx="431.06" cy="1900.81" r="3.50" fill="#F5FAD5"/>
<circle cx="468.20" cy="1900.81" r="4.50" fill="#F5FAD5"/>
<circle cx="505.34" cy="1900.81" r="3.50" fill="#E4F4F2"/>
<circle cx="542.48" cy="1900.81" r="3.50" fill="#F5FAD5"/>
<circle cx="579.62" cy="1900.81" r="3.50" fill="#E4F4F2"/>
<circle cx="616.76" cy="1900.81" r="3.50" fill="#F5FAD5"/>
<circle cx="653.90" cy="1900.81" r="3.50" fill="#F5FAD5"/>
<circle cx="691.04" cy="1900.81" r="3.50" fill="#F5FAD5"/>
<circle cx="728.18" cy="1900.81" r="3.50" fill="#E4F4F2"/>
<circle cx="765.32" cy="1900.81" r="3.50" fill="#E4F4F2"/>
<circle cx="802.46" cy="1900.81" r="3.50" fill="#F5FAD5"/>
<circle cx="839.60" cy="1900.81" r="3.50" fill="#F5FAD5"/>
<circle cx="876.74" cy="1900.81" r="3.50" fill="#F5FAD5"/>
<circle cx="913.88" cy="1900.81" r="3.50" fill="#F5FAD5"/>
<circle cx="951.02" cy="1900.81" r="3.50" fill="#E4F4F2"/>
<circle cx="988.16" cy="1900.81" r="3.50" fill="#F5FAD5"/>
<circle cx="1025.30" cy="1900.81" r="3.50" fill="#F5FAD5"/>
<circle cx="1062.44" cy="1900.81" r="3.50" fill="#E4F4F2"/>
<circle cx="1099.58" cy="1900.81" r="3.50" fill="#F5FAD5"/>
<circle cx="1136.72" cy="1900.81" r="3.50" fill="#FFFFBF"/>
<circle cx="1173.86" cy="1900.81" r="4.50" fill="#F5FAD5"/>
<circle cx="1211.00" cy="1900.81" r="7.50" fill="#FFFFBF"/>
<circle cx="1248.14" cy="1900.81" r="7.50" fill="#FFF3AD"/>
<circle cx="1285.28" cy="1900.81" r="6.50" fill="#E4F4F2"/>
<circle cx="1322.42" cy="1900.81" r="9.50" fill="#FFE89C"/>
<circle cx="1359.56" cy="1900.81" r="3.50" fill="#E4F4F2"/>
<circle cx="1396.70" cy="1900.81" r="3.50" fill="#E4F4F2"/>
<circle cx="1433.84" cy="1900.81" r="3.50" fill="#E4F4F2"/>
<circle cx="1470.98" cy="1900.81" r="5.50" fill="#F5FAD5"/>
<circle cx="1508.12" cy="1900.81" r="5.50" fill="#F5FAD5"/>
<circle cx="1545.26" cy="1900.81" r="5.50" fill="#E4F4F2"/>
<circle cx="1582.40" cy="1900.81" r="5.50" fill="#F5FAD5"/>
<circle cx="1619.54" cy="1900.81" r="9.50" fill="#FFD689"/>
<circle cx="1656.68" cy="1900.81" r="8.50" fill="#FFF3AD"/>
<circle cx="1693.82" cy="1900.81" r="8.50" fill="#FFF3AD"/>
<circle cx="1730.96" cy="1900.81" r="8.50" fill="#FFD689"/>
<circle cx="1768.10" cy="1900.81" r="12.50" fill="#D73027"/>
<circle cx="1805.24" cy="1900.81" r="12.50" fill="#D73027"/>
<circle cx="282.50" cy="1939.98" r="3.50" fill="#6490C3"/>
<circle cx="319.64" cy="1939.98" r="3.50" fill="#6490C3"/>
<circle cx="356.78" cy="1939.98" r="6.50" fill="#F5FAD5"/>
<circle cx="393.92" cy="1939.98" r="3.50" fill="#7FACD1"/>
<circle cx="431.06" cy="1939.98" r="3.50" fill="#9BC5DF"/>
<circle cx="468.20" cy="1939.98" r="8.50" fill="#FFD689"/>
<circle cx="505.34" cy="1939.98" r="7.50" fill="#D6ECF4"/>
<circle cx="542.48" cy="1939.98" r="7.50" fill="#E4F4F2"/>
<circle cx="579.62" cy="1939.98" r="7.50" fill="#F5FAD5"/>
<circle cx="616.76" cy="1939.98" r="8.50" fill="#FFB774"/>
<circle cx="653.90" cy="1939.98" r="8.50" fill="#F3784C"/>
<circle cx="691.04" cy="1939.98" r="8.50" fill="#E65839"/>
<circle cx="728.18" cy="1939.98" r="7.50" fill="#E4F4F2"/>
<circle cx="765.32" cy="1939.98" r="7.50" fill="#FFFFBF"/>
<circle cx="802.46" cy="1939.98" r="7.50" fill="#FFFFBF"/>
<circle cx="839.60" cy="1939.98" r="6.50" fill="#E4F4F2"/>
<circle cx="876.74" cy="1939.98" r="6.50" fill="#F5FAD5"/>
<circle cx="913.88" cy="1939.98" r="6.50" fill="#FFD689"/>
<circle cx="951.02" cy="1939.98" r="7.50" fill="#FFD689"/>
<circle cx="988.16" cy="1939.98" r="3.50" fill="#B9D9E9"/>
<circle cx="1025.30" cy="1939.98" r="3.50" fill="#D6ECF4"/>
<circle cx="1062.44" cy="1939.98" r="7.50" fill="#F5FAD5"/>
<circle cx="1099.58" cy="1939.98" r="6.50" fill="#E65839"/>
<circle cx="1136.72" cy="1939.98" r="3.50" fill="#D6ECF4"/>
<circle cx="1173.86" cy="1939.98" r="7.50" fill="#FFF3AD"/>
<circle cx="1211.00" cy="1939.98" r="3.50" fill="#7FACD1"/>
<circle cx="1248.14" cy="1939.98" r="3.50" fill="#6490C3"/>
<circle cx="1285.28" cy="1939.98" r="7.50" fill="#FFF3AD"/>
<circle cx="1322.42" cy="1939.98" r="8.50" fill="#FFF3AD"/>
<circle cx="1359.56" cy="1939.98" r="7.50" fill="#FFFFBF"/>
<circle cx="1396.70" cy="1939.98" r="7.50" fill="#F5FAD5"/>
<circle cx="1433.84" cy="1939.98" r="7.50" fill="#FFD689"/>
<circle cx="1470.98" cy="1939.98" r="8.50" fill="#FFB774"/>
<circle cx="1508.12" cy="1939.98" r="8.50" fill="#FFE89C"/>
<circle cx="1545.26" cy="1939.98" r="7.50" fill="#E4F4F2"/>
<circle cx="1582.40" cy="1939.98" r="7.50" fill="#FFF3AD"/>
<circle cx="1619.54" cy="1939.98" r="8.50" fill="#E65839"/>
<circle cx="1656.68" cy="1939.98" r="8.50" fill="#FD9860"/>
<circle cx="1693.82" cy="1939.98" r="8.50" fill="#FFD689"/>
<circle cx="1730.96" cy="1939.98" r="8.50" fill="#FFFFBF"/>
<circle cx="1768.10" cy="1939.98" r="9.50" fill="#FD9860"/>
<circle cx="1805.24" cy="1939.98" r="9.50" fill="#D73027"/>
<circle cx="282.50" cy="1979.15" r="12.50" fill="#D6ECF4"/>
<circle cx="319.64" cy="1979.15" r="12.50" fill="#E4F4F2"/>
<circle cx="356.78" cy="1979.15" r="11.50" fill="#D6ECF4"/>
<circle cx="393.92" cy="1979.15" r="11.50" fill="#9BC5DF"/>
<circle cx="431.06" cy="1979.15" r="10.50" fill="#E4F4F2"/>
<circle cx="468.20" cy="1979.15" r="11.50" fill="#F5FAD5"/>
<circle cx="505.34" cy="1979.15" r="12.50" fill="#E4F4F2"/>
<circle cx="542.48" cy="1979.15" r="12.50" fill="#FFE89C"/>
<circle cx="579.62" cy="1979.15" r="12.50" fill="#FFFFBF"/>
<circle cx="616.76" cy="1979.15" r="10.50" fill="#B9D9E9"/>
<circle cx="653.90" cy="1979.15" r="10.50" fill="#D6ECF4"/>
<circle cx="691.04" cy="1979.15" r="10.50" fill="#E4F4F2"/>
<circle cx="728.18" cy="1979.15" r="12.50" fill="#D6ECF4"/>
<circle cx="765.32" cy="1979.15" r="12.50" fill="#FFD689"/>
<circle cx="802.46" cy="1979.15" r="12.50" fill="#FFF3AD"/>
<circle cx="839.60" cy="1979.15" r="10.50" fill="#B9D9E9"/>
<circle cx="876.74" cy="1979.15" r="10.50" fill="#F5FAD5"/>
<circle cx="913.88" cy="1979.15" r="10.50" fill="#FFF3AD"/>
<circle cx="951.02" cy="1979.15" r="12.50" fill="#FFFFBF"/>
<circle cx="988.16" cy="1979.15" r="9.50" fill="#B9D9E9"/>
<circle cx="1025.30" cy="1979.15" r="11.50" fill="#D73027"/>
<circle cx="1062.44" cy="1979.15" r="12.50" fill="#FFE89C"/>
<circle cx="1099.58" cy="1979.15" r="10.50" fill="#FD9860"/>
<circle cx="1136.72" cy="1979.15" r="8.50" fill="#B9D9E9"/>
<circle cx="1173.86" cy="1979.15" r="10.50" fill="#D6ECF4"/>
<circle cx="1211.00" cy="1979.15" r="11.50" fill="#D6ECF4"/>
<circle cx="1248.14" cy="1979.15" r="11.50" fill="#F5FAD5"/>
<circle cx="1285.28" cy="1979.15" r="10.50" fill="#B9D9E9"/>
<circle cx="1322.42" cy="1979.15" r="12.50" fill="#FFF3AD"/>
<circle cx="1359.56" cy="1979.15" r="10.50" fill="#B9D9E9"/>
<circle cx="1396.70" cy="1979.15" r="10.50" fill="#FFFFBF"/>
<circle cx="1433.84" cy="1979.15" r="10.50" fill="#B9D9E9"/>
<circle cx="1470.98" cy="1979.15" r="12.50" fill="#FFB774"/>
<circle cx="1508.12" cy="1979.15" r="12.50" fill="#F3784C"/>
<circle cx="1545.26" cy="1979.15" r="12.50" fill="#FFD689"/>
<circle cx="1582.40" cy="1979.15" r="12.50" fill="#FFF3AD"/>
<circle cx="1619.54" cy="1979.15" r="12.50" fill="#FFE89C"/>
<circle cx="1656.68" cy="1979.15" r="12.50" fill="#FFB774"/>
<circle cx="1693.82" cy="1979.15" r="12.50" fill="#FFF3AD"/>
<circle cx="1730.96" cy="1979.15" r="12.50" fill="#FFD689"/>
<circle cx="1768.10" cy="1979.15" r="13.50" fill="#D73027"/>
<circle cx="1805.24" cy="1979.15" r="13.50" fill="#D73027"/>
<circle cx="282.50" cy="2018.32" r="3.50" fill="#D6ECF4"/>
<circle cx="319.64" cy="2018.32" r="3.50" fill="#D6ECF4"/>
<circle cx="356.78" cy="2018.32" r="3.50" fill="#D6ECF4"/>
<circle cx="393.92" cy="2018.32" r="3.50" fill="#E4F4F2"/>
<circle cx="431.06" cy="2018.32" r="3.50" fill="#E4F4F2"/>
<circle cx="468.20" cy="2018.32" r="3.50" fill="#D6ECF4"/>
<circle cx="505.34" cy="2018.32" r="3.50" fill="#E4F4F2"/>
<circle cx="542.48" cy="2018.32" r="3.50" fill="#E4F4F2"/>
<circle cx="579.62" cy="2018.32" r="3.50" fill="#E4F4F2"/>
<circle cx="616.76" cy="2018.32" r="4.50" fill="#FFF3AD"/>
<circle cx="653.90" cy="2018.32" r="4.50" fill="#FFF3AD"/>
<circle cx="691.04" cy="2018.32" r="4.50" fill="#FFF3AD"/>
<circle cx="728.18" cy="2018.32" r="3.50" fill="#E4F4F2"/>
<circle cx="765.32" cy="2018.32" r="3.50" fill="#E4F4F2"/>
<circle cx="802.46" cy="2018.32" r="3.50" fill="#E4F4F2"/>
<circle cx="839.60" cy="2018.32" r="3.50" fill="#F5FAD5"/>
<circle cx="876.74" cy="2018.32" r="3.50" fill="#E4F4F2"/>
<circle cx="913.88" cy="2018.32" r="3.50" fill="#F5FAD5"/>
<circle cx="951.02" cy="2018.32" r="5.50" fill="#F5FAD5"/>
<circle cx="988.16" cy="2018.32" r="3.50" fill="#FFFFBF"/>
<circle cx="1025.30" cy="2018.32" r="3.50" fill="#FFFFBF"/>
<circle cx="1062.44" cy="2018.32" r="6.50" fill="#FFFFBF"/>
<circle cx="1099.58" cy="2018.32" r="5.50" fill="#F5FAD5"/>
<circle cx="1136.72" cy="2018.32" r="3.50" fill="#FFFFBF"/>
<circle cx="1173.86" cy="2018.32" r="6.50" fill="#FFFFBF"/>
<circle cx="1211.00" cy="2018.32" r="3.50" fill="#E4F4F2"/>
<circle cx="1248.14" cy="2018.32" r="3.50" fill="#D6ECF4"/>
<circle cx="1285.28" cy="2018.32" r="6.50" fill="#FFD689"/>
<circle cx="1322.42" cy="2018.32" r="6.50" fill="#E4F4F2"/>
<circle cx="1359.56" cy="2018.32" r="3.50" fill="#E4F4F2"/>
<circle cx="1396.70" cy="2018.32" r="3.50" fill="#D6ECF4"/>
<circle cx="1433.84" cy="2018.32" r="3.50" fill="#E4F4F2"/>
<circle cx="1470.98" cy="2018.32" r="6.50" fill="#F5FAD5"/>
<circle cx="1508.12" cy="2018.32" r="6.50" fill="#F5FAD5"/>
<circle cx="1545.26" cy="2018.32" r="7.50" fill="#FD9860"/>
<circle cx="1582.40" cy="2018.32" r="7.50" fill="#FD9860"/>
<circle cx="1619.54" cy="2018.32" r="7.50" fill="#D73027"/>
<circle cx="1656.68" cy="2018.32" r="8.50" fill="#D73027"/>
<circle cx="1693.82" cy="2018.32" r="6.50" fill="#FFF3AD"/>
<circle cx="1730.96" cy="2018.32" r="6.50" fill="#FFF3AD"/>
<circle cx="1768.10" cy="2018.32" r="8.50" fill="#D73027"/>
<circle cx="1805.24" cy="2018.32" r="7.50" fill="#D73027"/>
<circle cx="282.50" cy="2057.49" r="7.50" fill="#FFE89C"/>
<circle cx="319.64" cy="2057.49" r="6.50" fill="#FFF3AD"/>
<circle cx="356.78" cy="2057.49" r="4.50" fill="#D73027"/>
<circle cx="393.92" cy="2057.49" r="5.50" fill="#FFFFBF"/>
<circle cx="431.06" cy="2057.49" r="6.50" fill="#FFE89C"/>
<circle cx="468.20" cy="2057.49" r="3.50" fill="#E4F4F2"/>
<circle cx="505.34" cy="2057.49" r="6.50" fill="#E4F4F2"/>
<circle cx="542.48" cy="2057.49" r="6.50" fill="#E4F4F2"/>
<circle cx="579.62" cy="2057.49" r="6.50" fill="#E4F4F2"/>
<circle cx="616.76" cy="2057.49" r="4.50" fill="#F5FAD5"/>
<circle cx="653.90" cy="2057.49" r="5.50" fill="#E4F4F2"/>
<circle cx="691.04" cy="2057.49" r="5.50" fill="#E4F4F2"/>
<circle cx="728.18" cy="2057.49" r="6.50" fill="#E4F4F2"/>
<circle cx="765.32" cy="2057.49" r="6.50" fill="#E4F4F2"/>
<circle cx="802.46" cy="2057.49" r="6.50" fill="#E4F4F2"/>
<circle cx="839.60" cy="2057.49" r="5.50" fill="#F5FAD5"/>
<circle cx="876.74" cy="2057.49" r="5.50" fill="#F5FAD5"/>
<circle cx="913.88" cy="2057.49" r="5.50" fill="#E4F4F2"/>
<circle cx="951.02" cy="2057.49" r="7.50" fill="#F5FAD5"/>
<circle cx="988.16" cy="2057.49" r="4.50" fill="#F5FAD5"/>
<circle cx="1025.30" cy="2057.49" r="6.50" fill="#FFF3AD"/>
<circle cx="1062.44" cy="2057.49" r="7.50" fill="#E4F4F2"/>
<circle cx="1099.58" cy="2057.49" r="4.50" fill="#E4F4F2"/>
<circle cx="1136.72" cy="2057.49" r="3.50" fill="#E4F4F2"/>
<circle cx="1173.86" cy="2057.49" r="6.50" fill="#E4F4F2"/>
<circle cx="1211.00" cy="2057.49" r="5.50" fill="#E4F4F2"/>
<circle cx="1248.14" cy="2057.49" r="6.50" fill="#F5FAD5"/>
<circle cx="1285.28" cy="2057.49" r="6.50" fill="#E4F4F2"/>
<circle cx="1322.42" cy="2057.49" r="11.50" fill="#D73027"/>
<circle cx="1359.56" cy="2057.49" r="6.50" fill="#F5FAD5"/>
<circle cx="1396.70" cy="2057.49" r="6.50" fill="#F5FAD5"/>
<circle cx="1433.84" cy="2057.49" r="6.50" fill="#F5FAD5"/>
<circle cx="1470.98" cy="2057.49" r="8.50" fill="#F5FAD5"/>
<circle cx="1508.12" cy="2057.49" r="8.50" fill="#FFFFBF"/>
<circle cx="1545.26" cy="2057.49" r="7.50" fill="#E4F4F2"/>
<circle cx="1582.40" cy="2057.49" r="7.50" fill="#F5FAD5"/>
<circle cx="1619.54" cy="2057.49" r="8.50" fill="#FFFFBF"/>
<circle cx="1656.68" cy="2057.49" r="8.50" fill="#FFFFBF"/>
<circle cx="1693.82" cy="2057.49" r="8.50" fill="#FFF3AD"/>
<circle cx="1730.96" cy="2057.49" r="8.50" fill="#FFFFBF"/>
<circle cx="1768.10" cy="2057.49" r="10.50" fill="#E65839"/>
<circle cx="1805.24" cy="2057.49" r="10.50" fill="#D73027"/>
<circle cx="282.50" cy="2096.66" r="6.50" fill="#9BC5DF"/>
<circle cx="319.64" cy="2096.66" r="6.50" fill="#B9D9E9"/>
<circle cx="356.78" cy="2096.66" r="9.50" fill="#FFF3AD"/>
<circle cx="393.92" cy="2096.66" r="8.50" fill="#E4F4F2"/>
<circle cx="431.06" cy="2096.66" r="3.50" fill="#B9D9E9"/>
<circle cx="468.20" cy="2096.66" r="9.50" fill="#FFD689"/>
<circle cx="505.34" cy="2096.66" r="9.50" fill="#B9D9E9"/>
<circle cx="542.48" cy="2096.66" r="9.50" fill="#D6ECF4"/>
<circle cx="579.62" cy="2096.66" r="9.50" fill="#F5FAD5"/>
<circle cx="616.76" cy="2096.66" r="8.50" fill="#B9D9E9"/>
<circle cx="653.90" cy="2096.66" r="8.50" fill="#FFF3AD"/>
<circle cx="691.04" cy="2096.66" r="8.50" fill="#D6ECF4"/>
<circle cx="728.18" cy="2096.66" r="9.50" fill="#F5FAD5"/>
<circle cx="765.32" cy="2096.66" r="9.50" fill="#B9D9E9"/>
<circle cx="802.46" cy="2096.66" r="9.50" fill="#D6ECF4"/>
<circle cx="839.60" cy="2096.66" r="9.50" fill="#FFD689"/>
<circle cx="876.74" cy="2096.66" r="9.50" fill="#E4F4F2"/>
<circle cx="913.88" cy="2096.66" r="9.50" fill="#B9D9E9"/>
<circle cx="951.02" cy="2096.66" r="10.50" fill="#E4F4F2"/>
<circle cx="988.16" cy="2096.66" r="9.50" fill="#FFD689"/>
<circle cx="1025.30" cy="2096.66" r="3.50" fill="#B9D9E9"/>
<circle cx="1062.44" cy="2096.66" r="10.50" fill="#E4F4F2"/>
<circle cx="1099.58" cy="2096.66" r="7.50" fill="#E4F4F2"/>
<circle cx="1136.72" cy="2096.66" r="8.50" fill="#FFFFBF"/>
<circle cx="1173.86" cy="2096.66" r="4.50" fill="#D6ECF4"/>
<circle cx="1211.00" cy="2096.66" r="9.50" fill="#D73027"/>
<circle cx="1248.14" cy="2096.66" r="9.50" fill="#FFD689"/>
<circle cx="1285.28" cy="2096.66" r="4.50" fill="#E4F4F2"/>
<circle cx="1322.42" cy="2096.66" r="10.50" fill="#D6ECF4"/>
<circle cx="1359.56" cy="2096.66" r="9.50" fill="#D73027"/>
<circle cx="1396.70" cy="2096.66" r="10.50" fill="#FD9860"/>
<circle cx="1433.84" cy="2096.66" r="10.50" fill="#D6ECF4"/>
<circle cx="1470.98" cy="2096.66" r="11.50" fill="#FFD689"/>
<circle cx="1508.12" cy="2096.66" r="11.50" fill="#D73027"/>
<circle cx="1545.26" cy="2096.66" r="9.50" fill="#E65839"/>
<circle cx="1582.40" cy="2096.66" r="10.50" fill="#FFF3AD"/>
<circle cx="1619.54" cy="2096.66" r="10.50" fill="#FFFFBF"/>
<circle cx="1656.68" cy="2096.66" r="10.50" fill="#FD9860"/>
<circle cx="1693.82" cy="2096.66" r="9.50" fill="#FD9860"/>
<circle cx="1730.96" cy="2096.66" r="9.50" fill="#FFFFBF"/>
<circle cx="1768.10" cy="2096.66" r="9.50" fill="#FFFFBF"/>
<circle cx="1805.24" cy="2096.66" r="9.50" fill="#F3784C"/>
<circle cx="282.50" cy="2135.83" r="9.50" fill="#F5FAD5"/>
<circle cx="319.64" cy="2135.83" r="9.50" fill="#F5FAD5"/>
<circle cx="356.78" cy="2135.83" r="9.50" fill="#FFF3AD"/>
<circle cx="393.92" cy="2135.83" r="9.50" fill="#FFF3AD"/>
<circle cx="431.06" cy="2135.83" r="10.50" fill="#FFB774"/>
<circle cx="468.20" cy="2135.83" r="10.50" fill="#FFF3AD"/>
<circle cx="505.34" cy="2135.83" r="7.50" fill="#D6ECF4"/>
<circle cx="542.48" cy="2135.83" r="7.50" fill="#D6ECF4"/>
<circle cx="579.62" cy="2135.83" r="7.50" fill="#D6ECF4"/>
<circle cx="616.76" cy="2135.83" r="7.50" fill="#E4F4F2"/>
<circle cx="653.90" cy="2135.83" r="7.50" fill="#E4F4F2"/>
<circle cx="691.04" cy="2135.83" r="7.50" fill="#E4F4F2"/>
<circle cx="728.18" cy="2135.83" r="7.50" fill="#D6ECF4"/>
<circle cx="765.32" cy="2135.83" r="7.50" fill="#D6ECF4"/>
<circle cx="802.46" cy="2135.83" r="6.50" fill="#B9D9E9"/>
<circle cx="839.60" cy="2135.83" r="5.50" fill="#D6ECF4"/>
<circle cx="876.74" cy="2135.83" r="5.50" fill="#B9D9E9"/>
<circle cx="913.88" cy="2135.83" r="5.50" fill="#B9D9E9"/>
<circle cx="951.02" cy="2135.83" r="6.50" fill="#D6ECF4"/>
<circle cx="988.16" cy="2135.83" r="3.50" fill="#B9D9E9"/>
<circle cx="1025.30" cy="2135.83" r="9.50" fill="#FD9860"/>
<circle cx="1062.44" cy="2135.83" r="7.50" fill="#B9D9E9"/>
<circle cx="1099.58" cy="2135.83" r="4.50" fill="#D6ECF4"/>
<circle cx="1136.72" cy="2135.83" r="10.50" fill="#F3784C"/>
<circle cx="1173.86" cy="2135.83" r="11.50" fill="#D73027"/>
<circle cx="1211.00" cy="2135.83" r="11.50" fill="#D73027"/>
<circle cx="1248.14" cy="2135.83" r="11.50" fill="#D73027"/>
<circle cx="1285.28" cy="2135.83" r="11.50" fill="#E65839"/>
<circle cx="1322.42" cy="2135.83" r="9.50" fill="#F5FAD5"/>
<circle cx="1359.56" cy="2135.83" r="9.50" fill="#FFF3AD"/>
<circle cx="1396.70" cy="2135.83" r="11.50" fill="#FFD689"/>
<circle cx="1433.84" cy="2135.83" r="10.50" fill="#FFF3AD"/>
<circle cx="1470.98" cy="2135.83" r="12.50" fill="#F3784C"/>
<circle cx="1508.12" cy="2135.83" r="12.50" fill="#F3784C"/>
<circle cx="1545.26" cy="2135.83" r="3.50" fill="#9BC5DF"/>
<circle cx="1582.40" cy="2135.83" r="3.50" fill="#9BC5DF"/>
<circle cx="1619.54" cy="2135.83" r="10.50" fill="#FFE89C"/>
<circle cx="1656.68" cy="2135.83" r="10.50" fill="#FFF3AD"/>
<circle cx="1693.82" cy="2135.83" r="10.50" fill="#F5FAD5"/>
<circle cx="1730.96" cy="2135.83" r="9.50" fill="#FFFFBF"/>
<circle cx="1768.10" cy="2135.83" r="11.50" fill="#FFD689"/>
<circle cx="1805.24" cy="2135.83" r="10.50" fill="#FFF3AD"/>
<circle cx="282.50" cy="2175.00" r="3.50" fill="#B9D9E9"/>
<circle cx="319.64" cy="2175.00" r="3.50" fill="#7FACD1"/>
<circle cx="356.78" cy="2175.00" r="6.50" fill="#F3784C"/>
<circle cx="393.92" cy="2175.00" r="6.50" fill="#D73027"/>
<circle cx="431.06" cy="2175.00" r="3.50" fill="#FFE89C"/>
<circle cx="468.20" cy="2175.00" r="7.50" fill="#D73027"/>
<circle cx="505.34" cy="2175.00" r="5.50" fill="#D6ECF4"/>
<circle cx="542.48" cy="2175.00" r="5.50" fill="#E4F4F2"/>
<circle cx="579.62" cy="2175.00" r="5.50" fill="#D6ECF4"/>
<circle cx="616.76" cy="2175.00" r="6.50" fill="#FFB774"/>
<circle cx="653.90" cy="2175.00" r="6.50" fill="#FFB774"/>
<circle cx="691.04" cy="2175.00" r="6.50" fill="#D73027"/>
<circle cx="728.18" cy="2175.00" r="5.50" fill="#E4F4F2"/>
<circle cx="765.32" cy="2175.00" r="4.50" fill="#E4F4F2"/>
<circle cx="802.46" cy="2175.00" r="5.50" fill="#E4F4F2"/>
<circle cx="839.60" cy="2175.00" r="3.50" fill="#D6ECF4"/>
<circle cx="876.74" cy="2175.00" r="3.50" fill="#E4F4F2"/>
<circle cx="913.88" cy="2175.00" r="3.50" fill="#D6ECF4"/>
<circle cx="951.02" cy="2175.00" r="4.50" fill="#B9D9E9"/>
<circle cx="988.16" cy="2175.00" r="3.50" fill="#D6ECF4"/>
<circle cx="1025.30" cy="2175.00" r="3.50" fill="#D6ECF4"/>
<circle cx="1062.44" cy="2175.00" r="5.50" fill="#D6ECF4"/>
<circle cx="1099.58" cy="2175.00" r="3.50" fill="#B9D9E9"/>
<circle cx="1136.72" cy="2175.00" r="3.50" fill="#F5FAD5"/>
<circle cx="1173.86" cy="2175.00" r="4.50" fill="#B9D9E9"/>
<circle cx="1211.00" cy="2175.00" r="4.50" fill="#FFFFBF"/>
<circle cx="1248.14" cy="2175.00" r="4.50" fill="#D6ECF4"/>
<circle cx="1285.28" cy="2175.00" r="4.50" fill="#F5FAD5"/>
<circle cx="1322.42" cy="2175.00" r="6.50" fill="#FD9860"/>
<circle cx="1359.56" cy="2175.00" r="5.50" fill="#FFFFBF"/>
<circle cx="1396.70" cy="2175.00" r="4.50" fill="#B9D9E9"/>
<circle cx="1433.84" cy="2175.00" r="5.50" fill="#FFE89C"/>
<circle cx="1470.98" cy="2175.00" r="6.50" fill="#FFD689"/>
<circle cx="1508.12" cy="2175.00" r="6.50" fill="#FFE89C"/>
<circle cx="1545.26" cy="2175.00" r="6.50" fill="#E4F4F2"/>
<circle cx="1582.40" cy="2175.00" r="5.50" fill="#FFE89C"/>
<circle cx="1619.54" cy="2175.00" r="5.50" fill="#F5FAD5"/>
<circle cx="1656.68" cy="2175.00" r="5.50" fill="#D6ECF4"/>
<circle cx="1693.82" cy="2175.00" r="6.50" fill="#FD9860"/>
<circle cx="1730.96" cy="2175.00" r="6.50" fill="#F5FAD5"/>
<circle cx="1768.10" cy="2175.00" r="6.50" fill="#FD9860"/>
<circle cx="1805.24" cy="2175.00" r="7.50" fill="#D73027"/>
<g font-family="&quot;Liberation Sans&quot;, sans-serif" font-style="italic" font-size="21.5" fill="#000">
<text transform="translate(1824.9,223.85) scale(0.94,1)">Jdp2</text>
<text transform="translate(1824.9,263.02) scale(0.94,1)">Zfp324</text>
<text transform="translate(1824.9,302.19) scale(0.94,1)">Zscan20</text>
<text transform="translate(1824.9,341.36) scale(0.94,1)">Zfp143</text>
<text transform="translate(1824.9,380.53) scale(0.94,1)">Foxd2</text>
<text transform="translate(1824.9,419.70) scale(0.94,1)">Vax2</text>
<text transform="translate(1824.9,458.87) scale(0.94,1)">Pbx3</text>
<text transform="translate(1824.9,498.04) scale(0.94,1)">Prdm1</text>
<text transform="translate(1824.9,537.21) scale(0.94,1)">Cebpb</text>
<text transform="translate(1824.9,576.38) scale(0.94,1)">Hinfp</text>
<text transform="translate(1824.9,615.55) scale(0.94,1)">Jund</text>
<text transform="translate(1824.9,654.72) scale(0.94,1)">Tfeb</text>
<text transform="translate(1824.9,693.89) scale(0.94,1)">Prdm4</text>
<text transform="translate(1824.9,733.06) scale(0.94,1)">Zfp523</text>
<text transform="translate(1824.9,772.23) scale(0.94,1)">Prdm16</text>
<text transform="translate(1824.9,811.40) scale(0.94,1)">Etv5</text>
<text transform="translate(1824.9,850.57) scale(0.94,1)">Nfatc1</text>
<text transform="translate(1824.9,889.74) scale(0.94,1)">Zbtb49</text>
<text transform="translate(1824.9,928.91) scale(0.94,1)">Batf</text>
<text transform="translate(1824.9,968.08) scale(0.94,1)">Bhlhe40</text>
<text transform="translate(1824.9,1007.25) scale(0.94,1)">Foxj2</text>
<text transform="translate(1824.9,1046.42) scale(0.94,1)">Nr4a2</text>
<text transform="translate(1824.9,1085.59) scale(0.94,1)">Snai3</text>
<text transform="translate(1824.9,1124.76) scale(0.94,1)">Hic1</text>
<text transform="translate(1824.9,1163.93) scale(0.94,1)">Arid3a</text>
<text transform="translate(1824.9,1203.10) scale(0.94,1)">Xbp1</text>
<text transform="translate(1824.9,1242.27) scale(0.94,1)">Tfdp1</text>
<text transform="translate(1824.9,1281.44) scale(0.94,1)">Egr1</text>
<text transform="translate(1824.9,1320.61) scale(0.94,1)">Nfil3</text>
<text transform="translate(1824.9,1359.78) scale(0.94,1)">Irf8</text>
<text transform="translate(1824.9,1398.95) scale(0.94,1)">Zbtb20</text>
<text transform="translate(1824.9,1438.12) scale(0.94,1)">Gfi1</text>
<text transform="translate(1824.9,1477.29) scale(0.94,1)">Zfp410</text>
<text transform="translate(1824.9,1516.46) scale(0.94,1)">Eomes</text>
<text transform="translate(1824.9,1555.63) scale(0.94,1)">Klf9</text>
<text transform="translate(1824.9,1594.80) scale(0.94,1)">Smad4</text>
<text transform="translate(1824.9,1633.97) scale(0.94,1)">E2f6</text>
<text transform="translate(1824.9,1673.14) scale(0.94,1)">Zfp768</text>
<text transform="translate(1824.9,1712.31) scale(0.94,1)">Crem</text>
<text transform="translate(1824.9,1751.48) scale(0.94,1)">Dmrt2</text>
<text transform="translate(1824.9,1790.65) scale(0.94,1)">Tef</text>
<text transform="translate(1824.9,1829.82) scale(0.94,1)">Max</text>
<text transform="translate(1824.9,1868.99) scale(0.94,1)">Bhlhe41</text>
<text transform="translate(1824.9,1908.16) scale(0.94,1)">Heyl</text>
<text transform="translate(1824.9,1947.33) scale(0.94,1)">Zbtb3</text>
<text transform="translate(1824.9,1986.50) scale(0.94,1)">Nfe2l1</text>
<text transform="translate(1824.9,2025.67) scale(0.94,1)">Pax9</text>
<text transform="translate(1824.9,2064.84) scale(0.94,1)">Setbp1</text>
<text transform="translate(1824.9,2104.01) scale(0.94,1)">Homez</text>
<text transform="translate(1824.9,2143.18) scale(0.94,1)">Egr2</text>
<text transform="translate(1824.9,2182.35) scale(0.94,1)">Thrb</text>
</g>
<g font-family="&quot;Liberation Sans&quot;, sans-serif" font-size="14" fill="#000">
<text transform="translate(41.4,1004.3) scale(0.895,1)">Log expression level</text>
<circle cx="59.4" cy="1029" r="3.8" fill="#000"/>
<text transform="translate(84,1033.8) scale(0.895,1)">0.0</text>
<circle cx="59.4" cy="1065.2" r="9.45" fill="#000"/>
<text transform="translate(84,1070.0) scale(0.895,1)">2.5</text>
<circle cx="59.4" cy="1101" r="11.95" fill="#000"/>
<text transform="translate(84,1105.8) scale(0.895,1)">5.0</text>
<circle cx="59.4" cy="1137.2" r="13.75" fill="#000"/>
<text transform="translate(84,1142.0) scale(0.895,1)">7.5</text>
<text transform="translate(41.3,1210.7) scale(0.895,1)">Normalized rank score</text>
<defs><linearGradient id="cb" x1="0" y1="1" x2="0" y2="0">
<stop offset="0.000" stop-color="#4575B4"/>
<stop offset="0.025" stop-color="#5280BA"/>
<stop offset="0.050" stop-color="#5E8AC0"/>
<stop offset="0.075" stop-color="#6995C6"/>
<stop offset="0.100" stop-color="#74A1CB"/>
<stop offset="0.125" stop-color="#7FACD1"/>
<stop offset="0.150" stop-color="#8AB7D7"/>
<stop offset="0.175" stop-color="#95C2DC"/>
<stop offset="0.200" stop-color="#A1C9E1"/>
<stop offset="0.225" stop-color="#ADD1E5"/>
<stop offset="0.250" stop-color="#B9D9E9"/>
<stop offset="0.275" stop-color="#C5E1EE"/>
<stop offset="0.300" stop-color="#D1E8F2"/>
<stop offset="0.325" stop-color="#DCF0F7"/>
<stop offset="0.350" stop-color="#E4F4F2"/>
<stop offset="0.375" stop-color="#E9F6EA"/>
<stop offset="0.400" stop-color="#EEF8E1"/>
<stop offset="0.425" stop-color="#F3F9D9"/>
<stop offset="0.450" stop-color="#F7FBD0"/>
<stop offset="0.475" stop-color="#FBFDC8"/>
<stop offset="0.500" stop-color="#FFFFBF"/>
<stop offset="0.525" stop-color="#FFFAB8"/>
<stop offset="0.550" stop-color="#FFF6B1"/>
<stop offset="0.575" stop-color="#FFF1AA"/>
<stop offset="0.600" stop-color="#FFECA3"/>
<stop offset="0.625" stop-color="#FFE89C"/>
<stop offset="0.650" stop-color="#FEE395"/>
<stop offset="0.675" stop-color="#FEDC8D"/>
<stop offset="0.700" stop-color="#FFD085"/>
<stop offset="0.725" stop-color="#FFC47C"/>
<stop offset="0.750" stop-color="#FFB774"/>
<stop offset="0.775" stop-color="#FFAB6C"/>
<stop offset="0.800" stop-color="#FE9E64"/>
<stop offset="0.825" stop-color="#FC915C"/>
<stop offset="0.850" stop-color="#F98554"/>
<stop offset="0.875" stop-color="#F3784C"/>
<stop offset="0.900" stop-color="#EE6C44"/>
<stop offset="0.925" stop-color="#E95F3D"/>
<stop offset="0.950" stop-color="#E35135"/>
<stop offset="0.975" stop-color="#DD422E"/>
<stop offset="1.000" stop-color="#D73027"/>
</linearGradient></defs>
<rect x="41.1" y="1219.3" width="36.8" height="179.0" fill="url(#cb)"/>
<rect x="41.1" y="1218.70" width="7.4" height="1.2" fill="#FFF"/>
<rect x="70.5" y="1218.70" width="7.4" height="1.2" fill="#FFF"/>
<rect x="41.1" y="1263.45" width="7.4" height="1.2" fill="#FFF"/>
<rect x="70.5" y="1263.45" width="7.4" height="1.2" fill="#FFF"/>
<rect x="41.1" y="1308.20" width="7.4" height="1.2" fill="#FFF"/>
<rect x="70.5" y="1308.20" width="7.4" height="1.2" fill="#FFF"/>
<rect x="41.1" y="1352.95" width="7.4" height="1.2" fill="#FFF"/>
<rect x="70.5" y="1352.95" width="7.4" height="1.2" fill="#FFF"/>
<rect x="41.1" y="1397.70" width="7.4" height="1.2" fill="#FFF"/>
<rect x="70.5" y="1397.70" width="7.4" height="1.2" fill="#FFF"/>
<text transform="translate(84.4,1224.10) scale(0.895,1)">2</text>
<text transform="translate(84.4,1268.85) scale(0.895,1)">1</text>
<text transform="translate(84.4,1313.60) scale(0.895,1)">0</text>
<text transform="translate(84.4,1358.35) scale(0.895,1)">−1</text>
<text transform="translate(84.4,1403.10) scale(0.895,1)">−2</text>
</g>
</svg></body></html>
